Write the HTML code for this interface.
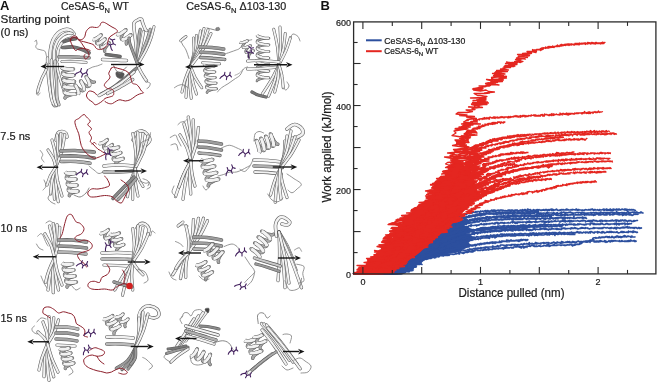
<!DOCTYPE html>
<html><head><meta charset="utf-8"><style>
html,body{margin:0;padding:0;background:#fff;}
body{width:657px;height:382px;overflow:hidden;position:relative;}
svg{position:absolute;left:0;top:0;font-family:"Liberation Sans", sans-serif;will-change:transform;}
</style></head><body>
<svg width="657" height="382" viewBox="0 0 657 382">
<g transform="translate(0,0) scale(0.25)"><path d="M140,166C141,165 144,159 145,160C146,162 148,171 148,176C147,180 142,182 143,186C143,189 145,193 150,196C155,198 165,199 170,201C175,202 178,202 180,206C183,209 184,216 185,221C187,226 190,233 190,236" fill="none" stroke="#7a7a7a" stroke-width="3.2" stroke-linecap="round" stroke-linejoin="round"/><path d="M200,248C201,240 200,215 202,200C204,185 207,171 212,160C217,149 225,139 232,132C239,125 248,121 256,119C264,117 273,117 280,120C287,123 293,133 296,135" fill="none" stroke="#5a5a5a" stroke-width="14.8" stroke-linecap="round" stroke-linejoin="round"/><path d="M200,248C201,240 200,215 202,200C204,185 207,171 212,160C217,149 225,139 232,132C239,125 248,121 256,119C264,117 273,117 280,120C287,123 293,133 296,135" fill="none" stroke="#f2f2f2" stroke-width="10.4" stroke-linecap="round" stroke-linejoin="round"/><path d="M216,248C216,240 215,214 217,200C219,186 224,174 229,164C234,154 242,148 249,142C256,137 264,133 271,132C277,131 285,134 288,134" fill="none" stroke="#5a5a5a" stroke-width="13.2" stroke-linecap="round" stroke-linejoin="round"/><path d="M216,248C216,240 215,214 217,200C219,186 224,174 229,164C234,154 242,148 249,142C256,137 264,133 271,132C277,131 285,134 288,134" fill="none" stroke="#f2f2f2" stroke-width="8.8" stroke-linecap="round" stroke-linejoin="round"/><path d="M230,240C230,234 230,215 232,204C234,193 239,184 244,176C249,168 257,162 264,158C271,154 281,153 284,152" fill="none" stroke="#5a5a5a" stroke-width="12.4" stroke-linecap="round" stroke-linejoin="round"/><path d="M230,240C230,234 230,215 232,204C234,193 239,184 244,176C249,168 257,162 264,158C271,154 281,153 284,152" fill="none" stroke="#f2f2f2" stroke-width="8.0" stroke-linecap="round" stroke-linejoin="round"/><path d="M256,166C260,165 272,160 280,158C288,156 300,155 304,154" fill="none" stroke="#5a5a5a" stroke-width="14.8" stroke-linecap="round" stroke-linejoin="round"/><path d="M256,166C260,165 272,160 280,158C288,156 300,155 304,154" fill="none" stroke="#6e6e6e" stroke-width="10.4" stroke-linecap="round" stroke-linejoin="round"/><path d="M251,190C257,190 278,187 291,188C304,189 317,194 328,198C339,202 351,209 356,211" fill="none" stroke="#5a5a5a" stroke-width="14.8" stroke-linecap="round" stroke-linejoin="round"/><path d="M251,190C257,190 278,187 291,188C304,189 317,194 328,198C339,202 351,209 356,211" fill="none" stroke="#777" stroke-width="10.4" stroke-linecap="round" stroke-linejoin="round"/><path d="M236,227C243,227 266,227 280,227C294,227 307,228 320,229C333,229 350,230 356,231" fill="none" stroke="#5a5a5a" stroke-width="14.8" stroke-linecap="round" stroke-linejoin="round"/><path d="M236,227C243,227 266,227 280,227C294,227 307,228 320,229C333,229 350,230 356,231" fill="none" stroke="#a8a8a8" stroke-width="10.4" stroke-linecap="round" stroke-linejoin="round"/><path d="M248,246C257,246 284,245 300,246C316,247 337,249 344,250" fill="none" stroke="#5a5a5a" stroke-width="12.4" stroke-linecap="round" stroke-linejoin="round"/><path d="M248,246C257,246 284,245 300,246C316,247 337,249 344,250" fill="none" stroke="#f2f2f2" stroke-width="8.0" stroke-linecap="round" stroke-linejoin="round"/><path d="M190,232C190,237 190,248 190,263C191,278 193,301 195,323C198,345 202,378 206,394C209,410 214,415 216,419" fill="none" stroke="#5a5a5a" stroke-width="12.8" stroke-linecap="round" stroke-linejoin="round"/><path d="M190,232C190,237 190,248 190,263C191,278 193,301 195,323C198,345 202,378 206,394C209,410 214,415 216,419" fill="none" stroke="#f2f2f2" stroke-width="8.4" stroke-linecap="round" stroke-linejoin="round"/><path d="M206,240C206,244 205,249 206,263C206,277 206,301 208,323C210,345 213,377 216,394C219,410 224,417 226,421" fill="none" stroke="#5a5a5a" stroke-width="12.8" stroke-linecap="round" stroke-linejoin="round"/><path d="M206,240C206,244 205,249 206,263C206,277 206,301 208,323C210,345 213,377 216,394C219,410 224,417 226,421" fill="none" stroke="#f2f2f2" stroke-width="8.4" stroke-linecap="round" stroke-linejoin="round"/><path d="M220,244C220,248 220,255 220,268C221,281 224,303 226,323C227,343 226,373 228,389C230,405 234,414 236,419" fill="none" stroke="#5a5a5a" stroke-width="12.8" stroke-linecap="round" stroke-linejoin="round"/><path d="M220,244C220,248 220,255 220,268C221,281 224,303 226,323C227,343 226,373 228,389C230,405 234,414 236,419" fill="none" stroke="#cfcfcf" stroke-width="8.4" stroke-linecap="round" stroke-linejoin="round"/><path d="M230,256C230,260 228,265 230,278C233,291 241,318 246,334C251,350 258,367 261,374" fill="none" stroke="#5a5a5a" stroke-width="11.6" stroke-linecap="round" stroke-linejoin="round"/><path d="M230,256C230,260 228,265 230,278C233,291 241,318 246,334C251,350 258,367 261,374" fill="none" stroke="#f2f2f2" stroke-width="7.2" stroke-linecap="round" stroke-linejoin="round"/><path d="M185,256C185,260 188,269 185,278C182,287 173,300 168,312C163,324 158,339 155,348C152,358 151,365 150,369" fill="none" stroke="#5a5a5a" stroke-width="12.0" stroke-linecap="round" stroke-linejoin="round"/><path d="M185,256C185,260 188,269 185,278C182,287 173,300 168,312C163,324 158,339 155,348C152,358 151,365 150,369" fill="none" stroke="#f2f2f2" stroke-width="7.6" stroke-linecap="round" stroke-linejoin="round"/><path d="M150,369C149,370 145,374 145,376C146,378 152,381 154,380C156,379 159,373 160,372" fill="none" stroke="#7a7a7a" stroke-width="3.2" stroke-linecap="round" stroke-linejoin="round"/><path d="M208,418C209,420 212,427 216,428C220,429 228,426 230,426" fill="none" stroke="#7a7a7a" stroke-width="3.6" stroke-linecap="round" stroke-linejoin="round"/><path d="M294,276l-3 0-6 1-9 2-9 3-9 3-6 4-2 4M296,301l-2 0-6 1-9 2-10 3-9 3-6 4-2 4M298,326l-2 0-6 1-9 2-10 2-8 4-6 4-2 4M301,351l-2 0-7 1-9 1-9 3-9 4-6 3-2 4M303,375l-2 1-6 0-9 2-10 3-9 3-5 4-2 4" fill="none" stroke="#5a5a5a" stroke-width="14.0" stroke-linecap="round"/><path d="M294,276l-3 0-6 1-9 2-9 3-9 3-6 4-2 4M296,301l-2 0-6 1-9 2-10 3-9 3-6 4-2 4M298,326l-2 0-6 1-9 2-10 2-8 4-6 4-2 4M301,351l-2 0-7 1-9 1-9 3-9 4-6 3-2 4M303,375l-2 1-6 0-9 2-10 3-9 3-5 4-2 4" fill="none" stroke="#a8a8a8" stroke-width="10.0" stroke-linecap="round"/><path d="M248,268l2 4 7 2 9 2 10 1 9 0 6 0 3-1" fill="none" stroke="#5a5a5a" stroke-width="16.5"/><path d="M248,268l2 4 7 2 9 2 10 1 9 0 6 0 3-1" fill="none" stroke="#f2f2f2" stroke-width="12.5"/><path d="M250,293l3 3 6 3 9 2 10 1 10 0 6-1 2 0" fill="none" stroke="#5a5a5a" stroke-width="16.5"/><path d="M250,293l3 3 6 3 9 2 10 1 10 0 6-1 2 0" fill="none" stroke="#f2f2f2" stroke-width="12.5"/><path d="M252,318l3 3 7 3 9 2 10 0 9 1 6-1 2 0" fill="none" stroke="#5a5a5a" stroke-width="16.5"/><path d="M252,318l3 3 7 3 9 2 10 0 9 1 6-1 2 0" fill="none" stroke="#f2f2f2" stroke-width="12.5"/><path d="M255,343l2 3 7 3 9 1 10 1 9 0 7 0 2 0" fill="none" stroke="#5a5a5a" stroke-width="16.5"/><path d="M255,343l2 3 7 3 9 1 10 1 9 0 7 0 2 0" fill="none" stroke="#f2f2f2" stroke-width="12.5"/><path d="M257,367l3 4 6 2 10 2 10 1 9 0 6 0 2-1" fill="none" stroke="#5a5a5a" stroke-width="16.5"/><path d="M257,367l3 4 6 2 10 2 10 1 9 0 6 0 2-1" fill="none" stroke="#f2f2f2" stroke-width="12.5"/><path d="M300,340l1 2 4 4 5 5 7 6 7 4 6 2 4-1M322,324l1 1 4 4 5 5 7 6 6 4 6 2 5-1M344,307l1 1 4 4 5 6 6 5 7 4 6 2 5-1" fill="none" stroke="#5a5a5a" stroke-width="12.8" stroke-linecap="round"/><path d="M300,340l1 2 4 4 5 5 7 6 7 4 6 2 4-1M322,324l1 1 4 4 5 5 7 6 6 4 6 2 5-1M344,307l1 1 4 4 5 6 6 5 7 4 6 2 5-1" fill="none" stroke="#a8a8a8" stroke-width="8.8" stroke-linecap="round"/><path d="M312,378l2-4 0-6-2-8-4-7-3-7-3-4-2-2" fill="none" stroke="#5a5a5a" stroke-width="15.0"/><path d="M312,378l2-4 0-6-2-8-4-7-3-7-3-4-2-2" fill="none" stroke="#f2f2f2" stroke-width="11.0"/><path d="M334,362l2-4 0-7-2-7-4-8-4-7-2-4-2-1" fill="none" stroke="#5a5a5a" stroke-width="15.0"/><path d="M334,362l2-4 0-7-2-7-4-8-4-7-2-4-2-1" fill="none" stroke="#f2f2f2" stroke-width="11.0"/><path d="M356,345l2-4 0-7-3-7-3-8-4-6-3-5-1-1" fill="none" stroke="#5a5a5a" stroke-width="15.0"/><path d="M356,345l2-4 0-7-3-7-3-8-4-6-3-5-1-1" fill="none" stroke="#f2f2f2" stroke-width="11.0"/><path d="M351,278C355,276 365,270 371,268C378,266 385,265 391,263C397,261 405,257 408,256" fill="none" stroke="#8d8d8d" stroke-width="3.6" stroke-linecap="round" stroke-linejoin="round"/><path d="M504,119l-2 1-3 4-5 6-5 8-3 7-1 7 1 4M524,139l-2 1-3 4-5 6-5 8-3 7-1 7 1 4" fill="none" stroke="#5a5a5a" stroke-width="13.2" stroke-linecap="round"/><path d="M504,119l-2 1-3 4-5 6-5 8-3 7-1 7 1 4M524,139l-2 1-3 4-5 6-5 8-3 7-1 7 1 4" fill="none" stroke="#a8a8a8" stroke-width="9.2" stroke-linecap="round"/><path d="M466,136l5 2 6-1 8-4 7-5 6-4 5-4 1-1" fill="none" stroke="#5a5a5a" stroke-width="15.5"/><path d="M466,136l5 2 6-1 8-4 7-5 6-4 5-4 1-1" fill="none" stroke="#f2f2f2" stroke-width="11.5"/><path d="M486,156l5 2 6-1 8-4 7-5 6-4 5-4 1-1" fill="none" stroke="#5a5a5a" stroke-width="15.5"/><path d="M486,156l5 2 6-1 8-4 7-5 6-4 5-4 1-1" fill="none" stroke="#f2f2f2" stroke-width="11.5"/><path d="M405,139l-1 1-4 4-4 6-5 7-4 7-1 5 1 4M421,155l-1 1-4 4-4 6-5 7-4 7-1 5 1 4M437,171l-1 1-4 4-4 6-5 7-4 7-1 5 1 4" fill="none" stroke="#5a5a5a" stroke-width="12.8" stroke-linecap="round"/><path d="M405,139l-1 1-4 4-4 6-5 7-4 7-1 5 1 4M421,155l-1 1-4 4-4 6-5 7-4 7-1 5 1 4M437,171l-1 1-4 4-4 6-5 7-4 7-1 5 1 4" fill="none" stroke="#a8a8a8" stroke-width="8.8" stroke-linecap="round"/><path d="M371,157l4 1 5-1 7-4 7-5 6-4 4-4 1-1" fill="none" stroke="#5a5a5a" stroke-width="15.0"/><path d="M371,157l4 1 5-1 7-4 7-5 6-4 4-4 1-1" fill="none" stroke="#f2f2f2" stroke-width="11.0"/><path d="M387,173l4 1 5-1 7-4 7-5 6-4 4-4 1-1" fill="none" stroke="#5a5a5a" stroke-width="15.0"/><path d="M387,173l4 1 5-1 7-4 7-5 6-4 4-4 1-1" fill="none" stroke="#f2f2f2" stroke-width="11.0"/><path d="M403,189l4 1 5-1 7-4 7-5 6-4 4-4 1-1" fill="none" stroke="#5a5a5a" stroke-width="15.0"/><path d="M403,189l4 1 5-1 7-4 7-5 6-4 4-4 1-1" fill="none" stroke="#f2f2f2" stroke-width="11.0"/><path d="M425,218C430,218 443,221 452,222C461,223 475,225 480,226" fill="none" stroke="#5a5a5a" stroke-width="14.8" stroke-linecap="round" stroke-linejoin="round"/><path d="M425,218C430,218 443,221 452,222C461,223 475,225 480,226" fill="none" stroke="#6e6e6e" stroke-width="10.4" stroke-linecap="round" stroke-linejoin="round"/><path d="M410,238C418,238 440,239 456,240C472,241 497,242 506,242" fill="none" stroke="#5a5a5a" stroke-width="13.6" stroke-linecap="round" stroke-linejoin="round"/><path d="M410,238C418,238 440,239 456,240C472,241 497,242 506,242" fill="none" stroke="#f2f2f2" stroke-width="9.2" stroke-linecap="round" stroke-linejoin="round"/><path d="M551,258C550,245 546,204 544,180C542,156 537,127 536,112C535,97 534,97 536,92C538,87 546,82 551,80C556,77 563,75 566,77C569,79 568,85 571,92C573,99 579,112 581,117C584,122 585,122 586,122" fill="none" stroke="#5a5a5a" stroke-width="13.6" stroke-linecap="round" stroke-linejoin="round"/><path d="M551,258C550,245 546,204 544,180C542,156 537,127 536,112C535,97 534,97 536,92C538,87 546,82 551,80C556,77 563,75 566,77C569,79 568,85 571,92C573,99 579,112 581,117C584,122 585,122 586,122" fill="none" stroke="#f2f2f2" stroke-width="9.2" stroke-linecap="round" stroke-linejoin="round"/><path d="M551,258C551,247 551,211 552,192C553,173 555,156 556,144C557,132 560,122 561,117" fill="none" stroke="#5a5a5a" stroke-width="12.8" stroke-linecap="round" stroke-linejoin="round"/><path d="M551,258C551,247 551,211 552,192C553,173 555,156 556,144C557,132 560,122 561,117" fill="none" stroke="#aaa" stroke-width="8.4" stroke-linecap="round" stroke-linejoin="round"/><path d="M551,258C552,248 557,216 560,200C563,184 566,172 568,160C570,148 573,133 574,127" fill="none" stroke="#5a5a5a" stroke-width="12.8" stroke-linecap="round" stroke-linejoin="round"/><path d="M551,258C552,248 557,216 560,200C563,184 566,172 568,160C570,148 573,133 574,127" fill="none" stroke="#f2f2f2" stroke-width="8.4" stroke-linecap="round" stroke-linejoin="round"/><path d="M551,258C554,248 566,216 572,200C578,184 583,174 588,160C593,146 599,124 601,117" fill="none" stroke="#5a5a5a" stroke-width="12.4" stroke-linecap="round" stroke-linejoin="round"/><path d="M551,258C554,248 566,216 572,200C578,184 583,174 588,160C593,146 599,124 601,117" fill="none" stroke="#bbb" stroke-width="8.0" stroke-linecap="round" stroke-linejoin="round"/><path d="M551,258C556,248 575,218 584,200C593,182 599,167 604,152C609,137 614,115 616,107" fill="none" stroke="#5a5a5a" stroke-width="12.0" stroke-linecap="round" stroke-linejoin="round"/><path d="M551,258C556,248 575,218 584,200C593,182 599,167 604,152C609,137 614,115 616,107" fill="none" stroke="#f2f2f2" stroke-width="7.6" stroke-linecap="round" stroke-linejoin="round"/><path d="M551,258C548,250 537,222 532,208C527,194 523,185 520,176C517,167 517,156 516,152" fill="none" stroke="#5a5a5a" stroke-width="12.4" stroke-linecap="round" stroke-linejoin="round"/><path d="M551,258C548,250 537,222 532,208C527,194 523,185 520,176C517,167 517,156 516,152" fill="none" stroke="#999" stroke-width="8.0" stroke-linecap="round" stroke-linejoin="round"/><path d="M551,263C553,267 560,281 564,288C568,295 572,302 576,308C580,314 584,321 586,323" fill="none" stroke="#5a5a5a" stroke-width="12.8" stroke-linecap="round" stroke-linejoin="round"/><path d="M551,263C553,267 560,281 564,288C568,295 572,302 576,308C580,314 584,321 586,323" fill="none" stroke="#f2f2f2" stroke-width="8.4" stroke-linecap="round" stroke-linejoin="round"/><path d="M586,323C587,324 589,327 591,328C594,330 600,330 601,334C602,337 598,345 596,348C594,352 590,353 588,354" fill="none" stroke="#7a7a7a" stroke-width="3.2" stroke-linecap="round" stroke-linejoin="round"/><path d="M546,273C539,279 521,296 506,308C490,321 472,337 455,348C438,360 414,371 405,376" fill="none" stroke="#5a5a5a" stroke-width="14.0" stroke-linecap="round" stroke-linejoin="round"/><path d="M546,273C539,279 521,296 506,308C490,321 472,337 455,348C438,360 414,371 405,376" fill="none" stroke="#8a8a8a" stroke-width="9.6" stroke-linecap="round" stroke-linejoin="round"/><path d="M536,288C528,295 504,316 488,328C472,340 455,349 440,358C425,367 403,378 396,382" fill="none" stroke="#5a5a5a" stroke-width="13.2" stroke-linecap="round" stroke-linejoin="round"/><path d="M536,288C528,295 504,316 488,328C472,340 455,349 440,358C425,367 403,378 396,382" fill="none" stroke="#f2f2f2" stroke-width="8.8" stroke-linecap="round" stroke-linejoin="round"/><path d="M531,318C522,323 497,339 480,348C464,358 439,369 430,374" fill="none" stroke="#5a5a5a" stroke-width="13.2" stroke-linecap="round" stroke-linejoin="round"/><path d="M531,318C522,323 497,339 480,348C464,358 439,369 430,374" fill="none" stroke="#e8e8e8" stroke-width="8.8" stroke-linecap="round" stroke-linejoin="round"/><path d="M466,288C470,286 492,290 496,294C499,298 493,311 488,313C483,316 472,312 468,308C464,304 461,290 466,288Z" fill="#555" stroke="#5a5a5a" stroke-width="2.2"/><path d="M455,263C457,267 461,278 466,283C470,288 475,294 480,293C485,292 491,282 496,278C500,274 504,270 506,268" fill="none" stroke="#777" stroke-width="3.6" stroke-linecap="round" stroke-linejoin="round"/><path d="M281,160C282,159 282,153 285,150C288,147 294,144 298,144C301,143 304,144 306,146C308,148 308,152 310,154C313,156 315,158 319,158C322,159 328,159 331,156C335,154 338,148 340,144C342,139 341,132 344,127C346,122 352,116 356,112C361,109 364,108 369,108C374,108 381,111 386,110C391,110 395,107 398,104C402,101 402,94 404,92C407,89 410,88 415,89C419,90 426,94 432,98C437,101 443,105 448,108C454,111 460,114 463,116C467,119 470,122 470,125C469,128 465,130 461,133C457,136 449,140 444,144C440,147 438,148 436,152C434,156 433,160 432,165C430,170 430,177 428,182C426,186 423,187 419,190C415,193 408,198 402,198C397,199 390,197 386,194C381,191 381,185 377,182C374,178 370,177 365,175C359,173 350,171 344,169C337,167 332,166 327,165C322,163 317,161 314,160" fill="none" stroke="#8c1f2b" stroke-width="4.0" stroke-linecap="round" stroke-linejoin="round"/><path d="M281,160C282,163 283,168 285,173C287,178 291,185 294,190C296,195 299,201 302,202C305,204 307,200 310,198C314,197 319,195 323,194C327,193 330,193 335,194C340,195 348,197 352,198C356,200 359,202 360,202" fill="none" stroke="#8c1f2b" stroke-width="4.0" stroke-linecap="round" stroke-linejoin="round"/><path d="M281,166C282,164 283,158 286,155C289,153 292,150 296,150C300,150 307,153 311,155C315,158 318,161 321,166C325,170 328,175 331,180C335,185 338,191 341,196C345,200 349,201 351,206C354,210 356,217 356,221C356,225 354,228 351,231C349,233 344,236 341,236C339,235 336,229 336,226C336,222 340,217 341,216" fill="none" stroke="#8c1f2b" stroke-width="4.0" stroke-linecap="round" stroke-linejoin="round"/><path d="M445,273C444,277 436,287 435,293C434,299 441,303 440,308C440,313 434,319 430,323C427,327 422,330 420,334C418,337 416,340 418,344C419,347 425,351 430,354C436,356 446,355 450,358C455,362 455,369 455,374C455,378 454,381 450,384C447,386 440,387 435,389C430,390 424,391 420,394C416,396 414,400 410,404C406,407 400,411 395,414C390,417 384,420 380,419C376,418 375,412 371,409C367,405 360,403 356,399C352,395 347,389 346,384C345,379 349,372 351,369C354,365 357,364 361,364C365,364 372,366 376,369C381,371 385,377 386,379" fill="none" stroke="#8c1f2b" stroke-width="4.0" stroke-linecap="round" stroke-linejoin="round"/><path d="M445,273C447,272 451,268 455,268C459,268 465,272 470,273C476,275 484,276 490,278C497,280 506,284 511,288C516,292 518,297 521,303C523,309 524,318 526,323C527,328 527,331 531,334C534,336 542,336 546,338C550,341 553,344 556,348C559,353 563,360 566,364C569,367 574,370 574,371C574,373 570,372 566,374C562,375 556,376 551,379C546,381 541,385 536,389C531,392 527,396 521,399C515,401 508,404 501,404C494,404 486,399 480,399C475,399 471,401 466,404C461,406 455,412 450,414C445,416 440,415 435,414C430,413 423,408 420,406" fill="none" stroke="#8c1f2b" stroke-width="4.0" stroke-linecap="round" stroke-linejoin="round"/><path d="M308,300L320,288M320,288L332,296M332,296L344,284M320,288L320,276M332,296L332,308M344,284L352,292M308,300L304,308M344,284L344,272" stroke="#43215e" stroke-width="4.4" stroke-linecap="round" fill="none" transform="rotate(20 328 292)"/><path d="M430,183L441,172M441,172L452,180M452,180L462,169M441,172L441,162M452,180L452,190M462,169L470,176M430,183L426,190M462,169L462,158" stroke="#43215e" stroke-width="4.4" stroke-linecap="round" fill="none" transform="rotate(-60 448 176)"/><path d="M256,266L183,266" stroke="#151515" stroke-width="5.6"/><path d="M162,266L188,254L180,266L188,277Z" fill="#151515"/><path d="M444,258L557,258" stroke="#151515" stroke-width="5.6"/><path d="M578,258L552,269L560,258L552,247Z" fill="#151515"/></g>
<g transform="translate(0,0) scale(0.25)"><path d="M723,163C724,166 728,173 731,180C735,186 740,191 744,200C748,209 754,228 756,234" fill="none" stroke="#7a7a7a" stroke-width="3.2" stroke-linecap="round" stroke-linejoin="round"/><path d="M723,163C726,160 740,149 744,146" fill="none" stroke="#5a5a5a" stroke-width="11.6" stroke-linecap="round" stroke-linejoin="round"/><path d="M723,163C726,160 740,149 744,146" fill="none" stroke="#f2f2f2" stroke-width="7.2" stroke-linecap="round" stroke-linejoin="round"/><path d="M828,112C831,113 842,115 848,117C855,118 861,121 865,121C869,121 872,117 874,117" fill="none" stroke="#7a7a7a" stroke-width="3.6" stroke-linecap="round" stroke-linejoin="round"/><path d="M864,112C866,110 874,109 876,110C878,111 880,118 878,120C876,122 868,123 866,122C864,121 862,114 864,112Z" fill="#888" stroke="#5a5a5a" stroke-width="2.2"/><path d="M762,266C764,256 774,228 776,209C778,190 774,162 774,152" fill="none" stroke="#5a5a5a" stroke-width="12.0" stroke-linecap="round" stroke-linejoin="round"/><path d="M762,266C764,256 774,228 776,209C778,190 774,162 774,152" fill="none" stroke="#f2f2f2" stroke-width="7.6" stroke-linecap="round" stroke-linejoin="round"/><path d="M762,266C765,256 778,225 782,204C786,184 785,153 786,142" fill="none" stroke="#5a5a5a" stroke-width="12.0" stroke-linecap="round" stroke-linejoin="round"/><path d="M762,266C765,256 778,225 782,204C786,184 785,153 786,142" fill="none" stroke="#f2f2f2" stroke-width="7.6" stroke-linecap="round" stroke-linejoin="round"/><path d="M762,266C767,254 783,219 790,195C797,171 800,136 802,124" fill="none" stroke="#5a5a5a" stroke-width="12.0" stroke-linecap="round" stroke-linejoin="round"/><path d="M762,266C767,254 783,219 790,195C797,171 800,136 802,124" fill="none" stroke="#f2f2f2" stroke-width="7.6" stroke-linecap="round" stroke-linejoin="round"/><path d="M762,266C768,253 788,215 797,190C806,165 813,127 816,114" fill="none" stroke="#5a5a5a" stroke-width="12.0" stroke-linecap="round" stroke-linejoin="round"/><path d="M762,266C768,253 788,215 797,190C806,165 813,127 816,114" fill="none" stroke="#f2f2f2" stroke-width="7.6" stroke-linecap="round" stroke-linejoin="round"/><path d="M762,266C769,254 793,217 805,193C817,169 828,132 832,120" fill="none" stroke="#5a5a5a" stroke-width="12.0" stroke-linecap="round" stroke-linejoin="round"/><path d="M762,266C769,254 793,217 805,193C817,169 828,132 832,120" fill="none" stroke="#f2f2f2" stroke-width="7.6" stroke-linecap="round" stroke-linejoin="round"/><path d="M762,266C770,255 797,222 811,200C825,178 838,145 844,134" fill="none" stroke="#5a5a5a" stroke-width="12.0" stroke-linecap="round" stroke-linejoin="round"/><path d="M762,266C770,255 797,222 811,200C825,178 838,145 844,134" fill="none" stroke="#f2f2f2" stroke-width="7.6" stroke-linecap="round" stroke-linejoin="round"/><path d="M762,266C760,276 752,307 749,328C746,348 745,379 744,389" fill="none" stroke="#5a5a5a" stroke-width="12.0" stroke-linecap="round" stroke-linejoin="round"/><path d="M762,266C760,276 752,307 749,328C746,348 745,379 744,389" fill="none" stroke="#f2f2f2" stroke-width="7.6" stroke-linecap="round" stroke-linejoin="round"/><path d="M762,266C762,277 759,308 759,330C760,351 764,383 765,393" fill="none" stroke="#5a5a5a" stroke-width="12.0" stroke-linecap="round" stroke-linejoin="round"/><path d="M762,266C762,277 759,308 759,330C760,351 764,383 765,393" fill="none" stroke="#f2f2f2" stroke-width="7.6" stroke-linecap="round" stroke-linejoin="round"/><path d="M762,266C763,275 766,303 770,321C774,340 783,367 786,376" fill="none" stroke="#5a5a5a" stroke-width="12.0" stroke-linecap="round" stroke-linejoin="round"/><path d="M762,266C763,275 766,303 770,321C774,340 783,367 786,376" fill="none" stroke="#f2f2f2" stroke-width="7.6" stroke-linecap="round" stroke-linejoin="round"/><path d="M762,266C765,273 773,294 780,309C788,323 802,344 807,351" fill="none" stroke="#5a5a5a" stroke-width="12.0" stroke-linecap="round" stroke-linejoin="round"/><path d="M762,266C765,273 773,294 780,309C788,323 802,344 807,351" fill="none" stroke="#f2f2f2" stroke-width="7.6" stroke-linecap="round" stroke-linejoin="round"/><path d="M762,266C758,274 747,300 741,317C735,334 730,360 728,368" fill="none" stroke="#5a5a5a" stroke-width="12.0" stroke-linecap="round" stroke-linejoin="round"/><path d="M762,266C758,274 747,300 741,317C735,334 730,360 728,368" fill="none" stroke="#f2f2f2" stroke-width="7.6" stroke-linecap="round" stroke-linejoin="round"/><path d="M698,351C700,350 705,345 710,343C716,341 724,337 731,339C738,340 749,349 752,351" fill="none" stroke="#7a7a7a" stroke-width="3.2" stroke-linecap="round" stroke-linejoin="round"/><path d="M798,188C807,188 832,189 848,190C864,191 887,195 895,196" fill="none" stroke="#5a5a5a" stroke-width="14.0" stroke-linecap="round" stroke-linejoin="round"/><path d="M798,188C807,188 832,189 848,190C864,191 887,195 895,196" fill="none" stroke="#9c9c9c" stroke-width="9.6" stroke-linecap="round" stroke-linejoin="round"/><path d="M802,209C810,209 833,210 848,211C863,213 887,216 895,217" fill="none" stroke="#5a5a5a" stroke-width="14.0" stroke-linecap="round" stroke-linejoin="round"/><path d="M802,209C810,209 833,210 848,211C863,213 887,216 895,217" fill="none" stroke="#9c9c9c" stroke-width="9.6" stroke-linecap="round" stroke-linejoin="round"/><path d="M802,230C811,230 836,231 852,233C868,234 891,237 899,238" fill="none" stroke="#5a5a5a" stroke-width="13.2" stroke-linecap="round" stroke-linejoin="round"/><path d="M802,230C811,230 836,231 852,233C868,234 891,237 899,238" fill="none" stroke="#b0b0b0" stroke-width="8.8" stroke-linecap="round" stroke-linejoin="round"/><path d="M811,251C822,252 867,254 878,255" fill="none" stroke="#5a5a5a" stroke-width="12.4" stroke-linecap="round" stroke-linejoin="round"/><path d="M811,251C822,252 867,254 878,255" fill="none" stroke="#f2f2f2" stroke-width="8.0" stroke-linecap="round" stroke-linejoin="round"/><path d="M858,265l-2 0-6 1-8 2-9 2-8 3-5 4-2 4M860,287l-2 1-6 0-8 2-9 3-8 3-5 3-2 4M862,310l-2 0-5 1-8 1-9 3-8 3-6 4-1 3M865,332l-2 0-6 1-8 2-9 2-8 4-5 3-2 4M867,355l-2 0-5 1-9 1-8 3-8 3-6 4-1 3" fill="none" stroke="#5a5a5a" stroke-width="10.5" stroke-linecap="round"/><path d="M858,265l-2 0-6 1-8 2-9 2-8 3-5 4-2 4M860,287l-2 1-6 0-8 2-9 3-8 3-5 3-2 4M862,310l-2 0-5 1-8 1-9 3-8 3-6 4-1 3M865,332l-2 0-6 1-8 2-9 2-8 4-5 3-2 4M867,355l-2 0-5 1-9 1-8 3-8 3-6 4-1 3" fill="none" stroke="#a8a8a8" stroke-width="6.5" stroke-linecap="round"/><path d="M816,258l2 3 6 3 8 1 10 1 8 0 6-1 2 0" fill="none" stroke="#5a5a5a" stroke-width="12.2"/><path d="M816,258l2 3 6 3 8 1 10 1 8 0 6-1 2 0" fill="none" stroke="#f2f2f2" stroke-width="8.2"/><path d="M818,281l2 3 6 2 9 2 9 0 8 0 6 0 2-1" fill="none" stroke="#5a5a5a" stroke-width="12.2"/><path d="M818,281l2 3 6 2 9 2 9 0 8 0 6 0 2-1" fill="none" stroke="#f2f2f2" stroke-width="8.2"/><path d="M820,303l3 3 6 2 8 2 9 1 9 0 5-1 2 0" fill="none" stroke="#5a5a5a" stroke-width="12.2"/><path d="M820,303l3 3 6 2 8 2 9 1 9 0 5-1 2 0" fill="none" stroke="#f2f2f2" stroke-width="8.2"/><path d="M823,325l2 3 6 3 9 1 9 1 8 0 6 0 2-1" fill="none" stroke="#5a5a5a" stroke-width="12.2"/><path d="M823,325l2 3 6 3 9 1 9 1 8 0 6 0 2-1" fill="none" stroke="#f2f2f2" stroke-width="8.2"/><path d="M825,348l3 3 6 2 8 2 9 0 8 0 6 0 2 0" fill="none" stroke="#5a5a5a" stroke-width="12.2"/><path d="M825,348l3 3 6 2 8 2 9 0 8 0 6 0 2 0" fill="none" stroke="#f2f2f2" stroke-width="8.2"/><path d="M870,368C872,365 879,357 886,351C893,346 903,340 912,335C920,329 928,324 936,318C944,312 954,308 960,301C966,294 969,282 974,276C979,270 988,269 990,268" fill="none" stroke="#8a8a8a" stroke-width="3.6" stroke-linecap="round" stroke-linejoin="round"/><path d="M895,217C899,216 912,212 920,209C928,206 938,203 945,200C951,198 954,198 960,192C966,186 974,173 982,167C990,162 1003,160 1007,159" fill="none" stroke="#8a8a8a" stroke-width="3.6" stroke-linecap="round" stroke-linejoin="round"/><path d="M940,301C943,300 951,297 957,293C962,289 971,279 974,276" fill="none" stroke="#999" stroke-width="3.2" stroke-linecap="round" stroke-linejoin="round"/><path d="M991,162l-2 1-3 2-5 4-4 5-4 5-2 5 0 4M1003,182l-2 1-3 2-5 4-4 5-4 5-2 5 0 4M1015,202l-2 1-3 2-5 4-4 5-4 5-2 5 0 4" fill="none" stroke="#5a5a5a" stroke-width="10.5" stroke-linecap="round"/><path d="M991,162l-2 1-3 2-5 4-4 5-4 5-2 5 0 4M1003,182l-2 1-3 2-5 4-4 5-4 5-2 5 0 4M1015,202l-2 1-3 2-5 4-4 5-4 5-2 5 0 4" fill="none" stroke="#a8a8a8" stroke-width="6.5" stroke-linecap="round"/><path d="M959,168l3 2 6 0 6-1 6-2 6-2 3-2 2-1" fill="none" stroke="#5a5a5a" stroke-width="12.2"/><path d="M959,168l3 2 6 0 6-1 6-2 6-2 3-2 2-1" fill="none" stroke="#f2f2f2" stroke-width="8.2"/><path d="M971,188l3 2 6 0 6-1 6-2 6-2 3-2 2-1" fill="none" stroke="#5a5a5a" stroke-width="12.2"/><path d="M971,188l3 2 6 0 6-1 6-2 6-2 3-2 2-1" fill="none" stroke="#f2f2f2" stroke-width="8.2"/><path d="M983,208l3 2 6 0 6-1 6-2 6-2 3-2 2-1" fill="none" stroke="#5a5a5a" stroke-width="12.2"/><path d="M983,208l3 2 6 0 6-1 6-2 6-2 3-2 2-1" fill="none" stroke="#f2f2f2" stroke-width="8.2"/><path d="M1076,153l-2 0-7 0-10 1-10 2-10 3-7 3-2 4M1076,179l-2 0-7 1-10 1-10 1-10 3-7 4-2 4M1076,206l-2 0-7 0-10 1-10 2-10 3-7 3-2 4M1076,232l-2 0-7 0-10 1-10 2-10 3-7 3-2 4M1076,258l-2 0-7 0-10 1-10 2-10 3-7 4-2 3M1076,285l-2-1-7 1-10 1-10 2-10 2-7 4-2 4M1076,311l-2 0-7 0-10 1-10 2-10 3-7 3-2 4" fill="none" stroke="#5a5a5a" stroke-width="10.5" stroke-linecap="round"/><path d="M1076,153l-2 0-7 0-10 1-10 2-10 3-7 3-2 4M1076,179l-2 0-7 1-10 1-10 1-10 3-7 4-2 4M1076,206l-2 0-7 0-10 1-10 2-10 3-7 3-2 4M1076,232l-2 0-7 0-10 1-10 2-10 3-7 3-2 4M1076,258l-2 0-7 0-10 1-10 2-10 3-7 4-2 3M1076,285l-2-1-7 1-10 1-10 2-10 2-7 4-2 4M1076,311l-2 0-7 0-10 1-10 2-10 3-7 3-2 4" fill="none" stroke="#a8a8a8" stroke-width="6.5" stroke-linecap="round"/><path d="M1028,140l2 4 7 3 10 3 10 2 10 1 7 0 2 0" fill="none" stroke="#5a5a5a" stroke-width="12.2"/><path d="M1028,140l2 4 7 3 10 3 10 2 10 1 7 0 2 0" fill="none" stroke="#f2f2f2" stroke-width="8.2"/><path d="M1028,166l2 4 7 4 10 2 10 2 10 1 7 1 2-1" fill="none" stroke="#5a5a5a" stroke-width="12.2"/><path d="M1028,166l2 4 7 4 10 2 10 2 10 1 7 1 2-1" fill="none" stroke="#f2f2f2" stroke-width="8.2"/><path d="M1028,193l2 3 7 4 10 3 10 2 10 1 7 0 2 0" fill="none" stroke="#5a5a5a" stroke-width="12.2"/><path d="M1028,193l2 3 7 4 10 3 10 2 10 1 7 0 2 0" fill="none" stroke="#f2f2f2" stroke-width="8.2"/><path d="M1028,219l2 4 7 3 10 3 10 2 10 1 7 0 2 0" fill="none" stroke="#5a5a5a" stroke-width="12.2"/><path d="M1028,219l2 4 7 3 10 3 10 2 10 1 7 0 2 0" fill="none" stroke="#f2f2f2" stroke-width="8.2"/><path d="M1028,245l2 4 7 3 10 3 10 2 10 1 7 0 2 0" fill="none" stroke="#5a5a5a" stroke-width="12.2"/><path d="M1028,245l2 4 7 3 10 3 10 2 10 1 7 0 2 0" fill="none" stroke="#f2f2f2" stroke-width="8.2"/><path d="M1028,271l2 4 7 4 10 3 10 1 10 1 7 1 2 0" fill="none" stroke="#5a5a5a" stroke-width="12.2"/><path d="M1028,271l2 4 7 4 10 3 10 1 10 1 7 1 2 0" fill="none" stroke="#f2f2f2" stroke-width="8.2"/><path d="M1028,298l2 4 7 3 10 3 10 2 10 1 7 0 2 0" fill="none" stroke="#5a5a5a" stroke-width="12.2"/><path d="M1028,298l2 4 7 3 10 3 10 2 10 1 7 0 2 0" fill="none" stroke="#f2f2f2" stroke-width="8.2"/><path d="M1116,259C1115,247 1113,212 1110,188C1106,164 1098,129 1095,117" fill="none" stroke="#5a5a5a" stroke-width="12.0" stroke-linecap="round" stroke-linejoin="round"/><path d="M1116,259C1115,247 1113,212 1110,188C1106,164 1098,129 1095,117" fill="none" stroke="#f2f2f2" stroke-width="7.6" stroke-linecap="round" stroke-linejoin="round"/><path d="M1116,259C1117,247 1121,209 1122,184C1123,159 1120,121 1120,108" fill="none" stroke="#5a5a5a" stroke-width="12.0" stroke-linecap="round" stroke-linejoin="round"/><path d="M1116,259C1117,247 1121,209 1122,184C1123,159 1120,121 1120,108" fill="none" stroke="#f2f2f2" stroke-width="7.6" stroke-linecap="round" stroke-linejoin="round"/><path d="M1116,259C1119,249 1128,217 1133,196C1137,175 1140,144 1141,134" fill="none" stroke="#5a5a5a" stroke-width="12.0" stroke-linecap="round" stroke-linejoin="round"/><path d="M1116,259C1119,249 1128,217 1133,196C1137,175 1140,144 1141,134" fill="none" stroke="#f2f2f2" stroke-width="7.6" stroke-linecap="round" stroke-linejoin="round"/><path d="M1116,259C1120,250 1135,223 1143,205C1151,187 1159,159 1162,150" fill="none" stroke="#5a5a5a" stroke-width="12.0" stroke-linecap="round" stroke-linejoin="round"/><path d="M1116,259C1120,250 1135,223 1143,205C1151,187 1159,159 1162,150" fill="none" stroke="#f2f2f2" stroke-width="7.6" stroke-linecap="round" stroke-linejoin="round"/><path d="M1162,150C1164,148 1167,137 1172,136C1177,135 1187,141 1192,146C1196,151 1199,161 1200,164" fill="none" stroke="#7a7a7a" stroke-width="3.2" stroke-linecap="round" stroke-linejoin="round"/><path d="M990,244C1000,244 1027,241 1048,242C1069,243 1105,247 1116,248" fill="none" stroke="#5a5a5a" stroke-width="12.4" stroke-linecap="round" stroke-linejoin="round"/><path d="M990,244C1000,244 1027,241 1048,242C1069,243 1105,247 1116,248" fill="none" stroke="#f2f2f2" stroke-width="8.0" stroke-linecap="round" stroke-linejoin="round"/><path d="M990,276C1000,276 1027,275 1048,274C1069,273 1105,269 1116,268" fill="none" stroke="#5a5a5a" stroke-width="12.4" stroke-linecap="round" stroke-linejoin="round"/><path d="M990,276C1000,276 1027,275 1048,274C1069,273 1105,269 1116,268" fill="none" stroke="#f2f2f2" stroke-width="8.0" stroke-linecap="round" stroke-linejoin="round"/><path d="M1116,259C1111,269 1098,298 1086,318C1075,337 1055,367 1049,376" fill="none" stroke="#5a5a5a" stroke-width="12.0" stroke-linecap="round" stroke-linejoin="round"/><path d="M1116,259C1111,269 1098,298 1086,318C1075,337 1055,367 1049,376" fill="none" stroke="#f2f2f2" stroke-width="7.6" stroke-linecap="round" stroke-linejoin="round"/><path d="M1116,259C1113,270 1106,301 1099,322C1092,343 1078,374 1074,385" fill="none" stroke="#5a5a5a" stroke-width="12.0" stroke-linecap="round" stroke-linejoin="round"/><path d="M1116,259C1113,270 1106,301 1099,322C1092,343 1078,374 1074,385" fill="none" stroke="#f2f2f2" stroke-width="7.6" stroke-linecap="round" stroke-linejoin="round"/><path d="M1116,259C1115,268 1114,295 1112,314C1109,332 1101,359 1099,368" fill="none" stroke="#5a5a5a" stroke-width="12.0" stroke-linecap="round" stroke-linejoin="round"/><path d="M1116,259C1115,268 1114,295 1112,314C1109,332 1101,359 1099,368" fill="none" stroke="#f2f2f2" stroke-width="7.6" stroke-linecap="round" stroke-linejoin="round"/><path d="M1116,259C1118,267 1126,290 1128,305C1131,321 1132,344 1133,351" fill="none" stroke="#5a5a5a" stroke-width="12.0" stroke-linecap="round" stroke-linejoin="round"/><path d="M1116,259C1118,267 1126,290 1128,305C1131,321 1132,344 1133,351" fill="none" stroke="#f2f2f2" stroke-width="7.6" stroke-linecap="round" stroke-linejoin="round"/><path d="M1008,368C1012,370 1023,377 1032,380C1041,383 1059,387 1064,388" fill="none" stroke="#5a5a5a" stroke-width="13.2" stroke-linecap="round" stroke-linejoin="round"/><path d="M1008,368C1012,370 1023,377 1032,380C1041,383 1059,387 1064,388" fill="none" stroke="#777" stroke-width="8.8" stroke-linecap="round" stroke-linejoin="round"/><path d="M1133,351C1135,353 1140,361 1144,360C1148,359 1155,349 1156,344C1157,339 1149,331 1148,328" fill="none" stroke="#7a7a7a" stroke-width="3.2" stroke-linecap="round" stroke-linejoin="round"/><path d="M886,311L897,300M897,300L908,308M908,308L918,297M897,300L897,290M908,308L908,318M918,297L926,304M886,311L882,318M918,297L918,286" stroke="#43215e" stroke-width="4.4" stroke-linecap="round" fill="none" transform="rotate(10 904 304)"/><path d="M982,215L993,204M993,204L1004,212M1004,212L1014,201M993,204L993,194M1004,212L1004,222M1014,201L1022,208M982,215L978,222M1014,201L1014,190" stroke="#43215e" stroke-width="4.4" stroke-linecap="round" fill="none" transform="rotate(-50 1000 208)"/><path d="M870,264L761,267" stroke="#151515" stroke-width="5.6"/><path d="M740,268L766,256L758,267L766,278Z" fill="#151515"/><path d="M1016,259L1149,259" stroke="#151515" stroke-width="5.6"/><path d="M1170,259L1144,270L1152,259L1144,248Z" fill="#151515"/></g>
<g transform="translate(0,0) scale(0.25)"><path d="M161,602C163,605 170,612 171,618C172,623 165,628 166,633C167,638 174,645 176,648" fill="none" stroke="#7a7a7a" stroke-width="3.2" stroke-linecap="round" stroke-linejoin="round"/><path d="M176,720C177,724 185,737 184,744C183,751 174,757 172,760" fill="none" stroke="#7a7a7a" stroke-width="3.2" stroke-linecap="round" stroke-linejoin="round"/><path d="M224,560C225,555 228,538 232,532C236,526 243,526 248,526C253,526 261,530 264,534C267,538 267,546 268,548" fill="none" stroke="#5a5a5a" stroke-width="14.0" stroke-linecap="round" stroke-linejoin="round"/><path d="M224,560C225,555 228,538 232,532C236,526 243,526 248,526C253,526 261,530 264,534C267,538 267,546 268,548" fill="none" stroke="#f2f2f2" stroke-width="9.6" stroke-linecap="round" stroke-linejoin="round"/><path d="M223,669C224,658 231,626 231,605C232,583 229,551 228,540" fill="none" stroke="#5a5a5a" stroke-width="12.4" stroke-linecap="round" stroke-linejoin="round"/><path d="M223,669C224,658 231,626 231,605C232,583 229,551 228,540" fill="none" stroke="#f2f2f2" stroke-width="8.0" stroke-linecap="round" stroke-linejoin="round"/><path d="M223,669C226,658 236,624 239,601C242,579 242,545 243,534" fill="none" stroke="#5a5a5a" stroke-width="12.4" stroke-linecap="round" stroke-linejoin="round"/><path d="M223,669C226,658 236,624 239,601C242,579 242,545 243,534" fill="none" stroke="#f2f2f2" stroke-width="8.0" stroke-linecap="round" stroke-linejoin="round"/><path d="M223,669C227,658 241,626 247,604C253,582 257,550 259,539" fill="none" stroke="#5a5a5a" stroke-width="12.4" stroke-linecap="round" stroke-linejoin="round"/><path d="M223,669C227,658 241,626 247,604C253,582 257,550 259,539" fill="none" stroke="#f2f2f2" stroke-width="8.0" stroke-linecap="round" stroke-linejoin="round"/><path d="M223,669C223,660 224,633 221,614C219,596 210,569 208,560" fill="none" stroke="#5a5a5a" stroke-width="12.4" stroke-linecap="round" stroke-linejoin="round"/><path d="M223,669C223,660 224,633 221,614C219,596 210,569 208,560" fill="none" stroke="#f2f2f2" stroke-width="8.0" stroke-linecap="round" stroke-linejoin="round"/><path d="M223,669C221,663 219,646 213,634C208,623 196,606 192,600" fill="none" stroke="#5a5a5a" stroke-width="12.4" stroke-linecap="round" stroke-linejoin="round"/><path d="M223,669C221,663 219,646 213,634C208,623 196,606 192,600" fill="none" stroke="#f2f2f2" stroke-width="8.0" stroke-linecap="round" stroke-linejoin="round"/><path d="M223,669C222,680 217,712 216,733C215,754 217,786 218,797" fill="none" stroke="#5a5a5a" stroke-width="12.4" stroke-linecap="round" stroke-linejoin="round"/><path d="M223,669C222,680 217,712 216,733C215,754 217,786 218,797" fill="none" stroke="#f2f2f2" stroke-width="8.0" stroke-linecap="round" stroke-linejoin="round"/><path d="M223,669C223,680 222,715 224,738C225,761 231,796 233,807" fill="none" stroke="#5a5a5a" stroke-width="12.4" stroke-linecap="round" stroke-linejoin="round"/><path d="M223,669C223,680 222,715 224,738C225,761 231,796 233,807" fill="none" stroke="#f2f2f2" stroke-width="8.0" stroke-linecap="round" stroke-linejoin="round"/><path d="M223,669C220,678 212,705 208,723C205,741 203,767 202,776" fill="none" stroke="#5a5a5a" stroke-width="12.4" stroke-linecap="round" stroke-linejoin="round"/><path d="M223,669C220,678 212,705 208,723C205,741 203,767 202,776" fill="none" stroke="#f2f2f2" stroke-width="8.0" stroke-linecap="round" stroke-linejoin="round"/><path d="M223,669C224,678 227,707 231,726C236,746 245,774 248,784" fill="none" stroke="#5a5a5a" stroke-width="12.4" stroke-linecap="round" stroke-linejoin="round"/><path d="M223,669C224,678 227,707 231,726C236,746 245,774 248,784" fill="none" stroke="#f2f2f2" stroke-width="8.0" stroke-linecap="round" stroke-linejoin="round"/><path d="M223,669C219,675 207,693 201,704C196,716 190,734 188,740" fill="none" stroke="#5a5a5a" stroke-width="12.4" stroke-linecap="round" stroke-linejoin="round"/><path d="M223,669C219,675 207,693 201,704C196,716 190,734 188,740" fill="none" stroke="#f2f2f2" stroke-width="8.0" stroke-linecap="round" stroke-linejoin="round"/><path d="M202,776C200,779 192,787 192,792C192,797 199,804 204,808C209,812 217,815 220,816" fill="none" stroke="#7a7a7a" stroke-width="3.2" stroke-linecap="round" stroke-linejoin="round"/><path d="M243,604C253,604 278,601 300,602C322,603 364,607 377,608" fill="none" stroke="#5a5a5a" stroke-width="14.4" stroke-linecap="round" stroke-linejoin="round"/><path d="M243,604C253,604 278,601 300,602C322,603 364,607 377,608" fill="none" stroke="#9c9c9c" stroke-width="10.0" stroke-linecap="round" stroke-linejoin="round"/><path d="M243,624C253,624 282,623 304,624C326,625 365,631 377,632" fill="none" stroke="#5a5a5a" stroke-width="14.4" stroke-linecap="round" stroke-linejoin="round"/><path d="M243,624C253,624 282,623 304,624C326,625 365,631 377,632" fill="none" stroke="#9a9a9a" stroke-width="10.0" stroke-linecap="round" stroke-linejoin="round"/><path d="M244,646C254,646 285,645 304,646C323,647 351,652 360,653" fill="none" stroke="#5a5a5a" stroke-width="13.6" stroke-linecap="round" stroke-linejoin="round"/><path d="M244,646C254,646 285,645 304,646C323,647 351,652 360,653" fill="none" stroke="#b5b5b5" stroke-width="9.2" stroke-linecap="round" stroke-linejoin="round"/><path d="M301,693l-2 0-5 1-8 2-8 3-7 4-5 4-1 4M305,717l-2 0-5 1-8 2-8 3-7 4-5 4-1 4M309,741l-2 0-5 1-8 2-8 3-7 4-5 4-1 4M313,765l-2 0-5 1-8 2-8 3-7 4-5 4-1 4" fill="none" stroke="#5a5a5a" stroke-width="13.2" stroke-linecap="round"/><path d="M301,693l-2 0-5 1-8 2-8 3-7 4-5 4-1 4M305,717l-2 0-5 1-8 2-8 3-7 4-5 4-1 4M309,741l-2 0-5 1-8 2-8 3-7 4-5 4-1 4M313,765l-2 0-5 1-8 2-8 3-7 4-5 4-1 4" fill="none" stroke="#a8a8a8" stroke-width="9.2" stroke-linecap="round"/><path d="M261,687l2 3 6 3 8 1 9 0 8 0 5-1 2 0" fill="none" stroke="#5a5a5a" stroke-width="15.5"/><path d="M261,687l2 3 6 3 8 1 9 0 8 0 5-1 2 0" fill="none" stroke="#f2f2f2" stroke-width="11.5"/><path d="M265,711l2 3 6 3 8 1 9 0 8 0 5-1 2 0" fill="none" stroke="#5a5a5a" stroke-width="15.5"/><path d="M265,711l2 3 6 3 8 1 9 0 8 0 5-1 2 0" fill="none" stroke="#f2f2f2" stroke-width="11.5"/><path d="M269,735l2 3 6 3 8 1 9 0 8 0 5-1 2 0" fill="none" stroke="#5a5a5a" stroke-width="15.5"/><path d="M269,735l2 3 6 3 8 1 9 0 8 0 5-1 2 0" fill="none" stroke="#f2f2f2" stroke-width="11.5"/><path d="M273,759l2 3 6 3 8 1 9 0 8 0 5-1 2 0" fill="none" stroke="#5a5a5a" stroke-width="15.5"/><path d="M273,759l2 3 6 3 8 1 9 0 8 0 5-1 2 0" fill="none" stroke="#f2f2f2" stroke-width="11.5"/><path d="M296,780C300,781 312,789 320,788C328,787 338,778 344,772C350,766 354,755 356,752" fill="none" stroke="#7a7a7a" stroke-width="3.6" stroke-linecap="round" stroke-linejoin="round"/><path d="M356,664C359,667 369,675 376,680C383,685 389,694 396,694C403,695 414,686 418,684" fill="none" stroke="#8a8a8a" stroke-width="3.6" stroke-linecap="round" stroke-linejoin="round"/><path d="M430,558l-1 1-3 4-4 5-4 7-3 7-1 6 2 4M450,578l-1 1-3 4-4 5-4 7-3 7-1 6 2 4" fill="none" stroke="#5a5a5a" stroke-width="12.4" stroke-linecap="round"/><path d="M430,558l-1 1-3 4-4 5-4 7-3 7-1 6 2 4M450,578l-1 1-3 4-4 5-4 7-3 7-1 6 2 4" fill="none" stroke="#a8a8a8" stroke-width="8.4" stroke-linecap="round"/><path d="M396,572l4 2 6-1 7-3 7-4 5-4 4-3 1-1" fill="none" stroke="#5a5a5a" stroke-width="14.6"/><path d="M396,572l4 2 6-1 7-3 7-4 5-4 4-3 1-1" fill="none" stroke="#f2f2f2" stroke-width="10.6"/><path d="M416,592l4 2 6-1 7-3 7-4 5-4 4-3 1-1" fill="none" stroke="#5a5a5a" stroke-width="14.6"/><path d="M416,592l4 2 6-1 7-3 7-4 5-4 4-3 1-1" fill="none" stroke="#f2f2f2" stroke-width="10.6"/><path d="M475,588l-2 1-5 2-7 4-7 5-7 5-3 5-1 4M484,611l-2 0-5 3-7 3-7 5-6 6-4 5 0 4M493,633l-1 1-5 2-7 4-8 5-6 5-4 5 0 4" fill="none" stroke="#5a5a5a" stroke-width="13.2" stroke-linecap="round"/><path d="M475,588l-2 1-5 2-7 4-7 5-7 5-3 5-1 4M484,611l-2 0-5 3-7 3-7 5-6 6-4 5 0 4M493,633l-1 1-5 2-7 4-8 5-6 5-4 5 0 4" fill="none" stroke="#a8a8a8" stroke-width="9.2" stroke-linecap="round"/><path d="M434,591l3 3 6 1 9-1 8-1 8-2 5-2 2-1" fill="none" stroke="#5a5a5a" stroke-width="15.5"/><path d="M434,591l3 3 6 1 9-1 8-1 8-2 5-2 2-1" fill="none" stroke="#f2f2f2" stroke-width="11.5"/><path d="M443,614l3 3 7 1 8-1 9-2 7-2 5-2 2 0" fill="none" stroke="#5a5a5a" stroke-width="15.5"/><path d="M443,614l3 3 7 1 8-1 9-2 7-2 5-2 2 0" fill="none" stroke="#f2f2f2" stroke-width="11.5"/><path d="M453,637l3 2 6 1 8 0 9-2 8-2 5-2 1-1" fill="none" stroke="#5a5a5a" stroke-width="15.5"/><path d="M453,637l3 2 6 1 8 0 9-2 8-2 5-2 1-1" fill="none" stroke="#f2f2f2" stroke-width="11.5"/><path d="M416,664C425,663 453,660 472,660C491,660 522,663 532,664" fill="none" stroke="#5a5a5a" stroke-width="13.6" stroke-linecap="round" stroke-linejoin="round"/><path d="M416,664C425,663 453,660 472,660C491,660 522,663 532,664" fill="none" stroke="#f2f2f2" stroke-width="9.2" stroke-linecap="round" stroke-linejoin="round"/><path d="M416,688C425,688 453,689 472,688C491,687 522,685 532,684" fill="none" stroke="#5a5a5a" stroke-width="13.6" stroke-linecap="round" stroke-linejoin="round"/><path d="M416,688C425,688 453,689 472,688C491,687 522,685 532,684" fill="none" stroke="#bdbdbd" stroke-width="9.2" stroke-linecap="round" stroke-linejoin="round"/><path d="M532,560C534,555 538,538 544,532C550,526 561,523 568,524C575,525 583,530 588,536C593,542 601,552 600,560C599,568 583,580 580,584" fill="none" stroke="#5a5a5a" stroke-width="13.2" stroke-linecap="round" stroke-linejoin="round"/><path d="M532,560C534,555 538,538 544,532C550,526 561,523 568,524C575,525 583,530 588,536C593,542 601,552 600,560C599,568 583,580 580,584" fill="none" stroke="#f2f2f2" stroke-width="8.8" stroke-linecap="round" stroke-linejoin="round"/><path d="M541,674C541,662 543,627 542,604C540,581 533,546 531,534" fill="none" stroke="#5a5a5a" stroke-width="12.0" stroke-linecap="round" stroke-linejoin="round"/><path d="M541,674C541,662 543,627 542,604C540,581 533,546 531,534" fill="none" stroke="#f2f2f2" stroke-width="7.6" stroke-linecap="round" stroke-linejoin="round"/><path d="M541,674C543,662 550,626 552,602C554,577 551,541 551,529" fill="none" stroke="#5a5a5a" stroke-width="12.0" stroke-linecap="round" stroke-linejoin="round"/><path d="M541,674C543,662 550,626 552,602C554,577 551,541 551,529" fill="none" stroke="#f2f2f2" stroke-width="7.6" stroke-linecap="round" stroke-linejoin="round"/><path d="M541,674C544,662 557,627 562,604C567,581 570,546 572,534" fill="none" stroke="#5a5a5a" stroke-width="12.0" stroke-linecap="round" stroke-linejoin="round"/><path d="M541,674C544,662 557,627 562,604C567,581 570,546 572,534" fill="none" stroke="#f2f2f2" stroke-width="7.6" stroke-linecap="round" stroke-linejoin="round"/><path d="M541,674C546,663 564,631 573,609C581,588 589,555 592,544" fill="none" stroke="#5a5a5a" stroke-width="12.0" stroke-linecap="round" stroke-linejoin="round"/><path d="M541,674C546,663 564,631 573,609C581,588 589,555 592,544" fill="none" stroke="#f2f2f2" stroke-width="7.6" stroke-linecap="round" stroke-linejoin="round"/><path d="M541,674C538,683 527,712 521,730C516,749 512,777 510,787" fill="none" stroke="#5a5a5a" stroke-width="12.0" stroke-linecap="round" stroke-linejoin="round"/><path d="M541,674C538,683 527,712 521,730C516,749 512,777 510,787" fill="none" stroke="#f2f2f2" stroke-width="7.6" stroke-linecap="round" stroke-linejoin="round"/><path d="M541,674C539,684 533,715 532,736C530,756 531,787 531,797" fill="none" stroke="#5a5a5a" stroke-width="12.0" stroke-linecap="round" stroke-linejoin="round"/><path d="M541,674C539,684 533,715 532,736C530,756 531,787 531,797" fill="none" stroke="#f2f2f2" stroke-width="7.6" stroke-linecap="round" stroke-linejoin="round"/><path d="M541,674C543,680 547,698 552,710C557,722 568,740 572,746" fill="none" stroke="#5a5a5a" stroke-width="12.0" stroke-linecap="round" stroke-linejoin="round"/><path d="M541,674C543,680 547,698 552,710C557,722 568,740 572,746" fill="none" stroke="#f2f2f2" stroke-width="7.6" stroke-linecap="round" stroke-linejoin="round"/><path d="M541,674C541,683 541,711 542,729C544,747 550,775 552,784" fill="none" stroke="#5a5a5a" stroke-width="12.0" stroke-linecap="round" stroke-linejoin="round"/><path d="M541,674C541,683 541,711 542,729C544,747 550,775 552,784" fill="none" stroke="#f2f2f2" stroke-width="7.6" stroke-linecap="round" stroke-linejoin="round"/><path d="M572,715C575,716 587,719 592,724C597,729 603,740 602,746C602,751 590,754 588,756" fill="none" stroke="#7a7a7a" stroke-width="3.2" stroke-linecap="round" stroke-linejoin="round"/><path d="M536,708C529,715 510,734 496,748C482,762 459,787 452,794" fill="none" stroke="#5a5a5a" stroke-width="14.0" stroke-linecap="round" stroke-linejoin="round"/><path d="M536,708C529,715 510,734 496,748C482,762 459,787 452,794" fill="none" stroke="#8a8a8a" stroke-width="9.6" stroke-linecap="round" stroke-linejoin="round"/><path d="M544,716C538,723 520,746 508,760C496,774 478,792 472,798" fill="none" stroke="#5a5a5a" stroke-width="13.2" stroke-linecap="round" stroke-linejoin="round"/><path d="M544,716C538,723 520,746 508,760C496,774 478,792 472,798" fill="none" stroke="#a8a8a8" stroke-width="8.8" stroke-linecap="round" stroke-linejoin="round"/><path d="M559,724C563,726 577,732 583,733C589,734 595,727 597,728C598,730 593,740 592,743" fill="none" stroke="#7a7a7a" stroke-width="3.2" stroke-linecap="round" stroke-linejoin="round"/><path d="M545,639C546,634 551,622 554,611C558,600 560,581 564,573C568,565 573,567 578,564C583,560 593,560 597,554C601,549 601,535 602,531" fill="none" stroke="#7a7a7a" stroke-width="3.2" stroke-linecap="round" stroke-linejoin="round"/><path d="M418,618C414,619 404,625 397,628C390,630 384,634 377,633C370,632 363,628 356,622C349,617 341,609 336,602C330,595 328,588 325,582C323,575 322,569 320,561C318,553 318,544 315,535C313,527 307,518 305,510C302,501 298,490 300,484C301,478 309,478 315,474C321,469 330,459 336,458C341,458 342,464 346,468C350,473 360,479 361,484C362,489 350,494 351,499C352,504 366,510 366,515C367,520 356,524 356,530C356,536 366,545 366,551C367,557 360,562 361,566C362,570 368,573 372,576C375,580 379,583 382,587C385,590 389,594 392,597C395,599 398,599 402,602C407,605 413,610 418,612C422,615 426,617 428,618" fill="none" stroke="#8c1f2b" stroke-width="4.0" stroke-linecap="round" stroke-linejoin="round"/><path d="M368,576C370,575 375,570 378,570C381,570 383,575 384,576" fill="none" stroke="#8c1f2b" stroke-width="4.0" stroke-linecap="round" stroke-linejoin="round"/><path d="M418,705C419,706 425,709 428,715C431,721 440,735 438,741C437,747 425,748 418,751C410,753 401,755 392,756C383,757 373,753 366,756C360,759 352,766 351,772C350,777 355,784 361,787C367,789 377,788 387,787C396,786 407,782 418,782C428,782 441,783 448,787C456,790 458,798 464,802C470,807 479,813 484,812C490,812 491,803 495,797C498,791 502,783 505,776C509,770 515,763 515,756C515,749 510,742 505,736C500,730 488,723 484,720" fill="none" stroke="#8c1f2b" stroke-width="4.0" stroke-linecap="round" stroke-linejoin="round"/><path d="M312,699L323,688M323,688L334,696M334,696L344,685M323,688L323,678M334,696L334,706M344,685L352,692M312,699L308,706M344,685L344,674" stroke="#43215e" stroke-width="4.4" stroke-linecap="round" fill="none" transform="rotate(15 330 692)"/><path d="M414,621L425,610M425,610L436,618M436,618L446,607M425,610L425,600M436,618L436,628M446,607L454,614M414,621L410,628M446,607L446,596" stroke="#43215e" stroke-width="4.4" stroke-linecap="round" fill="none" transform="rotate(-40 432 614)"/><path d="M233,669L167,669" stroke="#151515" stroke-width="5.6"/><path d="M146,669L172,658L164,669L172,680Z" fill="#151515"/><path d="M459,684L567,684" stroke="#151515" stroke-width="5.6"/><path d="M588,684L562,695L570,684L562,673Z" fill="#151515"/></g>
<g transform="translate(0,0) scale(0.25)"><path d="M712,499C714,498 717,492 722,489C727,487 737,487 742,484C748,481 751,471 753,468" fill="none" stroke="#7a7a7a" stroke-width="3.2" stroke-linecap="round" stroke-linejoin="round"/><path d="M681,550C685,549 696,539 702,540C707,542 708,554 712,561C716,568 722,580 724,584" fill="none" stroke="#7a7a7a" stroke-width="3.2" stroke-linecap="round" stroke-linejoin="round"/><path d="M684,580C687,579 699,573 704,576C709,579 711,596 712,600" fill="none" stroke="#7a7a7a" stroke-width="3.2" stroke-linecap="round" stroke-linejoin="round"/><path d="M763,643C763,628 766,585 764,556C762,527 755,483 753,468" fill="none" stroke="#5a5a5a" stroke-width="12.8" stroke-linecap="round" stroke-linejoin="round"/><path d="M763,643C763,628 766,585 764,556C762,527 755,483 753,468" fill="none" stroke="#f2f2f2" stroke-width="8.4" stroke-linecap="round" stroke-linejoin="round"/><path d="M763,643C765,629 773,588 774,561C776,533 773,492 773,479" fill="none" stroke="#5a5a5a" stroke-width="12.8" stroke-linecap="round" stroke-linejoin="round"/><path d="M763,643C765,629 773,588 774,561C776,533 773,492 773,479" fill="none" stroke="#f2f2f2" stroke-width="8.4" stroke-linecap="round" stroke-linejoin="round"/><path d="M763,643C767,632 779,598 785,576C790,554 792,521 794,510" fill="none" stroke="#5a5a5a" stroke-width="12.8" stroke-linecap="round" stroke-linejoin="round"/><path d="M763,643C767,632 779,598 785,576C790,554 792,521 794,510" fill="none" stroke="#f2f2f2" stroke-width="8.4" stroke-linecap="round" stroke-linejoin="round"/><path d="M763,643C762,631 760,594 756,569C751,545 739,508 736,496" fill="none" stroke="#5a5a5a" stroke-width="12.8" stroke-linecap="round" stroke-linejoin="round"/><path d="M763,643C762,631 760,594 756,569C751,545 739,508 736,496" fill="none" stroke="#f2f2f2" stroke-width="8.4" stroke-linecap="round" stroke-linejoin="round"/><path d="M763,643C761,634 755,609 748,591C740,574 725,549 720,540" fill="none" stroke="#5a5a5a" stroke-width="12.8" stroke-linecap="round" stroke-linejoin="round"/><path d="M763,643C761,634 755,609 748,591C740,574 725,549 720,540" fill="none" stroke="#f2f2f2" stroke-width="8.4" stroke-linecap="round" stroke-linejoin="round"/><path d="M763,643C757,655 739,691 728,715C718,739 706,774 702,786" fill="none" stroke="#5a5a5a" stroke-width="12.8" stroke-linecap="round" stroke-linejoin="round"/><path d="M763,643C757,655 739,691 728,715C718,739 706,774 702,786" fill="none" stroke="#f2f2f2" stroke-width="8.4" stroke-linecap="round" stroke-linejoin="round"/><path d="M763,643C760,656 749,694 744,720C738,745 734,784 732,797" fill="none" stroke="#5a5a5a" stroke-width="12.8" stroke-linecap="round" stroke-linejoin="round"/><path d="M763,643C760,656 749,694 744,720C738,745 734,784 732,797" fill="none" stroke="#f2f2f2" stroke-width="8.4" stroke-linecap="round" stroke-linejoin="round"/><path d="M763,643C763,654 759,687 759,709C759,732 763,765 763,776" fill="none" stroke="#5a5a5a" stroke-width="12.8" stroke-linecap="round" stroke-linejoin="round"/><path d="M763,643C763,654 759,687 759,709C759,732 763,765 763,776" fill="none" stroke="#f2f2f2" stroke-width="8.4" stroke-linecap="round" stroke-linejoin="round"/><path d="M763,643C759,652 743,678 736,695C728,713 719,739 716,748" fill="none" stroke="#5a5a5a" stroke-width="12.8" stroke-linecap="round" stroke-linejoin="round"/><path d="M763,643C759,652 743,678 736,695C728,713 719,739 716,748" fill="none" stroke="#f2f2f2" stroke-width="8.4" stroke-linecap="round" stroke-linejoin="round"/><path d="M763,643C764,651 765,677 768,693C770,710 778,736 780,744" fill="none" stroke="#5a5a5a" stroke-width="12.8" stroke-linecap="round" stroke-linejoin="round"/><path d="M763,643C764,651 765,677 768,693C770,710 778,736 780,744" fill="none" stroke="#f2f2f2" stroke-width="8.4" stroke-linecap="round" stroke-linejoin="round"/><path d="M702,786C699,783 689,775 688,768C687,761 695,748 696,744" fill="none" stroke="#7a7a7a" stroke-width="3.2" stroke-linecap="round" stroke-linejoin="round"/><path d="M794,564C802,565 825,566 840,568C855,570 878,575 886,576" fill="none" stroke="#5a5a5a" stroke-width="14.0" stroke-linecap="round" stroke-linejoin="round"/><path d="M794,564C802,565 825,566 840,568C855,570 878,575 886,576" fill="none" stroke="#9c9c9c" stroke-width="9.6" stroke-linecap="round" stroke-linejoin="round"/><path d="M794,588C802,589 825,590 840,592C855,594 878,599 886,600" fill="none" stroke="#5a5a5a" stroke-width="14.0" stroke-linecap="round" stroke-linejoin="round"/><path d="M794,588C802,589 825,590 840,592C855,594 878,599 886,600" fill="none" stroke="#999" stroke-width="9.6" stroke-linecap="round" stroke-linejoin="round"/><path d="M796,612C803,613 826,614 840,616C854,618 873,621 880,622" fill="none" stroke="#5a5a5a" stroke-width="13.2" stroke-linecap="round" stroke-linejoin="round"/><path d="M796,612C803,613 826,614 840,616C854,618 873,621 880,622" fill="none" stroke="#b5b5b5" stroke-width="8.8" stroke-linecap="round" stroke-linejoin="round"/><path d="M851,638l-2 0-6 3-9 4-10 5-9 5-5 6-1 4M859,664l-2 0-6 3-9 4-10 5-9 5-5 6-1 4M867,690l-2 0-6 3-9 4-10 5-9 5-5 6-1 4M875,716l-2 0-6 3-9 4-10 5-9 5-5 6-1 4" fill="none" stroke="#5a5a5a" stroke-width="14.0" stroke-linecap="round"/><path d="M851,638l-2 0-6 3-9 4-10 5-9 5-5 6-1 4M859,664l-2 0-6 3-9 4-10 5-9 5-5 6-1 4M867,690l-2 0-6 3-9 4-10 5-9 5-5 6-1 4M875,716l-2 0-6 3-9 4-10 5-9 5-5 6-1 4" fill="none" stroke="#a8a8a8" stroke-width="10.0" stroke-linecap="round"/><path d="M801,639l3 3 8 2 10 0 11-2 9-2 7-1 2-1" fill="none" stroke="#5a5a5a" stroke-width="16.5"/><path d="M801,639l3 3 8 2 10 0 11-2 9-2 7-1 2-1" fill="none" stroke="#f2f2f2" stroke-width="12.5"/><path d="M809,665l3 3 8 2 10 0 11-2 9-2 7-1 2-1" fill="none" stroke="#5a5a5a" stroke-width="16.5"/><path d="M809,665l3 3 8 2 10 0 11-2 9-2 7-1 2-1" fill="none" stroke="#f2f2f2" stroke-width="12.5"/><path d="M817,691l3 3 8 2 10 0 11-2 9-2 7-1 2-1" fill="none" stroke="#5a5a5a" stroke-width="16.5"/><path d="M817,691l3 3 8 2 10 0 11-2 9-2 7-1 2-1" fill="none" stroke="#f2f2f2" stroke-width="12.5"/><path d="M825,717l3 3 8 2 10 0 11-2 9-2 7-1 2-1" fill="none" stroke="#5a5a5a" stroke-width="16.5"/><path d="M825,717l3 3 8 2 10 0 11-2 9-2 7-1 2-1" fill="none" stroke="#f2f2f2" stroke-width="12.5"/><path d="M812,744C814,747 819,760 824,760C829,760 837,747 840,744" fill="none" stroke="#7a7a7a" stroke-width="3.2" stroke-linecap="round" stroke-linejoin="round"/><path d="M886,592C891,590 907,581 917,581C927,581 939,588 948,592C956,595 965,600 968,602" fill="none" stroke="#8a8a8a" stroke-width="3.6" stroke-linecap="round" stroke-linejoin="round"/><path d="M872,704C877,703 892,699 900,696C908,693 914,689 920,688C926,687 931,690 938,689C944,689 951,687 958,684C965,681 972,677 978,674C985,670 995,665 999,663" fill="none" stroke="#8a8a8a" stroke-width="3.6" stroke-linecap="round" stroke-linejoin="round"/><path d="M1016,564C1017,559 1017,542 1020,536C1023,530 1030,527 1036,526C1042,525 1051,531 1054,532" fill="none" stroke="#7a7a7a" stroke-width="3.2" stroke-linecap="round" stroke-linejoin="round"/><path d="M1025,562l1 2 3 6 5 8 6 10 6 8 5 5 4 1M1044,553l1 2 3 6 5 9 6 9 6 8 5 6 4 0M1063,545l1 2 3 6 5 9 5 9 6 8 6 5 3 1M1082,536l1 3 3 6 4 8 6 10 6 8 5 5 4 1" fill="none" stroke="#5a5a5a" stroke-width="14.0" stroke-linecap="round"/><path d="M1025,562l1 2 3 6 5 8 6 10 6 8 5 5 4 1M1044,553l1 2 3 6 5 9 6 9 6 8 5 6 4 0M1063,545l1 2 3 6 5 9 5 9 6 8 6 5 3 1M1082,536l1 3 3 6 4 8 6 10 6 8 5 5 4 1" fill="none" stroke="#a8a8a8" stroke-width="10.0" stroke-linecap="round"/><path d="M1036,610l2-3-1-7-2-10-3-11-3-9-2-6-2-2" fill="none" stroke="#5a5a5a" stroke-width="16.5"/><path d="M1036,610l2-3-1-7-2-10-3-11-3-9-2-6-2-2" fill="none" stroke="#f2f2f2" stroke-width="12.5"/><path d="M1055,602l2-4-1-7-2-10-3-10-3-9-3-7-1-2" fill="none" stroke="#5a5a5a" stroke-width="16.5"/><path d="M1055,602l2-4-1-7-2-10-3-10-3-9-3-7-1-2" fill="none" stroke="#f2f2f2" stroke-width="12.5"/><path d="M1074,593l1-3 0-7-2-10-3-11-3-9-3-6-1-2" fill="none" stroke="#5a5a5a" stroke-width="16.5"/><path d="M1074,593l1-3 0-7-2-10-3-11-3-9-3-6-1-2" fill="none" stroke="#f2f2f2" stroke-width="12.5"/><path d="M1092,585l2-3 0-8-2-9-3-11-4-9-2-7-1-2" fill="none" stroke="#5a5a5a" stroke-width="16.5"/><path d="M1092,585l2-3 0-8-2-9-3-11-4-9-2-7-1-2" fill="none" stroke="#f2f2f2" stroke-width="12.5"/><path d="M1016,640C1026,640 1053,641 1072,642C1091,643 1120,647 1130,648" fill="none" stroke="#5a5a5a" stroke-width="14.0" stroke-linecap="round" stroke-linejoin="round"/><path d="M1016,640C1026,640 1053,641 1072,642C1091,643 1120,647 1130,648" fill="none" stroke="#f2f2f2" stroke-width="9.6" stroke-linecap="round" stroke-linejoin="round"/><path d="M1016,664C1026,664 1053,665 1072,666C1091,667 1120,669 1130,670" fill="none" stroke="#5a5a5a" stroke-width="14.0" stroke-linecap="round" stroke-linejoin="round"/><path d="M1016,664C1026,664 1053,665 1072,666C1091,667 1120,669 1130,670" fill="none" stroke="#b0b0b0" stroke-width="9.6" stroke-linecap="round" stroke-linejoin="round"/><path d="M1020,688C1029,688 1055,689 1072,690C1089,691 1115,695 1124,696" fill="none" stroke="#5a5a5a" stroke-width="13.2" stroke-linecap="round" stroke-linejoin="round"/><path d="M1020,688C1029,688 1055,689 1072,690C1089,691 1115,695 1124,696" fill="none" stroke="#f2f2f2" stroke-width="8.8" stroke-linecap="round" stroke-linejoin="round"/><path d="M1148,516C1153,513 1167,498 1177,498C1186,497 1200,506 1205,512C1211,518 1213,529 1210,536C1206,542 1194,546 1186,550C1179,553 1167,554 1163,554" fill="none" stroke="#5a5a5a" stroke-width="14.8" stroke-linecap="round" stroke-linejoin="round"/><path d="M1148,516C1153,513 1167,498 1177,498C1186,497 1200,506 1205,512C1211,518 1213,529 1210,536C1206,542 1194,546 1186,550C1179,553 1167,554 1163,554" fill="none" stroke="#f2f2f2" stroke-width="10.4" stroke-linecap="round" stroke-linejoin="round"/><path d="M1120,677C1123,667 1132,639 1136,620C1139,602 1139,573 1139,564" fill="none" stroke="#5a5a5a" stroke-width="12.8" stroke-linecap="round" stroke-linejoin="round"/><path d="M1120,677C1123,667 1132,639 1136,620C1139,602 1139,573 1139,564" fill="none" stroke="#f2f2f2" stroke-width="8.4" stroke-linecap="round" stroke-linejoin="round"/><path d="M1120,677C1123,666 1135,633 1140,610C1145,588 1147,555 1148,544" fill="none" stroke="#5a5a5a" stroke-width="12.8" stroke-linecap="round" stroke-linejoin="round"/><path d="M1120,677C1123,666 1135,633 1140,610C1145,588 1147,555 1148,544" fill="none" stroke="#f2f2f2" stroke-width="8.4" stroke-linecap="round" stroke-linejoin="round"/><path d="M1120,677C1125,664 1141,626 1148,600C1155,575 1161,537 1164,524" fill="none" stroke="#5a5a5a" stroke-width="12.8" stroke-linecap="round" stroke-linejoin="round"/><path d="M1120,677C1125,664 1141,626 1148,600C1155,575 1161,537 1164,524" fill="none" stroke="#f2f2f2" stroke-width="8.4" stroke-linecap="round" stroke-linejoin="round"/><path d="M1120,677C1126,666 1146,634 1156,612C1166,591 1176,559 1180,548" fill="none" stroke="#5a5a5a" stroke-width="12.8" stroke-linecap="round" stroke-linejoin="round"/><path d="M1120,677C1126,666 1146,634 1156,612C1166,591 1176,559 1180,548" fill="none" stroke="#f2f2f2" stroke-width="8.4" stroke-linecap="round" stroke-linejoin="round"/><path d="M1120,677C1127,667 1151,638 1164,618C1177,599 1191,570 1196,560" fill="none" stroke="#5a5a5a" stroke-width="12.8" stroke-linecap="round" stroke-linejoin="round"/><path d="M1120,677C1127,667 1151,638 1164,618C1177,599 1191,570 1196,560" fill="none" stroke="#f2f2f2" stroke-width="8.4" stroke-linecap="round" stroke-linejoin="round"/><path d="M1120,677C1116,685 1103,711 1097,729C1091,746 1085,772 1082,780" fill="none" stroke="#5a5a5a" stroke-width="12.8" stroke-linecap="round" stroke-linejoin="round"/><path d="M1120,677C1116,685 1103,711 1097,729C1091,746 1085,772 1082,780" fill="none" stroke="#f2f2f2" stroke-width="8.4" stroke-linecap="round" stroke-linejoin="round"/><path d="M1120,677C1118,688 1110,721 1107,743C1103,765 1102,798 1101,809" fill="none" stroke="#5a5a5a" stroke-width="12.8" stroke-linecap="round" stroke-linejoin="round"/><path d="M1120,677C1118,688 1110,721 1107,743C1103,765 1102,798 1101,809" fill="none" stroke="#f2f2f2" stroke-width="8.4" stroke-linecap="round" stroke-linejoin="round"/><path d="M1120,677C1122,686 1125,715 1130,733C1135,752 1145,781 1148,790" fill="none" stroke="#5a5a5a" stroke-width="12.8" stroke-linecap="round" stroke-linejoin="round"/><path d="M1120,677C1122,686 1125,715 1130,733C1135,752 1145,781 1148,790" fill="none" stroke="#f2f2f2" stroke-width="8.4" stroke-linecap="round" stroke-linejoin="round"/><path d="M1120,677C1120,687 1117,717 1118,736C1119,756 1123,786 1124,796" fill="none" stroke="#5a5a5a" stroke-width="12.8" stroke-linecap="round" stroke-linejoin="round"/><path d="M1120,677C1120,687 1117,717 1118,736C1119,756 1123,786 1124,796" fill="none" stroke="#f2f2f2" stroke-width="8.4" stroke-linecap="round" stroke-linejoin="round"/><path d="M1148,696C1152,699 1163,705 1172,712C1181,719 1203,729 1205,736C1208,743 1194,750 1188,756C1182,762 1174,771 1168,771C1162,772 1155,762 1152,760" fill="none" stroke="#7a7a7a" stroke-width="3.2" stroke-linecap="round" stroke-linejoin="round"/><path d="M1071,776C1074,780 1081,795 1088,800C1095,805 1105,808 1112,807C1119,805 1129,794 1132,792" fill="none" stroke="#7a7a7a" stroke-width="3.2" stroke-linecap="round" stroke-linejoin="round"/><path d="M960,677C963,678 973,688 979,686C985,684 992,675 998,667C1003,659 1010,644 1012,639" fill="none" stroke="#8a8a8a" stroke-width="3.6" stroke-linecap="round" stroke-linejoin="round"/><path d="M960,619L971,608M971,608L982,616M982,616L993,605M971,608L971,598M982,616L982,626M993,605L1000,612M960,619L957,626M993,605L993,594" stroke="#43215e" stroke-width="4.4" stroke-linecap="round" fill="none" transform="rotate(10 978 612)"/><path d="M902,688L913,678M913,678L924,685M924,685L934,674M913,678L913,667M924,685L924,696M934,674L942,681M902,688L898,696M934,674L934,663" stroke="#43215e" stroke-width="4.4" stroke-linecap="round" fill="none" transform="rotate(-20 920 681)"/><path d="M814,643L753,643" stroke="#151515" stroke-width="5.6"/><path d="M732,643L758,632L750,643L758,654Z" fill="#151515"/><path d="M1091,668L1168,668" stroke="#151515" stroke-width="5.6"/><path d="M1189,668L1162,680L1170,668L1162,657Z" fill="#151515"/></g>
<g transform="translate(0,0) scale(0.25)"><path d="M151,945C154,943 162,931 167,935C172,938 178,957 182,966C186,974 190,981 192,984" fill="none" stroke="#7a7a7a" stroke-width="3.2" stroke-linecap="round" stroke-linejoin="round"/><path d="M146,976C148,979 152,988 156,992C160,996 169,999 172,1000" fill="none" stroke="#7a7a7a" stroke-width="3.2" stroke-linecap="round" stroke-linejoin="round"/><path d="M184,892C186,891 192,885 196,884C200,883 206,887 208,888" fill="none" stroke="#7a7a7a" stroke-width="3.2" stroke-linecap="round" stroke-linejoin="round"/><path d="M218,1032C217,1021 217,989 214,968C210,947 200,915 198,904" fill="none" stroke="#5a5a5a" stroke-width="12.8" stroke-linecap="round" stroke-linejoin="round"/><path d="M218,1032C217,1021 217,989 214,968C210,947 200,915 198,904" fill="none" stroke="#f2f2f2" stroke-width="8.4" stroke-linecap="round" stroke-linejoin="round"/><path d="M218,1032C219,1020 222,986 221,963C221,940 214,905 213,894" fill="none" stroke="#5a5a5a" stroke-width="12.8" stroke-linecap="round" stroke-linejoin="round"/><path d="M218,1032C219,1020 222,986 221,963C221,940 214,905 213,894" fill="none" stroke="#f2f2f2" stroke-width="8.4" stroke-linecap="round" stroke-linejoin="round"/><path d="M218,1032C220,1021 227,988 229,965C231,943 229,910 228,899" fill="none" stroke="#5a5a5a" stroke-width="12.8" stroke-linecap="round" stroke-linejoin="round"/><path d="M218,1032C220,1021 227,988 229,965C231,943 229,910 228,899" fill="none" stroke="#f2f2f2" stroke-width="8.4" stroke-linecap="round" stroke-linejoin="round"/><path d="M218,1032C221,1022 231,991 234,971C238,950 238,919 239,909" fill="none" stroke="#5a5a5a" stroke-width="12.8" stroke-linecap="round" stroke-linejoin="round"/><path d="M218,1032C221,1022 231,991 234,971C238,950 238,919 239,909" fill="none" stroke="#f2f2f2" stroke-width="8.4" stroke-linecap="round" stroke-linejoin="round"/><path d="M218,1032C216,1024 211,1000 205,984C199,968 184,944 180,936" fill="none" stroke="#5a5a5a" stroke-width="12.8" stroke-linecap="round" stroke-linejoin="round"/><path d="M218,1032C216,1024 211,1000 205,984C199,968 184,944 180,936" fill="none" stroke="#f2f2f2" stroke-width="8.4" stroke-linecap="round" stroke-linejoin="round"/><path d="M218,1032C215,1043 205,1075 201,1096C197,1118 194,1150 192,1160" fill="none" stroke="#5a5a5a" stroke-width="12.8" stroke-linecap="round" stroke-linejoin="round"/><path d="M218,1032C215,1043 205,1075 201,1096C197,1118 194,1150 192,1160" fill="none" stroke="#f2f2f2" stroke-width="8.4" stroke-linecap="round" stroke-linejoin="round"/><path d="M218,1032C217,1044 212,1078 211,1101C211,1125 213,1159 213,1171" fill="none" stroke="#5a5a5a" stroke-width="12.8" stroke-linecap="round" stroke-linejoin="round"/><path d="M218,1032C217,1044 212,1078 211,1101C211,1125 213,1159 213,1171" fill="none" stroke="#f2f2f2" stroke-width="8.4" stroke-linecap="round" stroke-linejoin="round"/><path d="M218,1032C219,1043 219,1075 222,1096C224,1118 232,1150 234,1160" fill="none" stroke="#5a5a5a" stroke-width="12.8" stroke-linecap="round" stroke-linejoin="round"/><path d="M218,1032C219,1043 219,1075 222,1096C224,1118 232,1150 234,1160" fill="none" stroke="#f2f2f2" stroke-width="8.4" stroke-linecap="round" stroke-linejoin="round"/><path d="M218,1032C214,1040 202,1065 196,1081C190,1097 184,1121 182,1130" fill="none" stroke="#5a5a5a" stroke-width="12.8" stroke-linecap="round" stroke-linejoin="round"/><path d="M218,1032C214,1040 202,1065 196,1081C190,1097 184,1121 182,1130" fill="none" stroke="#f2f2f2" stroke-width="8.4" stroke-linecap="round" stroke-linejoin="round"/><path d="M218,1032C220,1041 224,1068 229,1086C234,1104 245,1131 248,1140" fill="none" stroke="#5a5a5a" stroke-width="12.8" stroke-linecap="round" stroke-linejoin="round"/><path d="M218,1032C220,1041 224,1068 229,1086C234,1104 245,1131 248,1140" fill="none" stroke="#f2f2f2" stroke-width="8.4" stroke-linecap="round" stroke-linejoin="round"/><path d="M164,1104C166,1109 172,1124 176,1132C180,1140 186,1149 188,1152" fill="none" stroke="#7a7a7a" stroke-width="3.2" stroke-linecap="round" stroke-linejoin="round"/><path d="M234,960C243,960 269,959 288,960C307,961 337,967 346,968" fill="none" stroke="#5a5a5a" stroke-width="14.4" stroke-linecap="round" stroke-linejoin="round"/><path d="M234,960C243,960 269,959 288,960C307,961 337,967 346,968" fill="none" stroke="#9c9c9c" stroke-width="10.0" stroke-linecap="round" stroke-linejoin="round"/><path d="M234,984C243,984 269,985 288,986C307,987 337,991 346,992" fill="none" stroke="#5a5a5a" stroke-width="14.4" stroke-linecap="round" stroke-linejoin="round"/><path d="M234,984C243,984 269,985 288,986C307,987 337,991 346,992" fill="none" stroke="#9a9a9a" stroke-width="10.0" stroke-linecap="round" stroke-linejoin="round"/><path d="M234,1008C243,1008 270,1009 288,1010C306,1011 335,1015 344,1016" fill="none" stroke="#5a5a5a" stroke-width="13.6" stroke-linecap="round" stroke-linejoin="round"/><path d="M234,1008C243,1008 270,1009 288,1010C306,1011 335,1015 344,1016" fill="none" stroke="#b5b5b5" stroke-width="9.2" stroke-linecap="round" stroke-linejoin="round"/><path d="M291,1056l-2 0-6 2-8 2-8 4-8 4-5 4-1 4M296,1080l-2 0-6 2-8 2-8 4-8 4-5 4-1 4M301,1104l-2 0-6 2-8 2-8 4-8 4-5 4-1 4M306,1128l-2 0-6 2-8 2-8 4-8 4-5 4-1 4" fill="none" stroke="#5a5a5a" stroke-width="13.6" stroke-linecap="round"/><path d="M291,1056l-2 0-6 2-8 2-8 4-8 4-5 4-1 4M296,1080l-2 0-6 2-8 2-8 4-8 4-5 4-1 4M301,1104l-2 0-6 2-8 2-8 4-8 4-5 4-1 4M306,1128l-2 0-6 2-8 2-8 4-8 4-5 4-1 4" fill="none" stroke="#a8a8a8" stroke-width="9.6" stroke-linecap="round"/><path d="M248,1052l3 3 6 2 8 1 10 0 8-1 6-1 2 0" fill="none" stroke="#5a5a5a" stroke-width="16.0"/><path d="M248,1052l3 3 6 2 8 1 10 0 8-1 6-1 2 0" fill="none" stroke="#f2f2f2" stroke-width="12.0"/><path d="M253,1076l3 3 6 2 8 1 10 0 8-1 6-1 2 0" fill="none" stroke="#5a5a5a" stroke-width="16.0"/><path d="M253,1076l3 3 6 2 8 1 10 0 8-1 6-1 2 0" fill="none" stroke="#f2f2f2" stroke-width="12.0"/><path d="M258,1100l3 3 6 2 8 1 10 0 8-1 6-1 2 0" fill="none" stroke="#5a5a5a" stroke-width="16.0"/><path d="M258,1100l3 3 6 2 8 1 10 0 8-1 6-1 2 0" fill="none" stroke="#f2f2f2" stroke-width="12.0"/><path d="M263,1124l3 3 6 2 8 1 10 0 8-1 6-1 2 0" fill="none" stroke="#5a5a5a" stroke-width="16.0"/><path d="M263,1124l3 3 6 2 8 1 10 0 8-1 6-1 2 0" fill="none" stroke="#f2f2f2" stroke-width="12.0"/><path d="M288,1144C291,1147 299,1159 304,1160C309,1161 317,1153 320,1152" fill="none" stroke="#7a7a7a" stroke-width="3.2" stroke-linecap="round" stroke-linejoin="round"/><path d="M434,918l-1 1-3 3-4 6-4 7-3 7-1 6 2 4M454,938l-1 1-3 3-4 6-4 7-3 7-1 6 2 4" fill="none" stroke="#5a5a5a" stroke-width="12.4" stroke-linecap="round"/><path d="M434,918l-1 1-3 3-4 6-4 7-3 7-1 6 2 4M454,938l-1 1-3 3-4 6-4 7-3 7-1 6 2 4" fill="none" stroke="#a8a8a8" stroke-width="8.4" stroke-linecap="round"/><path d="M400,932l4 2 6-1 7-3 7-4 6-4 3-3 1-1" fill="none" stroke="#5a5a5a" stroke-width="14.6"/><path d="M400,932l4 2 6-1 7-3 7-4 6-4 3-3 1-1" fill="none" stroke="#f2f2f2" stroke-width="10.6"/><path d="M420,952l4 2 6-1 7-3 7-4 6-4 3-3 1-1" fill="none" stroke="#5a5a5a" stroke-width="14.6"/><path d="M420,952l4 2 6-1 7-3 7-4 6-4 3-3 1-1" fill="none" stroke="#f2f2f2" stroke-width="10.6"/><path d="M478,932l-2 1-5 2-6 4-7 5-6 5-3 5-1 4M487,955l-2 1-4 2-7 3-7 5-6 5-3 5 0 4M496,978l-1 0-5 2-6 4-7 5-6 5-4 5 0 4" fill="none" stroke="#5a5a5a" stroke-width="12.8" stroke-linecap="round"/><path d="M478,932l-2 1-5 2-6 4-7 5-6 5-3 5-1 4M487,955l-2 1-4 2-7 3-7 5-6 5-3 5 0 4M496,978l-1 0-5 2-6 4-7 5-6 5-4 5 0 4" fill="none" stroke="#a8a8a8" stroke-width="8.8" stroke-linecap="round"/><path d="M439,935l3 3 6 1 8-1 8-1 7-2 5-2 2-1" fill="none" stroke="#5a5a5a" stroke-width="15.0"/><path d="M439,935l3 3 6 1 8-1 8-1 7-2 5-2 2-1" fill="none" stroke="#f2f2f2" stroke-width="11.0"/><path d="M448,958l3 2 6 1 8 0 8-2 8-2 4-1 2-1" fill="none" stroke="#5a5a5a" stroke-width="15.0"/><path d="M448,958l3 2 6 1 8 0 8-2 8-2 4-1 2-1" fill="none" stroke="#f2f2f2" stroke-width="11.0"/><path d="M458,980l3 3 6 1 7 0 9-2 7-2 5-2 1 0" fill="none" stroke="#5a5a5a" stroke-width="15.0"/><path d="M458,980l3 3 6 1 7 0 9-2 7-2 5-2 1 0" fill="none" stroke="#f2f2f2" stroke-width="11.0"/><path d="M408,1012C418,1012 447,1010 468,1010C489,1010 521,1013 531,1014" fill="none" stroke="#5a5a5a" stroke-width="13.6" stroke-linecap="round" stroke-linejoin="round"/><path d="M408,1012C418,1012 447,1010 468,1010C489,1010 521,1013 531,1014" fill="none" stroke="#f2f2f2" stroke-width="9.2" stroke-linecap="round" stroke-linejoin="round"/><path d="M408,1036C418,1036 447,1036 468,1036C489,1036 521,1038 531,1038" fill="none" stroke="#5a5a5a" stroke-width="13.6" stroke-linecap="round" stroke-linejoin="round"/><path d="M408,1036C418,1036 447,1036 468,1036C489,1036 521,1038 531,1038" fill="none" stroke="#bbb" stroke-width="9.2" stroke-linecap="round" stroke-linejoin="round"/><path d="M416,1060C425,1060 455,1061 472,1062C489,1063 512,1064 520,1064" fill="none" stroke="#5a5a5a" stroke-width="12.8" stroke-linecap="round" stroke-linejoin="round"/><path d="M416,1060C425,1060 455,1061 472,1062C489,1063 512,1064 520,1064" fill="none" stroke="#f2f2f2" stroke-width="8.4" stroke-linecap="round" stroke-linejoin="round"/><path d="M548,912C550,909 555,899 560,896C565,893 574,893 580,896C586,899 594,909 596,916C598,923 593,933 592,936" fill="none" stroke="#5a5a5a" stroke-width="13.6" stroke-linecap="round" stroke-linejoin="round"/><path d="M548,912C550,909 555,899 560,896C565,893 574,893 580,896C586,899 594,909 596,916C598,923 593,933 592,936" fill="none" stroke="#f2f2f2" stroke-width="9.2" stroke-linecap="round" stroke-linejoin="round"/><path d="M593,935C594,936 599,946 602,944C605,942 605,926 608,924C611,922 618,931 620,932" fill="none" stroke="#7a7a7a" stroke-width="3.2" stroke-linecap="round" stroke-linejoin="round"/><path d="M531,1048C532,1036 537,1003 537,981C537,959 532,925 531,914" fill="none" stroke="#5a5a5a" stroke-width="12.4" stroke-linecap="round" stroke-linejoin="round"/><path d="M531,1048C532,1036 537,1003 537,981C537,959 532,925 531,914" fill="none" stroke="#f2f2f2" stroke-width="8.0" stroke-linecap="round" stroke-linejoin="round"/><path d="M531,1048C534,1036 544,999 547,975C551,951 551,915 552,903" fill="none" stroke="#5a5a5a" stroke-width="12.4" stroke-linecap="round" stroke-linejoin="round"/><path d="M531,1048C534,1036 544,999 547,975C551,951 551,915 552,903" fill="none" stroke="#f2f2f2" stroke-width="8.0" stroke-linecap="round" stroke-linejoin="round"/><path d="M531,1048C536,1036 551,1001 558,978C565,955 570,921 572,909" fill="none" stroke="#5a5a5a" stroke-width="12.4" stroke-linecap="round" stroke-linejoin="round"/><path d="M531,1048C536,1036 551,1001 558,978C565,955 570,921 572,909" fill="none" stroke="#f2f2f2" stroke-width="8.0" stroke-linecap="round" stroke-linejoin="round"/><path d="M531,1048C537,1038 558,1010 568,991C578,972 589,944 593,935" fill="none" stroke="#5a5a5a" stroke-width="12.4" stroke-linecap="round" stroke-linejoin="round"/><path d="M531,1048C537,1038 558,1010 568,991C578,972 589,944 593,935" fill="none" stroke="#f2f2f2" stroke-width="8.0" stroke-linecap="round" stroke-linejoin="round"/><path d="M531,1048C525,1057 503,1085 491,1104C479,1123 465,1151 459,1160" fill="none" stroke="#5a5a5a" stroke-width="12.4" stroke-linecap="round" stroke-linejoin="round"/><path d="M531,1048C525,1057 503,1085 491,1104C479,1123 465,1151 459,1160" fill="none" stroke="#f2f2f2" stroke-width="8.0" stroke-linecap="round" stroke-linejoin="round"/><path d="M531,1048C527,1059 513,1092 507,1114C500,1137 493,1170 490,1181" fill="none" stroke="#5a5a5a" stroke-width="12.4" stroke-linecap="round" stroke-linejoin="round"/><path d="M531,1048C527,1059 513,1092 507,1114C500,1137 493,1170 490,1181" fill="none" stroke="#f2f2f2" stroke-width="8.0" stroke-linecap="round" stroke-linejoin="round"/><path d="M531,1048C531,1057 527,1085 527,1104C527,1123 531,1151 531,1160" fill="none" stroke="#5a5a5a" stroke-width="12.4" stroke-linecap="round" stroke-linejoin="round"/><path d="M531,1048C531,1057 527,1085 527,1104C527,1123 531,1151 531,1160" fill="none" stroke="#f2f2f2" stroke-width="8.0" stroke-linecap="round" stroke-linejoin="round"/><path d="M531,1048C534,1052 541,1065 548,1073C555,1082 568,1095 572,1099" fill="none" stroke="#5a5a5a" stroke-width="12.4" stroke-linecap="round" stroke-linejoin="round"/><path d="M531,1048C534,1052 541,1065 548,1073C555,1082 568,1095 572,1099" fill="none" stroke="#f2f2f2" stroke-width="8.0" stroke-linecap="round" stroke-linejoin="round"/><path d="M552,1078C557,1080 573,1081 580,1088C587,1095 593,1112 592,1120C591,1127 579,1130 576,1132" fill="none" stroke="#7a7a7a" stroke-width="3.2" stroke-linecap="round" stroke-linejoin="round"/><path d="M456,1128C463,1130 484,1137 496,1140C508,1143 523,1147 528,1148" fill="none" stroke="#5a5a5a" stroke-width="13.6" stroke-linecap="round" stroke-linejoin="round"/><path d="M456,1128C463,1130 484,1137 496,1140C508,1143 523,1147 528,1148" fill="none" stroke="#9c9c9c" stroke-width="9.2" stroke-linecap="round" stroke-linejoin="round"/><path d="M240,952C241,949 246,945 249,935C252,925 256,906 259,894C263,882 265,869 270,863C274,857 281,856 285,858C289,859 292,868 295,873C299,878 301,885 305,888C309,892 316,889 321,894C326,898 335,907 336,914C337,921 331,930 326,935C321,940 310,941 305,945C301,948 298,952 300,955C302,959 310,965 316,966C322,966 329,960 336,960C343,960 351,962 357,966C362,969 368,976 369,981C370,986 367,992 362,996C357,1001 348,1004 341,1006C334,1009 326,1009 321,1012C316,1014 310,1017 310,1022C310,1027 317,1037 321,1042C325,1048 332,1049 336,1053C340,1057 345,1065 346,1068" fill="none" stroke="#8c1f2b" stroke-width="4.0" stroke-linecap="round" stroke-linejoin="round"/><path d="M428,1058C430,1061 439,1072 439,1078C439,1085 434,1094 428,1099C423,1104 413,1104 408,1109C403,1114 403,1127 398,1130C392,1132 384,1125 377,1125C370,1125 361,1126 357,1130C353,1133 350,1141 352,1145C353,1150 360,1153 367,1156C374,1158 384,1158 393,1158C401,1158 409,1155 418,1156C428,1156 441,1162 449,1160C458,1159 462,1149 470,1145C477,1141 488,1136 495,1135C502,1134 508,1139 511,1140" fill="none" stroke="#8c1f2b" stroke-width="4.0" stroke-linecap="round" stroke-linejoin="round"/><path d="M490,1080C492,1083 499,1093 500,1100C501,1107 497,1118 496,1124C495,1130 495,1133 495,1135" fill="none" stroke="#8c1f2b" stroke-width="4.0" stroke-linecap="round" stroke-linejoin="round"/><circle cx="518" cy="1144" r="13" fill="#d21f1f"/><path d="M313,1065L324,1054M324,1054L334,1062M334,1062L345,1051M324,1054L324,1044M334,1062L334,1072M345,1051L352,1058M313,1065L309,1072M345,1051L345,1040" stroke="#43215e" stroke-width="4.4" stroke-linecap="round" fill="none" transform="rotate(20 331 1058)"/><path d="M416,987L427,976M427,976L438,984M438,984L448,973M427,976L427,966M438,984L438,994M448,973L456,980M416,987L412,994M448,973L448,962" stroke="#43215e" stroke-width="4.4" stroke-linecap="round" fill="none" transform="rotate(-30 434 980)"/><path d="M223,1027L152,1027" stroke="#151515" stroke-width="5.6"/><path d="M131,1027L157,1016L149,1027L157,1038Z" fill="#151515"/><path d="M511,1048L582,1048" stroke="#151515" stroke-width="5.6"/><path d="M603,1048L577,1059L585,1048L577,1036Z" fill="#151515"/></g>
<g transform="translate(0,0) scale(0.25)"><path d="M712,909C715,907 726,900 732,899C739,898 749,903 753,904" fill="none" stroke="#7a7a7a" stroke-width="3.2" stroke-linecap="round" stroke-linejoin="round"/><path d="M702,966C705,967 717,972 722,976C727,979 731,984 732,986" fill="none" stroke="#7a7a7a" stroke-width="3.2" stroke-linecap="round" stroke-linejoin="round"/><path d="M712,904C715,901 729,891 732,888" fill="none" stroke="#5a5a5a" stroke-width="11.6" stroke-linecap="round" stroke-linejoin="round"/><path d="M712,904C715,901 729,891 732,888" fill="none" stroke="#f2f2f2" stroke-width="7.2" stroke-linecap="round" stroke-linejoin="round"/><path d="M753,1012C756,1000 766,967 769,945C773,923 773,889 774,878" fill="none" stroke="#5a5a5a" stroke-width="12.8" stroke-linecap="round" stroke-linejoin="round"/><path d="M753,1012C756,1000 766,967 769,945C773,923 773,889 774,878" fill="none" stroke="#f2f2f2" stroke-width="8.4" stroke-linecap="round" stroke-linejoin="round"/><path d="M753,1012C757,1000 773,965 779,942C786,919 792,885 794,873" fill="none" stroke="#5a5a5a" stroke-width="12.8" stroke-linecap="round" stroke-linejoin="round"/><path d="M753,1012C757,1000 773,965 779,942C786,919 792,885 794,873" fill="none" stroke="#f2f2f2" stroke-width="8.4" stroke-linecap="round" stroke-linejoin="round"/><path d="M753,1012C759,1000 779,965 790,942C800,919 810,885 814,873" fill="none" stroke="#5a5a5a" stroke-width="12.8" stroke-linecap="round" stroke-linejoin="round"/><path d="M753,1012C759,1000 779,965 790,942C800,919 810,885 814,873" fill="none" stroke="#f2f2f2" stroke-width="8.4" stroke-linecap="round" stroke-linejoin="round"/><path d="M753,1012C760,1001 785,969 797,947C810,926 825,894 830,883" fill="none" stroke="#5a5a5a" stroke-width="12.8" stroke-linecap="round" stroke-linejoin="round"/><path d="M753,1012C760,1001 785,969 797,947C810,926 825,894 830,883" fill="none" stroke="#f2f2f2" stroke-width="8.4" stroke-linecap="round" stroke-linejoin="round"/><path d="M753,1012C753,1003 756,976 754,958C753,940 746,913 744,904" fill="none" stroke="#5a5a5a" stroke-width="12.8" stroke-linecap="round" stroke-linejoin="round"/><path d="M753,1012C753,1003 756,976 754,958C753,940 746,913 744,904" fill="none" stroke="#f2f2f2" stroke-width="8.4" stroke-linecap="round" stroke-linejoin="round"/><path d="M753,1012C747,1019 728,1041 718,1055C708,1070 696,1092 691,1099" fill="none" stroke="#5a5a5a" stroke-width="12.8" stroke-linecap="round" stroke-linejoin="round"/><path d="M753,1012C747,1019 728,1041 718,1055C708,1070 696,1092 691,1099" fill="none" stroke="#f2f2f2" stroke-width="8.4" stroke-linecap="round" stroke-linejoin="round"/><path d="M753,1012C750,1020 739,1046 733,1063C728,1080 724,1106 722,1114" fill="none" stroke="#5a5a5a" stroke-width="12.8" stroke-linecap="round" stroke-linejoin="round"/><path d="M753,1012C750,1020 739,1046 733,1063C728,1080 724,1106 722,1114" fill="none" stroke="#f2f2f2" stroke-width="8.4" stroke-linecap="round" stroke-linejoin="round"/><path d="M753,1012C751,1020 745,1044 744,1060C742,1077 743,1101 743,1109" fill="none" stroke="#5a5a5a" stroke-width="12.8" stroke-linecap="round" stroke-linejoin="round"/><path d="M753,1012C751,1020 745,1044 744,1060C742,1077 743,1101 743,1109" fill="none" stroke="#f2f2f2" stroke-width="8.4" stroke-linecap="round" stroke-linejoin="round"/><path d="M753,1012C748,1017 733,1032 724,1042C716,1052 707,1067 704,1072" fill="none" stroke="#5a5a5a" stroke-width="12.8" stroke-linecap="round" stroke-linejoin="round"/><path d="M753,1012C748,1017 733,1032 724,1042C716,1052 707,1067 704,1072" fill="none" stroke="#f2f2f2" stroke-width="8.4" stroke-linecap="round" stroke-linejoin="round"/><path d="M676,1088C678,1092 683,1107 688,1112C693,1117 701,1119 704,1120" fill="none" stroke="#7a7a7a" stroke-width="3.2" stroke-linecap="round" stroke-linejoin="round"/><path d="M774,948C783,948 809,948 828,950C847,952 877,958 886,960" fill="none" stroke="#5a5a5a" stroke-width="14.0" stroke-linecap="round" stroke-linejoin="round"/><path d="M774,948C783,948 809,948 828,950C847,952 877,958 886,960" fill="none" stroke="#9c9c9c" stroke-width="9.6" stroke-linecap="round" stroke-linejoin="round"/><path d="M774,972C783,972 809,972 828,974C847,976 877,982 886,984" fill="none" stroke="#5a5a5a" stroke-width="14.0" stroke-linecap="round" stroke-linejoin="round"/><path d="M774,972C783,972 809,972 828,974C847,976 877,982 886,984" fill="none" stroke="#a0a0a0" stroke-width="9.6" stroke-linecap="round" stroke-linejoin="round"/><path d="M776,996C785,996 811,996 828,998C845,1000 868,1005 876,1006" fill="none" stroke="#5a5a5a" stroke-width="13.2" stroke-linecap="round" stroke-linejoin="round"/><path d="M776,996C785,996 811,996 828,998C845,1000 868,1005 876,1006" fill="none" stroke="#bbb" stroke-width="8.8" stroke-linecap="round" stroke-linejoin="round"/><path d="M852,975l-2 1-3 5-5 8-5 9-3 8-1 7 1 4M872,991l-2 1-3 5-5 8-5 9-3 8-1 7 1 4M892,1007l-2 1-3 5-5 8-5 9-3 8-1 7 1 4" fill="none" stroke="#5a5a5a" stroke-width="13.6" stroke-linecap="round"/><path d="M852,975l-2 1-3 5-5 8-5 9-3 8-1 7 1 4M872,991l-2 1-3 5-5 8-5 9-3 8-1 7 1 4M892,1007l-2 1-3 5-5 8-5 9-3 8-1 7 1 4" fill="none" stroke="#a8a8a8" stroke-width="9.6" stroke-linecap="round"/><path d="M814,1001l5 1 6-3 8-5 7-7 6-6 4-4 2-2" fill="none" stroke="#5a5a5a" stroke-width="16.0"/><path d="M814,1001l5 1 6-3 8-5 7-7 6-6 4-4 2-2" fill="none" stroke="#f2f2f2" stroke-width="12.0"/><path d="M834,1017l5 1 6-3 8-5 7-7 6-6 4-4 2-2" fill="none" stroke="#5a5a5a" stroke-width="16.0"/><path d="M834,1017l5 1 6-3 8-5 7-7 6-6 4-4 2-2" fill="none" stroke="#f2f2f2" stroke-width="12.0"/><path d="M854,1033l5 1 6-3 8-5 7-7 6-6 4-4 2-2" fill="none" stroke="#5a5a5a" stroke-width="16.0"/><path d="M854,1033l5 1 6-3 8-5 7-7 6-6 4-4 2-2" fill="none" stroke="#f2f2f2" stroke-width="12.0"/><path d="M824,1047l-2 1-5 3-6 5-7 7-5 6-3 6 0 4M837,1067l-2 1-4 3-7 5-6 7-6 6-3 6 1 4M850,1087l-1 1-5 3-6 5-7 7-5 6-3 6 0 4" fill="none" stroke="#5a5a5a" stroke-width="13.2" stroke-linecap="round"/><path d="M824,1047l-2 1-5 3-6 5-7 7-5 6-3 6 0 4M837,1067l-2 1-4 3-7 5-6 7-6 6-3 6 1 4M850,1087l-1 1-5 3-6 5-7 7-5 6-3 6 0 4" fill="none" stroke="#a8a8a8" stroke-width="9.2" stroke-linecap="round"/><path d="M783,1059l4 2 6 0 8-3 9-3 7-4 5-3 2-1" fill="none" stroke="#5a5a5a" stroke-width="15.5"/><path d="M783,1059l4 2 6 0 8-3 9-3 7-4 5-3 2-1" fill="none" stroke="#f2f2f2" stroke-width="11.5"/><path d="M796,1079l4 2 6 0 9-3 8-3 8-4 4-3 2-1" fill="none" stroke="#5a5a5a" stroke-width="15.5"/><path d="M796,1079l4 2 6 0 9-3 8-3 8-4 4-3 2-1" fill="none" stroke="#f2f2f2" stroke-width="11.5"/><path d="M810,1099l3 2 7 0 8-3 9-3 7-4 5-3 1-1" fill="none" stroke="#5a5a5a" stroke-width="15.5"/><path d="M810,1099l3 2 7 0 8-3 9-3 7-4 5-3 1-1" fill="none" stroke="#f2f2f2" stroke-width="11.5"/><path d="M796,1104C799,1107 809,1118 816,1120C823,1122 833,1117 836,1116" fill="none" stroke="#7a7a7a" stroke-width="3.2" stroke-linecap="round" stroke-linejoin="round"/><path d="M897,986C902,984 919,976 928,976C936,976 943,982 948,986C953,990 955,998 956,1000" fill="none" stroke="#8a8a8a" stroke-width="3.6" stroke-linecap="round" stroke-linejoin="round"/><path d="M1005,995l2 2 5 3 9 4 10 3 9 3 8 0 4-2M1019,972l2 1 5 3 9 4 10 4 10 2 7 0 4-2M1033,948l2 1 6 4 8 3 10 4 10 3 7 0 4-3M1047,925l2 1 6 3 8 4 10 4 10 2 7 0 4-2" fill="none" stroke="#5a5a5a" stroke-width="14.0" stroke-linecap="round"/><path d="M1005,995l2 2 5 3 9 4 10 3 9 3 8 0 4-2M1019,972l2 1 5 3 9 4 10 4 10 2 7 0 4-2M1033,948l2 1 6 4 8 3 10 4 10 3 7 0 4-3M1047,925l2 1 6 3 8 4 10 4 10 2 7 0 4-2" fill="none" stroke="#a8a8a8" stroke-width="10.0" stroke-linecap="round"/><path d="M1038,1031l0-4-4-7-6-7-8-7-8-6-5-4-2-1" fill="none" stroke="#5a5a5a" stroke-width="16.5"/><path d="M1038,1031l0-4-4-7-6-7-8-7-8-6-5-4-2-1" fill="none" stroke="#f2f2f2" stroke-width="12.5"/><path d="M1052,1008l0-5-4-6-6-8-8-7-8-6-5-3-2-1" fill="none" stroke="#5a5a5a" stroke-width="16.5"/><path d="M1052,1008l0-5-4-6-6-8-8-7-8-6-5-3-2-1" fill="none" stroke="#f2f2f2" stroke-width="12.5"/><path d="M1066,984l0-5-4-6-6-7-8-7-7-6-6-4-2-1" fill="none" stroke="#5a5a5a" stroke-width="16.5"/><path d="M1066,984l0-5-4-6-6-7-8-7-7-6-6-4-2-1" fill="none" stroke="#f2f2f2" stroke-width="12.5"/><path d="M1080,960l0-4-3-7-7-7-8-7-7-6-6-3-2-1" fill="none" stroke="#5a5a5a" stroke-width="16.5"/><path d="M1080,960l0-4-3-7-7-7-8-7-7-6-6-3-2-1" fill="none" stroke="#f2f2f2" stroke-width="12.5"/><path d="M1106,944C1105,937 1101,912 1102,900C1104,888 1110,877 1116,872C1122,867 1129,867 1136,870C1143,873 1157,883 1159,888C1161,893 1153,899 1148,900C1143,901 1131,897 1128,896" fill="none" stroke="#5a5a5a" stroke-width="14.4" stroke-linecap="round" stroke-linejoin="round"/><path d="M1106,944C1105,937 1101,912 1102,900C1104,888 1110,877 1116,872C1122,867 1129,867 1136,870C1143,873 1157,883 1159,888C1161,893 1153,899 1148,900C1143,901 1131,897 1128,896" fill="none" stroke="#f2f2f2" stroke-width="10.0" stroke-linecap="round" stroke-linejoin="round"/><path d="M1116,928C1121,936 1137,961 1146,978C1155,995 1164,1020 1168,1028" fill="none" stroke="#5a5a5a" stroke-width="12.8" stroke-linecap="round" stroke-linejoin="round"/><path d="M1116,928C1121,936 1137,961 1146,978C1155,995 1164,1020 1168,1028" fill="none" stroke="#f2f2f2" stroke-width="8.4" stroke-linecap="round" stroke-linejoin="round"/><path d="M1116,928C1122,941 1143,979 1154,1004C1165,1029 1179,1067 1184,1080" fill="none" stroke="#5a5a5a" stroke-width="12.8" stroke-linecap="round" stroke-linejoin="round"/><path d="M1116,928C1122,941 1143,979 1154,1004C1165,1029 1179,1067 1184,1080" fill="none" stroke="#f2f2f2" stroke-width="8.4" stroke-linecap="round" stroke-linejoin="round"/><path d="M1116,928C1124,947 1150,1002 1165,1040C1180,1077 1199,1133 1206,1151" fill="none" stroke="#5a5a5a" stroke-width="12.8" stroke-linecap="round" stroke-linejoin="round"/><path d="M1116,928C1124,947 1150,1002 1165,1040C1180,1077 1199,1133 1206,1151" fill="none" stroke="#f2f2f2" stroke-width="8.4" stroke-linecap="round" stroke-linejoin="round"/><path d="M1116,928C1119,947 1128,1002 1132,1040C1136,1077 1139,1133 1140,1151" fill="none" stroke="#5a5a5a" stroke-width="12.8" stroke-linecap="round" stroke-linejoin="round"/><path d="M1116,928C1119,947 1128,1002 1132,1040C1136,1077 1139,1133 1140,1151" fill="none" stroke="#f2f2f2" stroke-width="8.4" stroke-linecap="round" stroke-linejoin="round"/><path d="M1116,928C1116,944 1119,993 1118,1025C1117,1058 1113,1107 1112,1123" fill="none" stroke="#5a5a5a" stroke-width="12.8" stroke-linecap="round" stroke-linejoin="round"/><path d="M1116,928C1116,944 1119,993 1118,1025C1117,1058 1113,1107 1112,1123" fill="none" stroke="#f2f2f2" stroke-width="8.4" stroke-linecap="round" stroke-linejoin="round"/><path d="M1116,928C1120,945 1133,996 1140,1030C1147,1064 1153,1115 1156,1132" fill="none" stroke="#5a5a5a" stroke-width="12.8" stroke-linecap="round" stroke-linejoin="round"/><path d="M1116,928C1120,945 1133,996 1140,1030C1147,1064 1153,1115 1156,1132" fill="none" stroke="#f2f2f2" stroke-width="8.4" stroke-linecap="round" stroke-linejoin="round"/><path d="M1018,1032C1026,1035 1051,1043 1068,1048C1085,1053 1112,1061 1121,1064" fill="none" stroke="#5a5a5a" stroke-width="13.6" stroke-linecap="round" stroke-linejoin="round"/><path d="M1018,1032C1026,1035 1051,1043 1068,1048C1085,1053 1112,1061 1121,1064" fill="none" stroke="#c8c8c8" stroke-width="9.2" stroke-linecap="round" stroke-linejoin="round"/><path d="M1024,1056C1032,1058 1057,1065 1072,1070C1087,1075 1109,1083 1116,1085" fill="none" stroke="#5a5a5a" stroke-width="13.2" stroke-linecap="round" stroke-linejoin="round"/><path d="M1024,1056C1032,1058 1057,1065 1072,1070C1087,1075 1109,1083 1116,1085" fill="none" stroke="#9a9a9a" stroke-width="8.8" stroke-linecap="round" stroke-linejoin="round"/><path d="M980,1028C983,1033 993,1047 999,1057C1005,1066 1016,1074 1018,1085C1019,1096 1013,1113 1008,1123C1003,1132 993,1138 990,1142" fill="none" stroke="#7a7a7a" stroke-width="3.2" stroke-linecap="round" stroke-linejoin="round"/><path d="M1178,1000C1181,998 1192,990 1197,991C1201,992 1204,1002 1206,1005" fill="none" stroke="#7a7a7a" stroke-width="3.2" stroke-linecap="round" stroke-linejoin="round"/><path d="M1187,1057C1192,1058 1212,1060 1216,1066C1220,1072 1211,1085 1211,1094C1211,1104 1218,1117 1216,1123C1213,1129 1200,1130 1197,1132" fill="none" stroke="#7a7a7a" stroke-width="3.2" stroke-linecap="round" stroke-linejoin="round"/><path d="M1140,1123C1143,1129 1150,1156 1159,1160C1169,1165 1189,1159 1197,1151C1205,1143 1204,1120 1206,1113" fill="none" stroke="#7a7a7a" stroke-width="3.2" stroke-linecap="round" stroke-linejoin="round"/><path d="M979,1130C982,1126 992,1116 999,1109C1006,1102 1017,1092 1020,1089" fill="none" stroke="#8a8a8a" stroke-width="3.6" stroke-linecap="round" stroke-linejoin="round"/><path d="M946,1016L957,1006M957,1006L968,1013M968,1013L978,1002M957,1006L957,995M968,1013L968,1024M978,1002L986,1009M946,1016L942,1024M978,1002L978,991" stroke="#43215e" stroke-width="4.4" stroke-linecap="round" fill="none" transform="rotate(0 964 1009)"/><path d="M946,1151L957,1140M957,1140L968,1148M968,1148L978,1137M957,1140L957,1130M968,1148L968,1158M978,1137L986,1144M946,1151L942,1158M978,1137L978,1126" stroke="#43215e" stroke-width="4.4" stroke-linecap="round" fill="none" transform="rotate(30 964 1144)"/><path d="M804,1012L733,1012" stroke="#151515" stroke-width="5.6"/><path d="M712,1012L738,1000L730,1012L738,1023Z" fill="#151515"/><path d="M1112,1032L1183,1032" stroke="#151515" stroke-width="5.6"/><path d="M1204,1032L1178,1043L1186,1032L1178,1021Z" fill="#151515"/></g>
<g transform="translate(0,0) scale(0.25)"><path d="M138,1304C136,1306 129,1310 128,1314C127,1318 129,1325 133,1328C136,1332 145,1335 148,1336" fill="none" stroke="#7a7a7a" stroke-width="3.2" stroke-linecap="round" stroke-linejoin="round"/><path d="M148,1288C151,1285 158,1274 164,1272C170,1270 181,1275 184,1276" fill="none" stroke="#7a7a7a" stroke-width="3.2" stroke-linecap="round" stroke-linejoin="round"/><path d="M190,1376C191,1367 198,1339 199,1321C200,1303 196,1275 196,1266" fill="none" stroke="#5a5a5a" stroke-width="12.8" stroke-linecap="round" stroke-linejoin="round"/><path d="M190,1376C191,1367 198,1339 199,1321C200,1303 196,1275 196,1266" fill="none" stroke="#f2f2f2" stroke-width="8.4" stroke-linecap="round" stroke-linejoin="round"/><path d="M190,1376C193,1367 204,1341 208,1323C213,1306 214,1280 215,1271" fill="none" stroke="#5a5a5a" stroke-width="12.8" stroke-linecap="round" stroke-linejoin="round"/><path d="M190,1376C193,1367 204,1341 208,1323C213,1306 214,1280 215,1271" fill="none" stroke="#f2f2f2" stroke-width="8.4" stroke-linecap="round" stroke-linejoin="round"/><path d="M190,1376C195,1368 211,1344 218,1328C225,1312 231,1288 234,1280" fill="none" stroke="#5a5a5a" stroke-width="12.8" stroke-linecap="round" stroke-linejoin="round"/><path d="M190,1376C195,1368 211,1344 218,1328C225,1312 231,1288 234,1280" fill="none" stroke="#f2f2f2" stroke-width="8.4" stroke-linecap="round" stroke-linejoin="round"/><path d="M190,1376C190,1369 190,1347 187,1332C184,1317 174,1295 172,1288" fill="none" stroke="#5a5a5a" stroke-width="12.8" stroke-linecap="round" stroke-linejoin="round"/><path d="M190,1376C190,1369 190,1347 187,1332C184,1317 174,1295 172,1288" fill="none" stroke="#f2f2f2" stroke-width="8.4" stroke-linecap="round" stroke-linejoin="round"/><path d="M190,1376C188,1372 183,1360 177,1352C171,1344 156,1332 152,1328" fill="none" stroke="#5a5a5a" stroke-width="12.8" stroke-linecap="round" stroke-linejoin="round"/><path d="M190,1376C188,1372 183,1360 177,1352C171,1344 156,1332 152,1328" fill="none" stroke="#f2f2f2" stroke-width="8.4" stroke-linecap="round" stroke-linejoin="round"/><path d="M190,1376C188,1387 181,1420 179,1441C177,1463 177,1496 176,1507" fill="none" stroke="#5a5a5a" stroke-width="12.8" stroke-linecap="round" stroke-linejoin="round"/><path d="M190,1376C188,1387 181,1420 179,1441C177,1463 177,1496 176,1507" fill="none" stroke="#f2f2f2" stroke-width="8.4" stroke-linecap="round" stroke-linejoin="round"/><path d="M190,1376C190,1388 188,1424 189,1449C190,1473 194,1509 196,1521" fill="none" stroke="#5a5a5a" stroke-width="12.8" stroke-linecap="round" stroke-linejoin="round"/><path d="M190,1376C190,1388 188,1424 189,1449C190,1473 194,1509 196,1521" fill="none" stroke="#f2f2f2" stroke-width="8.4" stroke-linecap="round" stroke-linejoin="round"/><path d="M190,1376C191,1387 194,1420 198,1441C203,1463 212,1496 215,1507" fill="none" stroke="#5a5a5a" stroke-width="12.8" stroke-linecap="round" stroke-linejoin="round"/><path d="M190,1376C191,1387 194,1420 198,1441C203,1463 212,1496 215,1507" fill="none" stroke="#f2f2f2" stroke-width="8.4" stroke-linecap="round" stroke-linejoin="round"/><path d="M190,1376C186,1385 175,1411 169,1428C163,1445 158,1471 156,1480" fill="none" stroke="#5a5a5a" stroke-width="12.8" stroke-linecap="round" stroke-linejoin="round"/><path d="M190,1376C186,1385 175,1411 169,1428C163,1445 158,1471 156,1480" fill="none" stroke="#f2f2f2" stroke-width="8.4" stroke-linecap="round" stroke-linejoin="round"/><path d="M190,1376C193,1385 200,1413 207,1432C214,1451 228,1479 232,1488" fill="none" stroke="#5a5a5a" stroke-width="12.8" stroke-linecap="round" stroke-linejoin="round"/><path d="M190,1376C193,1385 200,1413 207,1432C214,1451 228,1479 232,1488" fill="none" stroke="#f2f2f2" stroke-width="8.4" stroke-linecap="round" stroke-linejoin="round"/><path d="M224,1308C232,1308 254,1307 268,1308C282,1309 304,1315 311,1316" fill="none" stroke="#5a5a5a" stroke-width="14.0" stroke-linecap="round" stroke-linejoin="round"/><path d="M224,1308C232,1308 254,1307 268,1308C282,1309 304,1315 311,1316" fill="none" stroke="#bbb" stroke-width="9.6" stroke-linecap="round" stroke-linejoin="round"/><path d="M224,1332C232,1332 254,1331 268,1332C282,1333 304,1339 311,1340" fill="none" stroke="#5a5a5a" stroke-width="14.0" stroke-linecap="round" stroke-linejoin="round"/><path d="M224,1332C232,1332 254,1331 268,1332C282,1333 304,1339 311,1340" fill="none" stroke="#9c9c9c" stroke-width="9.6" stroke-linecap="round" stroke-linejoin="round"/><path d="M224,1356C232,1356 254,1357 268,1358C282,1359 301,1363 308,1364" fill="none" stroke="#5a5a5a" stroke-width="13.6" stroke-linecap="round" stroke-linejoin="round"/><path d="M224,1356C232,1356 254,1357 268,1358C282,1359 301,1363 308,1364" fill="none" stroke="#a5a5a5" stroke-width="9.2" stroke-linecap="round" stroke-linejoin="round"/><path d="M228,1380C235,1380 256,1381 268,1382C280,1383 295,1384 300,1384" fill="none" stroke="#5a5a5a" stroke-width="12.8" stroke-linecap="round" stroke-linejoin="round"/><path d="M228,1380C235,1380 256,1381 268,1382C280,1383 295,1384 300,1384" fill="none" stroke="#f2f2f2" stroke-width="8.4" stroke-linecap="round" stroke-linejoin="round"/><path d="M278,1392l-2 1-5 2-8 3-7 4-7 4-5 4-1 4M284,1412l-2 1-5 2-8 3-7 4-7 4-5 4-1 4M290,1432l-2 1-5 2-8 3-7 4-7 4-5 4-1 4M296,1452l-2 1-5 2-8 3-7 4-7 4-5 4-1 4" fill="none" stroke="#5a5a5a" stroke-width="13.2" stroke-linecap="round"/><path d="M278,1392l-2 1-5 2-8 3-7 4-7 4-5 4-1 4M284,1412l-2 1-5 2-8 3-7 4-7 4-5 4-1 4M290,1432l-2 1-5 2-8 3-7 4-7 4-5 4-1 4M296,1452l-2 1-5 2-8 3-7 4-7 4-5 4-1 4" fill="none" stroke="#a8a8a8" stroke-width="9.2" stroke-linecap="round"/><path d="M237,1394l3 2 6 1 8 0 9-1 8-2 5-1 2-1" fill="none" stroke="#5a5a5a" stroke-width="15.5"/><path d="M237,1394l3 2 6 1 8 0 9-1 8-2 5-1 2-1" fill="none" stroke="#f2f2f2" stroke-width="11.5"/><path d="M243,1414l3 2 6 1 8 0 9-1 8-2 5-1 2-1" fill="none" stroke="#5a5a5a" stroke-width="15.5"/><path d="M243,1414l3 2 6 1 8 0 9-1 8-2 5-1 2-1" fill="none" stroke="#f2f2f2" stroke-width="11.5"/><path d="M249,1434l3 2 6 1 8 0 9-1 8-2 5-1 2-1" fill="none" stroke="#5a5a5a" stroke-width="15.5"/><path d="M249,1434l3 2 6 1 8 0 9-1 8-2 5-1 2-1" fill="none" stroke="#f2f2f2" stroke-width="11.5"/><path d="M255,1454l3 2 6 1 8 0 9-1 8-2 5-1 2-1" fill="none" stroke="#5a5a5a" stroke-width="15.5"/><path d="M255,1454l3 2 6 1 8 0 9-1 8-2 5-1 2-1" fill="none" stroke="#f2f2f2" stroke-width="11.5"/><path d="M280,1468C282,1471 293,1483 292,1488C291,1493 279,1498 276,1500" fill="none" stroke="#7a7a7a" stroke-width="3.2" stroke-linecap="round" stroke-linejoin="round"/><path d="M451,1262l-2 2-4 3-6 5-5 7-5 7-3 5 1 5M466,1282l-2 2-4 3-6 5-6 7-5 7-2 5 1 5M480,1302l-1 2-4 3-6 5-6 7-5 7-2 5 0 5" fill="none" stroke="#5a5a5a" stroke-width="12.8" stroke-linecap="round"/><path d="M451,1262l-2 2-4 3-6 5-5 7-5 7-3 5 1 5M466,1282l-2 2-4 3-6 5-6 7-5 7-2 5 1 5M480,1302l-1 2-4 3-6 5-6 7-5 7-2 5 0 5" fill="none" stroke="#a8a8a8" stroke-width="8.8" stroke-linecap="round"/><path d="M412,1276l4 1 6 0 8-3 8-3 7-4 5-3 1-2" fill="none" stroke="#5a5a5a" stroke-width="15.0"/><path d="M412,1276l4 1 6 0 8-3 8-3 7-4 5-3 1-2" fill="none" stroke="#f2f2f2" stroke-width="11.0"/><path d="M427,1296l4 1 6 0 8-3 8-3 7-4 4-3 2-2" fill="none" stroke="#5a5a5a" stroke-width="15.0"/><path d="M427,1296l4 1 6 0 8-3 8-3 7-4 4-3 2-2" fill="none" stroke="#f2f2f2" stroke-width="11.0"/><path d="M442,1316l3 1 7 0 7-3 9-3 6-4 5-3 1-2" fill="none" stroke="#5a5a5a" stroke-width="15.0"/><path d="M442,1316l3 1 7 0 7-3 9-3 6-4 5-3 1-2" fill="none" stroke="#f2f2f2" stroke-width="11.0"/><path d="M493,1255l-1 1-3 3-4 5-3 7-2 6-1 6 2 4M513,1275l-1 1-3 3-4 5-3 7-2 6-1 6 2 4" fill="none" stroke="#5a5a5a" stroke-width="11.7" stroke-linecap="round"/><path d="M493,1255l-1 1-3 3-4 5-3 7-2 6-1 6 2 4M513,1275l-1 1-3 3-4 5-3 7-2 6-1 6 2 4" fill="none" stroke="#a8a8a8" stroke-width="7.7" stroke-linecap="round"/><path d="M461,1267l4 2 6-1 6-2 7-3 5-4 3-3 1-1" fill="none" stroke="#5a5a5a" stroke-width="13.6"/><path d="M461,1267l4 2 6-1 6-2 7-3 5-4 3-3 1-1" fill="none" stroke="#f2f2f2" stroke-width="9.6"/><path d="M481,1287l4 2 6-1 6-2 7-3 5-4 3-3 1-1" fill="none" stroke="#5a5a5a" stroke-width="13.6"/><path d="M481,1287l4 2 6-1 6-2 7-3 5-4 3-3 1-1" fill="none" stroke="#f2f2f2" stroke-width="9.6"/><path d="M427,1348C436,1348 462,1347 480,1348C498,1349 524,1351 533,1352" fill="none" stroke="#5a5a5a" stroke-width="13.6" stroke-linecap="round" stroke-linejoin="round"/><path d="M427,1348C436,1348 462,1347 480,1348C498,1349 524,1351 533,1352" fill="none" stroke="#f2f2f2" stroke-width="9.2" stroke-linecap="round" stroke-linejoin="round"/><path d="M427,1376C436,1376 462,1375 480,1376C498,1377 524,1379 533,1380" fill="none" stroke="#5a5a5a" stroke-width="13.6" stroke-linecap="round" stroke-linejoin="round"/><path d="M427,1376C436,1376 462,1375 480,1376C498,1377 524,1379 533,1380" fill="none" stroke="#bbb" stroke-width="9.2" stroke-linecap="round" stroke-linejoin="round"/><path d="M560,1300C559,1293 554,1271 556,1260C558,1249 565,1238 572,1232C579,1226 591,1223 600,1224C609,1225 622,1230 628,1236C634,1242 638,1254 636,1260C634,1266 624,1271 616,1272C608,1273 593,1265 588,1264" fill="none" stroke="#5a5a5a" stroke-width="13.2" stroke-linecap="round" stroke-linejoin="round"/><path d="M560,1300C559,1293 554,1271 556,1260C558,1249 565,1238 572,1232C579,1226 591,1223 600,1224C609,1225 622,1230 628,1236C634,1242 638,1254 636,1260C634,1266 624,1271 616,1272C608,1273 593,1265 588,1264" fill="none" stroke="#f2f2f2" stroke-width="8.8" stroke-linecap="round" stroke-linejoin="round"/><path d="M542,1391C545,1381 553,1351 555,1332C557,1312 556,1282 556,1272" fill="none" stroke="#5a5a5a" stroke-width="12.4" stroke-linecap="round" stroke-linejoin="round"/><path d="M542,1391C545,1381 553,1351 555,1332C557,1312 556,1282 556,1272" fill="none" stroke="#f2f2f2" stroke-width="8.0" stroke-linecap="round" stroke-linejoin="round"/><path d="M542,1391C546,1379 558,1343 563,1320C568,1296 571,1260 572,1248" fill="none" stroke="#5a5a5a" stroke-width="12.4" stroke-linecap="round" stroke-linejoin="round"/><path d="M542,1391C546,1379 558,1343 563,1320C568,1296 571,1260 572,1248" fill="none" stroke="#f2f2f2" stroke-width="8.0" stroke-linecap="round" stroke-linejoin="round"/><path d="M542,1391C548,1380 565,1346 573,1324C581,1301 589,1267 592,1256" fill="none" stroke="#5a5a5a" stroke-width="12.4" stroke-linecap="round" stroke-linejoin="round"/><path d="M542,1391C548,1380 565,1346 573,1324C581,1301 589,1267 592,1256" fill="none" stroke="#f2f2f2" stroke-width="8.0" stroke-linecap="round" stroke-linejoin="round"/><path d="M542,1391C537,1399 525,1427 512,1440C499,1454 473,1468 465,1473" fill="none" stroke="#5a5a5a" stroke-width="12.8" stroke-linecap="round" stroke-linejoin="round"/><path d="M542,1391C537,1399 525,1427 512,1440C499,1454 473,1468 465,1473" fill="none" stroke="#9a9a9a" stroke-width="8.4" stroke-linecap="round" stroke-linejoin="round"/><path d="M542,1391C539,1400 532,1428 523,1443C514,1457 494,1472 488,1478" fill="none" stroke="#5a5a5a" stroke-width="12.8" stroke-linecap="round" stroke-linejoin="round"/><path d="M542,1391C539,1400 532,1428 523,1443C514,1457 494,1472 488,1478" fill="none" stroke="#9a9a9a" stroke-width="8.4" stroke-linecap="round" stroke-linejoin="round"/><path d="M542,1391C541,1400 540,1427 535,1442C530,1456 516,1470 512,1476" fill="none" stroke="#5a5a5a" stroke-width="12.8" stroke-linecap="round" stroke-linejoin="round"/><path d="M542,1391C541,1400 540,1427 535,1442C530,1456 516,1470 512,1476" fill="none" stroke="#9a9a9a" stroke-width="8.4" stroke-linecap="round" stroke-linejoin="round"/><path d="M542,1391C542,1398 544,1421 541,1432C538,1442 527,1452 524,1456" fill="none" stroke="#5a5a5a" stroke-width="12.8" stroke-linecap="round" stroke-linejoin="round"/><path d="M542,1391C542,1398 544,1421 541,1432C538,1442 527,1452 524,1456" fill="none" stroke="#9a9a9a" stroke-width="8.4" stroke-linecap="round" stroke-linejoin="round"/><path d="M571,1430C574,1431 582,1434 588,1440C594,1446 609,1458 610,1464C611,1470 598,1476 596,1478" fill="none" stroke="#7a7a7a" stroke-width="3.2" stroke-linecap="round" stroke-linejoin="round"/><path d="M200,1272C197,1270 189,1263 184,1260C179,1257 173,1256 172,1252C170,1247 172,1236 176,1232C180,1228 189,1227 196,1228C202,1228 208,1233 215,1237C221,1241 228,1250 234,1252C240,1253 247,1247 254,1247C260,1247 267,1250 273,1252C278,1253 283,1254 287,1256C291,1259 294,1262 297,1266C299,1270 300,1276 302,1280C303,1285 303,1291 306,1295C310,1299 316,1301 321,1304C326,1308 332,1310 335,1314C338,1318 340,1324 340,1328C340,1333 334,1340 335,1343C337,1346 347,1347 350,1348" fill="none" stroke="#8c1f2b" stroke-width="4.0" stroke-linecap="round" stroke-linejoin="round"/><path d="M359,1401C362,1399 372,1392 379,1391C385,1390 392,1394 398,1396C404,1398 415,1402 417,1406C420,1410 417,1417 412,1420C408,1423 396,1425 388,1425C381,1425 376,1420 369,1420C363,1420 355,1422 350,1425C344,1428 337,1434 335,1439C334,1445 336,1453 340,1459C344,1464 351,1469 359,1473C367,1477 380,1480 388,1483C397,1485 406,1486 412,1488C419,1489 421,1492 427,1492C432,1492 440,1490 446,1488C452,1485 459,1480 465,1478C472,1476 478,1472 485,1473C491,1474 500,1480 504,1483C508,1486 510,1490 509,1492C507,1495 500,1497 494,1497C489,1497 478,1493 475,1492" fill="none" stroke="#8c1f2b" stroke-width="4.0" stroke-linecap="round" stroke-linejoin="round"/><path d="M388,1425C390,1428 395,1439 400,1444C405,1449 413,1454 416,1456" fill="none" stroke="#8c1f2b" stroke-width="4.0" stroke-linecap="round" stroke-linejoin="round"/><path d="M342,1339L353,1328M353,1328L364,1336M364,1336L374,1325M353,1328L353,1318M364,1336L364,1346M374,1325L382,1332M342,1339L338,1346M374,1325L374,1314" stroke="#43215e" stroke-width="4.4" stroke-linecap="round" fill="none" transform="rotate(10 360 1332)"/><path d="M331,1406L341,1397M341,1397L350,1403M350,1403L360,1394M341,1397L341,1387M350,1403L350,1413M360,1394L366,1400M331,1406L328,1413M360,1394L360,1384" stroke="#43215e" stroke-width="4.4" stroke-linecap="round" fill="none" transform="rotate(-20 347 1400)"/><path d="M196,1367L130,1367" stroke="#151515" stroke-width="5.6"/><path d="M109,1367L135,1356L127,1367L135,1378Z" fill="#151515"/><path d="M523,1386L594,1386" stroke="#151515" stroke-width="5.6"/><path d="M615,1386L588,1398L596,1386L588,1375Z" fill="#151515"/></g>
<g transform="translate(0,0) scale(0.25)"><path d="M726,1272C728,1269 732,1255 736,1252C740,1249 747,1250 752,1252C757,1254 760,1265 764,1264C768,1263 771,1247 777,1243C784,1239 797,1237 803,1239C809,1240 810,1249 812,1252" fill="none" stroke="#7a7a7a" stroke-width="3.2" stroke-linecap="round" stroke-linejoin="round"/><path d="M728,1294C727,1291 719,1281 720,1276C721,1271 730,1266 732,1264" fill="none" stroke="#7a7a7a" stroke-width="3.2" stroke-linecap="round" stroke-linejoin="round"/><path d="M829,1243C822,1253 800,1283 786,1303C772,1323 750,1353 743,1363" fill="none" stroke="#5a5a5a" stroke-width="13.2" stroke-linecap="round" stroke-linejoin="round"/><path d="M829,1243C822,1253 800,1283 786,1303C772,1323 750,1353 743,1363" fill="none" stroke="#f2f2f2" stroke-width="8.8" stroke-linecap="round" stroke-linejoin="round"/><path d="M812,1252C805,1262 784,1292 770,1312C756,1332 735,1362 728,1372" fill="none" stroke="#5a5a5a" stroke-width="13.2" stroke-linecap="round" stroke-linejoin="round"/><path d="M812,1252C805,1262 784,1292 770,1312C756,1332 735,1362 728,1372" fill="none" stroke="#f2f2f2" stroke-width="8.8" stroke-linecap="round" stroke-linejoin="round"/><path d="M794,1264C788,1274 768,1303 755,1322C742,1341 722,1370 716,1380" fill="none" stroke="#5a5a5a" stroke-width="13.2" stroke-linecap="round" stroke-linejoin="round"/><path d="M794,1264C788,1274 768,1303 755,1322C742,1341 722,1370 716,1380" fill="none" stroke="#f2f2f2" stroke-width="8.8" stroke-linecap="round" stroke-linejoin="round"/><path d="M776,1276C770,1285 753,1312 742,1330C731,1348 714,1375 708,1384" fill="none" stroke="#5a5a5a" stroke-width="13.2" stroke-linecap="round" stroke-linejoin="round"/><path d="M776,1276C770,1285 753,1312 742,1330C731,1348 714,1375 708,1384" fill="none" stroke="#f2f2f2" stroke-width="8.8" stroke-linecap="round" stroke-linejoin="round"/><path d="M820,1236C821,1233 834,1231 836,1234C838,1237 835,1252 832,1252C829,1252 819,1239 820,1236Z" fill="#444" stroke="#5a5a5a" stroke-width="2.2"/><path d="M743,1304C753,1307 779,1314 800,1320C821,1326 860,1337 872,1340" fill="none" stroke="#5a5a5a" stroke-width="13.6" stroke-linecap="round" stroke-linejoin="round"/><path d="M743,1304C753,1307 779,1314 800,1320C821,1326 860,1337 872,1340" fill="none" stroke="#f2f2f2" stroke-width="9.2" stroke-linecap="round" stroke-linejoin="round"/><path d="M743,1324C753,1327 780,1334 800,1340C820,1346 853,1357 864,1360" fill="none" stroke="#5a5a5a" stroke-width="13.6" stroke-linecap="round" stroke-linejoin="round"/><path d="M743,1324C753,1327 780,1334 800,1340C820,1346 853,1357 864,1360" fill="none" stroke="#b0b0b0" stroke-width="9.2" stroke-linecap="round" stroke-linejoin="round"/><path d="M748,1344C757,1346 782,1353 800,1358C818,1363 847,1373 856,1376" fill="none" stroke="#5a5a5a" stroke-width="13.2" stroke-linecap="round" stroke-linejoin="round"/><path d="M748,1344C757,1346 782,1353 800,1358C818,1363 847,1373 856,1376" fill="none" stroke="#f2f2f2" stroke-width="8.8" stroke-linecap="round" stroke-linejoin="round"/><path d="M800,1304C807,1305 827,1306 840,1308C853,1310 870,1315 876,1316" fill="none" stroke="#5a5a5a" stroke-width="12.4" stroke-linecap="round" stroke-linejoin="round"/><path d="M800,1304C807,1305 827,1306 840,1308C853,1310 870,1315 876,1316" fill="none" stroke="#8a8a8a" stroke-width="8.0" stroke-linecap="round" stroke-linejoin="round"/><path d="M752,1389C745,1391 726,1396 712,1400C698,1404 673,1412 666,1414" fill="none" stroke="#5a5a5a" stroke-width="12.4" stroke-linecap="round" stroke-linejoin="round"/><path d="M752,1389C745,1391 726,1396 712,1400C698,1404 673,1412 666,1414" fill="none" stroke="#999" stroke-width="8.0" stroke-linecap="round" stroke-linejoin="round"/><path d="M752,1396C746,1400 728,1411 716,1420C704,1429 688,1444 683,1449" fill="none" stroke="#5a5a5a" stroke-width="12.4" stroke-linecap="round" stroke-linejoin="round"/><path d="M752,1396C746,1400 728,1411 716,1420C704,1429 688,1444 683,1449" fill="none" stroke="#f2f2f2" stroke-width="8.0" stroke-linecap="round" stroke-linejoin="round"/><path d="M744,1384C737,1385 716,1390 704,1392C692,1394 677,1395 672,1396" fill="none" stroke="#5a5a5a" stroke-width="11.6" stroke-linecap="round" stroke-linejoin="round"/><path d="M744,1384C737,1385 716,1390 704,1392C692,1394 677,1395 672,1396" fill="none" stroke="#777" stroke-width="7.2" stroke-linecap="round" stroke-linejoin="round"/><path d="M666,1414C664,1417 656,1424 656,1428C656,1432 664,1437 668,1440C672,1443 680,1447 683,1449" fill="none" stroke="#7a7a7a" stroke-width="3.2" stroke-linecap="round" stroke-linejoin="round"/><path d="M789,1395l-1 2-2 5-2 8-1 9 0 8 1 6 3 4M815,1406l-1 2-1 5-2 7-2 9 0 9 2 6 3 3M842,1417l-1 1-2 5-2 8-1 9 0 8 2 7 3 3" fill="none" stroke="#5a5a5a" stroke-width="13.2" stroke-linecap="round"/><path d="M789,1395l-1 2-2 5-2 8-1 9 0 8 1 6 3 4M815,1406l-1 2-1 5-2 7-2 9 0 9 2 6 3 3M842,1417l-1 1-2 5-2 8-1 9 0 8 2 7 3 3" fill="none" stroke="#a8a8a8" stroke-width="9.2" stroke-linecap="round"/><path d="M761,1426l4 0 6-4 6-6 5-7 4-7 2-5 1-2" fill="none" stroke="#5a5a5a" stroke-width="15.5"/><path d="M761,1426l4 0 6-4 6-6 5-7 4-7 2-5 1-2" fill="none" stroke="#f2f2f2" stroke-width="11.5"/><path d="M787,1437l5 0 6-4 5-6 5-7 4-7 3-5 0-2" fill="none" stroke="#5a5a5a" stroke-width="15.5"/><path d="M787,1437l5 0 6-4 5-6 5-7 4-7 3-5 0-2" fill="none" stroke="#f2f2f2" stroke-width="11.5"/><path d="M814,1447l5 0 5-3 6-7 5-7 4-7 2-5 1-1" fill="none" stroke="#5a5a5a" stroke-width="15.5"/><path d="M814,1447l5 0 5-3 6-7 5-7 4-7 2-5 1-1" fill="none" stroke="#f2f2f2" stroke-width="11.5"/><path d="M760,1424C761,1429 763,1446 768,1452C773,1458 781,1459 788,1460C795,1461 808,1457 812,1456" fill="none" stroke="#7a7a7a" stroke-width="3.2" stroke-linecap="round" stroke-linejoin="round"/><path d="M854,1372C860,1370 879,1363 889,1363C899,1363 908,1366 915,1372C922,1377 929,1393 932,1398" fill="none" stroke="#777" stroke-width="3.6" stroke-linecap="round" stroke-linejoin="round"/><path d="M1033,1294C1033,1289 1029,1271 1030,1264C1031,1257 1036,1253 1040,1252C1044,1250 1051,1251 1056,1254C1061,1257 1064,1270 1068,1272C1072,1274 1078,1265 1080,1264" fill="none" stroke="#7a7a7a" stroke-width="3.6" stroke-linecap="round" stroke-linejoin="round"/><path d="M1026,1355l-2 1-6 2-8 5-8 6-7 6-4 6-1 4M1037,1379l-3 1-5 2-8 5-8 6-7 6-5 6 0 4M1047,1403l-2 1-5 2-8 5-9 6-7 6-4 6-1 4" fill="none" stroke="#5a5a5a" stroke-width="14.0" stroke-linecap="round"/><path d="M1026,1355l-2 1-6 2-8 5-8 6-7 6-4 6-1 4M1037,1379l-3 1-5 2-8 5-8 6-7 6-5 6 0 4M1047,1403l-2 1-5 2-8 5-9 6-7 6-4 6-1 4" fill="none" stroke="#a8a8a8" stroke-width="10.0" stroke-linecap="round"/><path d="M979,1361l4 3 7 0 10-1 9-2 9-3 6-2 2-1" fill="none" stroke="#5a5a5a" stroke-width="16.5"/><path d="M979,1361l4 3 7 0 10-1 9-2 9-3 6-2 2-1" fill="none" stroke="#f2f2f2" stroke-width="12.5"/><path d="M990,1385l4 3 7 0 9-1 10-2 9-3 6-2 2-1" fill="none" stroke="#5a5a5a" stroke-width="16.5"/><path d="M990,1385l4 3 7 0 9-1 10-2 9-3 6-2 2-1" fill="none" stroke="#f2f2f2" stroke-width="12.5"/><path d="M1001,1409l3 3 8 0 9-1 10-2 8-3 6-2 2-1" fill="none" stroke="#5a5a5a" stroke-width="16.5"/><path d="M1001,1409l3 3 8 0 9-1 10-2 8-3 6-2 2-1" fill="none" stroke="#f2f2f2" stroke-width="12.5"/><path d="M1050,1339l-1 1-4 3-6 4-6 6-4 6-3 5 1 5M1064,1363l-1 1-4 3-6 4-6 6-4 6-3 5 1 5" fill="none" stroke="#5a5a5a" stroke-width="12.4" stroke-linecap="round"/><path d="M1050,1339l-1 1-4 3-6 4-6 6-4 6-3 5 1 5M1064,1363l-1 1-4 3-6 4-6 6-4 6-3 5 1 5" fill="none" stroke="#a8a8a8" stroke-width="8.4" stroke-linecap="round"/><path d="M1013,1345l3 3 6 0 8-1 8-2 6-3 5-2 1-1" fill="none" stroke="#5a5a5a" stroke-width="14.6"/><path d="M1013,1345l3 3 6 0 8-1 8-2 6-3 5-2 1-1" fill="none" stroke="#f2f2f2" stroke-width="10.6"/><path d="M1027,1369l3 3 6 0 8-1 8-2 6-3 5-2 1-1" fill="none" stroke="#5a5a5a" stroke-width="14.6"/><path d="M1027,1369l3 3 6 0 8-1 8-2 6-3 5-2 1-1" fill="none" stroke="#f2f2f2" stroke-width="10.6"/><path d="M1046,1294C1056,1307 1087,1343 1106,1368C1124,1392 1149,1429 1158,1441" fill="none" stroke="#5a5a5a" stroke-width="12.8" stroke-linecap="round" stroke-linejoin="round"/><path d="M1046,1294C1056,1307 1087,1343 1106,1368C1124,1392 1149,1429 1158,1441" fill="none" stroke="#f2f2f2" stroke-width="8.4" stroke-linecap="round" stroke-linejoin="round"/><path d="M1056,1296C1066,1309 1099,1347 1118,1372C1137,1397 1163,1435 1172,1448" fill="none" stroke="#5a5a5a" stroke-width="12.8" stroke-linecap="round" stroke-linejoin="round"/><path d="M1056,1296C1066,1309 1099,1347 1118,1372C1137,1397 1163,1435 1172,1448" fill="none" stroke="#f2f2f2" stroke-width="8.4" stroke-linecap="round" stroke-linejoin="round"/><path d="M1066,1300C1077,1313 1111,1352 1131,1378C1151,1404 1178,1443 1188,1456" fill="none" stroke="#5a5a5a" stroke-width="12.8" stroke-linecap="round" stroke-linejoin="round"/><path d="M1066,1300C1077,1313 1111,1352 1131,1378C1151,1404 1178,1443 1188,1456" fill="none" stroke="#f2f2f2" stroke-width="8.4" stroke-linecap="round" stroke-linejoin="round"/><path d="M1072,1312C1083,1326 1119,1366 1140,1394C1162,1421 1191,1462 1201,1475" fill="none" stroke="#5a5a5a" stroke-width="12.8" stroke-linecap="round" stroke-linejoin="round"/><path d="M1072,1312C1083,1326 1119,1366 1140,1394C1162,1421 1191,1462 1201,1475" fill="none" stroke="#f2f2f2" stroke-width="8.4" stroke-linecap="round" stroke-linejoin="round"/><path d="M1048,1320C1057,1331 1084,1365 1100,1388C1116,1411 1137,1445 1144,1456" fill="none" stroke="#5a5a5a" stroke-width="12.8" stroke-linecap="round" stroke-linejoin="round"/><path d="M1048,1320C1057,1331 1084,1365 1100,1388C1116,1411 1137,1445 1144,1456" fill="none" stroke="#f2f2f2" stroke-width="8.4" stroke-linecap="round" stroke-linejoin="round"/><path d="M994,1492C1003,1485 1030,1462 1046,1449C1062,1436 1082,1421 1089,1415" fill="none" stroke="#5a5a5a" stroke-width="14.0" stroke-linecap="round" stroke-linejoin="round"/><path d="M994,1492C1003,1485 1030,1462 1046,1449C1062,1436 1082,1421 1089,1415" fill="none" stroke="#f2f2f2" stroke-width="9.6" stroke-linecap="round" stroke-linejoin="round"/><path d="M1008,1480C1016,1473 1040,1452 1056,1440C1072,1428 1096,1413 1104,1408" fill="none" stroke="#5a5a5a" stroke-width="12.4" stroke-linecap="round" stroke-linejoin="round"/><path d="M1008,1480C1016,1473 1040,1452 1056,1440C1072,1428 1096,1413 1104,1408" fill="none" stroke="#aaa" stroke-width="8.0" stroke-linecap="round" stroke-linejoin="round"/><path d="M1132,1338C1135,1337 1142,1335 1148,1336C1154,1337 1164,1338 1166,1344C1168,1350 1161,1367 1160,1372" fill="none" stroke="#7a7a7a" stroke-width="3.2" stroke-linecap="round" stroke-linejoin="round"/><path d="M1175,1441C1179,1439 1192,1431 1200,1432C1208,1433 1213,1439 1220,1444C1227,1449 1242,1457 1244,1464C1246,1471 1239,1483 1232,1488C1225,1493 1209,1491 1204,1492" fill="none" stroke="#7a7a7a" stroke-width="3.2" stroke-linecap="round" stroke-linejoin="round"/><path d="M1128,1464C1131,1467 1141,1479 1148,1480C1155,1481 1168,1473 1172,1472" fill="none" stroke="#7a7a7a" stroke-width="3.2" stroke-linecap="round" stroke-linejoin="round"/><path d="M916,1410L926,1401M926,1401L935,1407M935,1407L945,1398M926,1401L926,1391M935,1407L935,1417M945,1398L951,1404M916,1410L913,1417M945,1398L945,1388" stroke="#43215e" stroke-width="4.4" stroke-linecap="round" fill="none" transform="rotate(0 932 1404)"/><path d="M970,1504L980,1495M980,1495L989,1501M989,1501L999,1492M980,1495L980,1485M989,1501L989,1511M999,1492L1005,1498M970,1504L967,1511M999,1492L999,1482" stroke="#43215e" stroke-width="4.4" stroke-linecap="round" fill="none" transform="rotate(30 986 1498)"/><path d="M786,1354L721,1354" stroke="#151515" stroke-width="5.6"/><path d="M700,1354L726,1343L718,1354L726,1366Z" fill="#151515"/><path d="M1132,1406L1197,1406" stroke="#151515" stroke-width="5.6"/><path d="M1218,1406L1192,1418L1200,1406L1192,1395Z" fill="#151515"/></g><g transform="scale(0.5)">
<polygon fill="#2c4f9e" points="784,547.0 840,508 874,478 908,448 932,436 940,442 928,450 944,458 932,466 948,474 936,482 942,492 920,502 880,512 850,520 820,536 804,547.0"/>
<path fill="none" stroke="#2c4f9e" stroke-width="3.1" stroke-linejoin="round" d="M712,547l-1 0 4-1-2 1 0-1 3 1-2 0 2 0 1 0 4 0 1 0 3-1 0 1 1 0 2 0-2 0 1 0 4 0-3 0 5 0-1 0-3 0 4 0 1-1-2 1 2 0 2-1 2 1 3 0-2 0 3 0 2 0 3 0-3-1 2 1 1 0 1 0 1-1 2 1 1-2 2 1 1 0-1 0 0 1 1-1 2 1 2 0 3 0 3 0-1 0-1 0 2 0 3 0-1 0 3 0-2 0 3 0 2 0 1 0 1 0 2 0-2 0 1-1 3 1 1-1 4 1 1 0-1-1 3 1 2-2-3 0 4 1-2-2 2 0-2 1-3-3 15 0-4-2 3 1-4-3-1 1-4-3 6 0 7-1 4-1 9-1-18-2 8-1-9 1 14-1-8 0 7-3 2-2-4-1 7-1-3-1 0-2-5-1 4 0 9-3 4 1-8-3 11 0-3-2-8 0 3-1 15-2-8 0 12-4-15 1 11-1 6-1-12 0 11 0-8-3-5-1 7-2 5 0-3-1 10-2-7-1 10-1-13 0 0-2-4 0 9-1-1-1 4 0 10-1-1-2 3 0-2-1 8 0-7-3 3 0 3 1-6-4-3-2-1 0 14 1-2-2-2-1-9-1 7-1 12 0-9-2 9-1-5 1 0-2 5-1-1-1 14-1-2-1-11-1 5 0 9 0-8-3 6-1 4-1-6 1-6-1 12-2-1-1-3 0-1-1 6 0-1-2-3 1 1-1-1-1 2-1 2 1 7-2 0-1 2-1 2 0-7-2 3-1-4 0 6 0-4-1 1-1 1 0 4 0 6-2-3 0 8-3-8 1 2-1 2 0 0-3 3 2 4-1 5 0-10-1 10-1 0-1 2 1-4-2 9-1-4 1 3-1 1 0 4 1-3-2 4-1-4 1 3 1 1-2 2-1 2-1 0 1 2-1-2 2 3-3-1 0 0-1 3 0 1 1-2 0 1 0 0 1 5-2-1 0 2 1 3-2 1 0-3 0 7 1-3 0 3-2-1 0 4 1-1 0 0-1 2 0 2 0 1 2 2-3 0 2-1-1 3 0 2-1 2 2 1-2 4-1-1 2 2 2 2-3 1-1-1 0 1 2 5-1-5 0 4 2 0-1 1-1 1-1-1 1 3-2-2 2 6 1-1-3-1 2 2-1 1-1 4 2-4 1 3-2 1 0 4 1 1 0-1 0-1-2 4 2-1-1 1-1 3 0 1 0 0 2 2-2 0 1 2 0 2 1 1-1 3 1 1 0 0-1 2-1 1 1 3 0-2-1 0 1 4-1 0 2 2-2-3 1 5 0-3 0 6 0 1 0-4 0 4-1 4 0 0 2 0-2-2 1 1-1 2 1 4 1 0-2 1 0 3 1 0 1-2-1 3 0-2 0 2-1 0-1 2 2 4-2-2 0 3 2-1 1 5-2-2 0 1-2 2 1 2 1 2-1 0 2 0-1 1 0-2-1 1 1 1 3 5-4-1 2 3-1-2 1 0-1 3 0 4 1 0-2 4 1-4 0 1 0 2 1 1-2 1 1 3 0 2 0 0 1-3 0 3-1 1 0 2-1-2 1 5 1-1-1 5-1-4 0 3 1 1 1 4-2 0 2-2-1 2 1 3-2-2 2 1-2 4-1 1 1-2 2 2 0 3 0-2-2 3 1 2 0-1 0 2-1 1-1 2 2-1 0 3 1 2 0-1-1 3 1-1-1 3-1 0 1-2 0 5 0-2 0 2-1 3 1 2 0 0-1 0 1 4 0-2-2 5 2-3-1 2 1 2 0 1 0-2 0 5 0-1-1 2 1 2-1-1 1 0-1 6 1 1 0 1-2-2 1 3 0-3 1 2-1 3 2 1-1 1-1-2 0 3 1 3 0-2 0 2 0 3 1 3 0-3-1 3 1 0-1 1 0 0 1 2-2 3 1 1 0 2 0 1-1-1 0 0 1 6-1-3 0 5-1-4 2 1-1 4 0 0 1 1 1 4-2-3 0 1 1 2 0 5 0-2 0 1-1 2 2 2-1-1 1 2-1-1-1 1 1 1 0-1-1 1 1 1 0 1 0 5-2 1 1-3 0 2 2 3-2 3 2 0-2 1 2-2-3 5 3 1-2-1 0 0 2-1-1 4-2 1 1-2 2 4-1 3 1-3-1 2 0 0-2 4 1 0 1 4 0-3-1 1 0 6 1-5-2 3 2 1 0-1-1 2-1 3 2 2-1 1-1 2 1-1 0-2 0 4 0 2 1 0-2 5 3-3-1 0-2 4 1 2 1 1-1 1 0 0 1 1-1 1 1 1 0 2 0-2-1 4 1-2 0 2-1 5 2-3 0"/>
<path fill="none" stroke="#2c4f9e" stroke-width="3.1" stroke-linejoin="round" d="M712,547l-1 0-2 0 4-1 0 1 4-1-2 1 4 0-3 0 4 0-1 0 2 0 2-1-1 1 3 0 2 0 0-1 3 1-1 0 3 0-3-1 3 0 2 1-3 0 4 0 2 0-1-1 4 1-1 0-2-1 3 1 1 0 2 0 2 0-1 0 2 0 1-1-2 1 1-1 3 0 4 1-1 0 4-1-1 1 2 0 3 0 3 0-2 0-1 0 3-1-1 1 5 0-3 0 4 0 2 0-2-1 4 1-4 0 3-2 2 2 6 0-5 0 4 0 1 0 6 0-3 0 5 0-2 0 2 0 1-1 0 1 2 0 1 0-4-2 0 2 4-3-3 0 6 1 6-3-2 1 1-2-3-1 7 1 3 0 0-2 1-1-6-2 9 0-2-1-2-1-11-2 12 0-9-2 5-1 4 0 6-4-6 2 11-3-4 0-4-2 14-1-5-2-6-1-1 1 5-5 8 1-5 0 2-1-6-4 6 0 8 0-10-2 18-1-3 0-7-1-6-1 4-2 14 0-12 0 2-3 1 2 10-2 4-3-7 0 16-1-7-2 8 0-8 1 1-3-6 2 5-2 5-4 3 0-3 0-2-1 14-1-6-2 2 1 4-1-1-1-6-2 13-1-16 0 5-2 11 0 2-1-8-1 8 0-6-3 8 0 7 0 0-2-4 0 3-2-3-1-3-1 12 1-4-2-3-3 6 1-4-2-1-1 2 2 5-3 6 0-1-1-10-2 1 1-6-1 11-1 4 0-3-1 6 1-6-3 13 1 0-2 3 0-7-1-3 0 7-1-4 1 12-2-5-2 1 1 2 0 6-3-8 0 5-1-4 1 8-1-7-1 4-1 7 0-4 1-3-1 12 0-7-3 1 1 5-1-3-1 4 0-1-1-2 1 5 0 4-3-4 1 4 0 2 0 2-1-1 0 1-1 3 1 3-1-1 0-2-2 5 2 0-1 2-1-2 2 5-2-1 0 4 1-2-1 0-1 2 0 4 1 0-1 2 0-2-1 2 0-2 0 2-1 0 2 4 0 2 1-1-3 2 2 3-2-2 0 3 1 3 0-2-1 3-1-1 2 2-2-1 0 2 0 1-1 2 1 2 0 2 0-2-1 4 1-3-1 4 1-1-1 6 2-1-1-1-1 4 0-2 0 3 0 2-1 0 1-1 2 1 0 6-2-2 1 1-1 3 1 2-2-5 1 1 1 5-1-1 1-1 1 0-2 5 1-2-1 4-2 3 1 2 0-3 2 5-2 0 2-2-1 4 1 1-1 0-2 2 2 2 0 2 0 3 0-2 1-1 1 2-1 2-1 1 1 2 0 4-1 1 0-3 1 2-1 1 0 6 1-2-1 2 0 0-1-2 2 2-2 6 1 1-1-1 2 2-1 1 0 0-1 2 1 2 1-2-1 5-1-3 0 5 1 1 0-5 0 6 0-2 0 3 0 3-1-2 1 1 0 1 0-1 0 3 0 0-1 2-1 3 1-2-1 3 2 1 0 0 1 4-2-2 1 4-1-3 0 2 1 6-1 1 0-2 0 2 0 4 1 1-2 1 0 0 1-2 1 2 0 3-1-1 0-1-2 2 2 2 0 5 0 2 1 1-2 1 1-1-1 3 2-2-1 3 2 0-1 4-2-2 1 0 2 5-1 2 0 0-1 3-1 1 1-1-2 0 2 0 1 1-2-1 0 2 0 3-1-1 1 6 0-3 2 1 0 1-2 2 1 3-1-4 1 6-1 2-1-4 1 7 0-2 0-2 0 5 1-2 0 2 0 2 1 0-1 1 0 3 0 1-1 4 0 1 1-1-1 3 0 1 0 2 1-1 0 3 0-1 1 1-3 1 2 3-1 0 1 3 2-1-2-1 0 1 0 2 1 2-1 2 0-1 0 0 1 2-1 3 0 2-1 1 1 0 1-2-2 4 1-1-1 0 1 4-1 1 1 4 0 0-1-3 0 4 0 0 2 3-1 0 1-1 0 2-1 1 0 3-2-2 1 1 0 1 1 5-1 1 0-1 0-1 0 7 0 1 1-1 0-1 1 4-2 0 1 1 0 1-1 0 1 5-1-1-1 0 1 3 1 2 1-3-3 2 1 0 1 4-1-2 2 1-1 5 0-1-3 3 3-3-1 3 0 3 2-3-1 8-1-1 0 1 1 1-1 0 1 3-1-2 2 4-2 0 1 2 0-2 2 3-2 1-1 1-2 5 3-2 0 3-1-3 0 1 1 1 0 1 0 2-1-1 0 4-1 2 1 2 0-3 0 2 0 2 1-2-2 5 1 0-1 0 2-1-2 3 1 4 1-1 0 4-2-2 0 3 1-2 0 4 1 1 1"/>
<path fill="none" stroke="#2c4f9e" stroke-width="3.1" stroke-linejoin="round" d="M710,547l-3 0 4 0 1 0-1 0 4 0-2 0 1 0 4 0-1-1 2-1-1 2 3 0 2 0-2 0 2-1 6 1-2 0 4 0 3 0 1 0-1 0 1 0-1 0-1 0 2 0 4 0-2 0 1 0 2 0 3 0 1 0 2 0 1 0-3-1 2 0 1 1 2-1-2 0 2 1 2-1 2 1-1 0-1-1 1 1 4-1 0 1 2 0 5 0-2 0 3 0 1 0 2 0-1 0 2 0 0-1 6 1 1 0-1 0 4 0 1 0 1-1 2 0-2 1 5 0-1 0 3 0-2-1 1 1 3-1 2 0-4 1 3-2-3 0 4 1-1-1 2 1 1-1 4 0-2 0 0-1 3 0-5 0 8 0 3-1-4-1-1-2 9 1-3-2-2 0-3-1 7-2-7 0 10-2-3 0-3-1 1-1 12-1 6-2-19 1 14-2-8-2 0 1 18-3-13 0 3 0 11-1-3-1-3-1 10-2 1-2-2 0-4-1 10 0-6-1 1-1 1-1 13-4-11 1-3 0 7-2 1-2 1 1 11-1 1 0-9 0-1-4 3-2 7 2-10 0 12-3-2-1 1 0-11-2 10 1 6-1-10-2 8 0 1-1-6 0 5-2-3 0 15 0-11-2 8 0-11-1 11 0 0-3 3 0-8-1 8-2 5-1-4 0 11 1 0-3-6 0 6-1-6-2-3 0 6-1 4-1 6-1-1 0-10-2 8-1 3-1-4 0 0-1-1-1-4 0 2-1 7 0 2-1 1 0 1-1 9-2-8 0 4 1 11-2-3-2 0-1 0 3-2-2 0-2 3 0 1-1-10 0 15-1-7 0 6-2 5 1-11-1 8-2 4-1-7 0 1 0 11-1 2-2-8 1 6-2-3 0 10-1 1 1-3-2-1 0 1 0-1 0 5 1 1-3 1 0 1 0-2 0 2-1 5 1 0-2 2 0-3-1 3 0 4 2-2-2-1 0 2-1 4 0 1 0 2 0-2-2 3 2-2 1 1-2 3 2 0-3 1 0 4 0-2 0 2 2 3-1 2-1-3 0 3 0 0-1 2 0-1 0 4 1 3-3 4 3-3-1 1 0 0-2 0 2 4-1 2 0 0 1 4-1-1 1 1-1 2-1 0 1 2-1 1 0 1 2 2-1 0-2 1 1 1-1 1 1 4 0-3-1 6 0-4 0 3 0-1 1 3-1 2 1-1 0 1-1 4 0-2-1-1 0 1 1 5 0 1 0 1 0 2-2-2 1 5 1 2 0 0-1 0 1-2-1 5 1-1-1 2 1 1-1 1 0 1 0 0-1 2 1 0 1 0-1 5 2 0-2 0 1 1 0 4 1-3 0 4-2 1 0 3-1 0 1 3 1 1-2-2 0 5 0-3 2 1-1 3 1 2-2 2 0 2 0 0 1-2 0 3-1-2 1 1-1 5 1 0 1 3 0-4-1 3 0-1 1 4-2 2 0-1 0-2 2 2 1 1-3 1-1 3 2 3-1-3 1 0-1 2 1 0-1 1-1 5 1-2-1 1 2 1-1 4 0-1-2 1 2 3 1 0-2-1 2 3-1 1 1 3-2 3 1-2-1 3 1 0 1 1 1 1-3 2 1 1 1 1-1 1-1-2 2 3-3 3 2-1 0 3-1-3 1 5 1-2-2 2 0-2 0 3 2 2 0 3-2 3 1-3 2 4-2-3-1 2 1 4-1-1 1 1 1 4-1 1 0-3-1 4 0 0 2 2-1 4 0-4 0 3 0 0-1 2 1 1-1 3 1-1-2 0 1 1-1 2 2 4 0-1-1 4 1-4 0 4-1 2 0 2 1-2 0 2 0 3-1 0 1-1-2 1 1 1-1-1 2 4-1 3-1 0 3-1-3 2 2 3-2 0 1 0 1 4-1-1 0 2 1 1 0 1-1 2 1 3 0-2-2 3 2 2-1 1 0-1-1 2 0-3 3 5-2 1-1-2 2 3-3 2 2 1 1 1-2 2-1 2 3-1-2-2 2 5-1-2 0 3-1 1 1 2 0-1-2 1 3 3 0 0-2-2 1 5 1 0-3-2 2 1 1 2-2 2 0 3-1-1 3 2 0-1-1 2 0 1 0 3 1-1-1 4-1 2 0-3 1 3-1 3 0 0 1 2 0-1 0 2-3 0 3 1 1 4-1-2 0 4-1 1 3 2-1-2-2 4 0-3 1 4-1-3 2 6-2-2 2 3 0 1-2-3 1 2 0 2-1 2 2 2-2-4-1 2 2 1-1 2 0-2 2 4 0-1-1 2 2 4-2-1-1 2 0 1 0 3 0-1 1-2-1 7 0-5 0 4 1"/>
<path fill="none" stroke="#2c4f9e" stroke-width="3.1" stroke-linejoin="round" d="M711,547l-3-2 2 2 3 0 2-1-1 0 3 1 1 0 3 0-1 0 3 0 2 0-3-1 1 1 5-1-2 1 4 0-4 0 2-2-1 2 0-1 6 1-2 0 2-1-1 1 4-1 2 0 1 1 3-1-1 0 2 1 1 0-3 0 1 0 4-1 0 1 4 0 2 0-2 0 2 0 2 0 2 0-4 0 1 0 5 0 3-1-1 1 3 0-3 0 2 0 3-1 3 0 4 1-2 0-1 0 1-1-1 1 4 0 2 0 2 0-1-1-1 1 5-1-2 1 4 0-1-1 6 1 2-1-3 1 3 0-1 0 5-1-2 1 2 0 2 0 1-1 2-1-3 1 3 0-1 0 3 0 3-1 4 0 3-1-6-2 1 0 6-1 4-1-3-1-6-2 10 1-3-1 1-1-5-1 0-1 6 0-4-2 3-2 1-1 11 1-7-2 9-1 0-1-8 0 1-1 3-2 3 0-2-1 5-1 11-2-17 0-1-1 11-1 2-1-9-2 3-1 8-1-4 1 7-1 0 1 10-4-4-1-4 0 3 0-4-1 11-1-11-1 2-1 6 0 5-3-4 0-6 0 11-3 6-1 4 0-8 0-2 0 5-1-2 0 10-1-5-2-4 0 6 0-4-3-4-1 3-1 4 2 14-3-3 1-5-2 10-1-7-2 10 1-6-1-6 0 7-2 4 0-1-1 4-1-8-1 2 0 0-1 9-1-2-2 8 2 2 0-8-3-1-1 8-1 3-1-5 0-2 0 10-1-1 1 3-1-1-2-3 0 3-1 7 1-5-3-1 2-1-2 6 1-1-2 4 1-1-2-2 3 6-2-1-3 4 1-1 0 2-2-1-1-1 2 2-1 4 0 1-2-3 1 2 0 3 0 0-2 3 0-1-1-2 2 8-1-3-1 2-2 4 1-3 0 3 0 0-1-1 0 1-1 4-1 0 1 1 1 0-4 2 2 3 0-3 0 4 0 4-1 1 2-1-1 0-1 5 0 2-1-4 2 3-1 1 0 0-1 1 0 3-2 0 2 4 0 1 1 0-3 0 1 5 0-3 1 3-1-2 0 3-1-1 2 1-1 6 0 1-1-2 0-1 0 6 0-2 0 3 0-1-1 2 1-1 0 4 1-3-1 3 0 1 1 2-3 2 0-5 1 2 0 5-1 0 3-2-3 3 3 3-2 2 0 1 0-2-1 2 0 0 1 1 0 3 0-2-1 0 1 4 1 0-2 1 1 3 0 1 0 1 0 2-1-3 1 6 0-3 0 2 0 2 0 1-2 2 0 1 2-1-2 2-1 3 3-1-2 5 1-5-1 3 3-2-3 2 1 4-1 1 0-2 3 2-2 1 0 3-1-3 0 4 0-1 1 1-1 5 1-2-1 4 0-1 0 4 0 1 2 1-2-1 1 3-2-1 0 0 2-1 1 2-2 5 1 3 0-5-3 4 2 2 1-1-1 1 0 6-1 1 1 0 1-2-1 3-2 2 3-1-1-2-1 1 0 3 1 3 0 0-1 2 0-1 0 3 0 2-1 0 1-1 0 1 1 4-2-2 0 3 1 0 1 2-1-3 3 6-2 1-1-1 1-1-1 1 0 4-1-2 1 2 1-1 1 5-2 0-1 1 0 2 1-1 1 1-1 2 0 1-1 2 1 0-2 2 2 4-1 2 0-1 0 3 1-1 1 1 0 4-2-3 0 4 0-3 0 6 1-3-3 5 0 2 2-4 1-1-1 4 2 0-2 4 1-1 0 4-2 0 2 0-1 2 1 3-2-4 0 0 3 5-1-2-1-1 1 5-1 1 0-2 1 3-1 2 0 3 0 1 0 1-1 4 2 0-1 0 1 3-1 1-1 1 1-1-1-1 0 4 1-2 0 4-1 2 0-1 0 2 1 0 2 0-1 6-1-1-1 1 0-1 1 3 1 0-2 3 0 2 0 0 1 1 1-2 0-1 0 1-2 3 0 2-1-2 0 1 1 4 1-1-1 3 0 2 2-1 0 4-1 1-1 3 1-2 1 1-1 3-1 1 2-3-3 2 2 2-1-1 0 2 1 5 0-2 0 1 0-2-1 3 0 0 2 2-2 1 1 1 0 6-1-2 1 5-1-4 1 2 0 1-2 2 1 0 1 0-1 1 1 2-1 3 1-1-2 3 0-1 3 0-1 3-1 1 1 1 1-1-2 3 1 1-1-1 0 2-1 0 2 3-2 3 2 1-2 0 1 2 1 0-2 1 1 3 2 0 1 1-2 3 0-1-1 2 0-3 0 0 1 5-1 0 1 1 1 2 0 2-2 1 1-1 1 3-1-3 0 2-1-2 2 3-1 3-1 2 0-1-1"/>
<path fill="none" stroke="#2c4f9e" stroke-width="3.1" stroke-linejoin="round" d="M712,547l-4 0 4 0 1 0 3 0 2 0-4 0 1 0 5 0 0-1-2 0 3 0 0 1-1 0 3 0 4-1-1 0 3 1-1 0 5 0-3 0 2-1 4 1-2-2 1 2 3 0 1 0-2 0 0-1 5 1-4 0 1 0-1 0 2-1 3 1 1 0-1 0 4 0 0-1 0 1 3 0 1 0 4 0-1 0 3 0 2 0-3 0 3 0 2 0 2 0 1 0 1 0 5 0-1 0-1 0 5 0-1 0 2-2 0 2 1 0 2 0-2 0 5 0 2 0 1 0-2-1 0 1 3 0-2-1 5 0-1 1 5 0 3 0-2-1 3 0-3 1 6 0 1-1-1 1 1 0-2 0 5 0-5-2 9 1-3-1 6-1-5-1 1 1 0-2-6-1 7-1 1-1 4 1 3-3-1-1-5 0 7-2 9 0 1-1-8-1 9 0 0-3 4 2-6-3-1 1-4-2 4 0-3 0 11-2-8-1 10-3-10 1-3-1 19 0-5-2-2-1 2-1-12 0 6 0 6-2 5-2 4 0 4 0-2-1 1-1 4 0-3 0-8-2 9 0 0-2 0-1-4 1 10 0-5-1 2-2 8 0 2-2 3 1-10-2-4 0 9 0 9-2-7 0 2-1 8-1-1-1-1 1 2 0-5-3 4-2-3 0 9 2 1-2-1-2 5 0-7-2 6 1-7 2 3-3-3 0 6 0 11 0 2-1-6-2 4-2-4 0 2 0 3-2 4 1 2 0 2-3 1 1-7-1-1 0 5-2-4 2 3-1 0-1 5-1 4 1-3-2 1-1 4-1 2 1 4-2-10 1 5 0 4-1-3-1 2-1 1 0 5-2-4 3 6-1-4-2 5-1-1 0-1 0 4 0-1 0 6-2 3 1-3-1 1 1 0-2 4 0 3-1-5-3 4 2 5 0-1 0 0 1 1 0 2-2 2 0-3-1 4 1-1-2 1 1 2-1 0 1 1-1 2 1 4-1 2 0-1-1-1 0 2 1 4-1 0-1-4 1 2 0 5 0 0-1-2-1 4 2-3-2 5-1 0 1 4 1 1 1-5-2 1-1 5 0-1 0 4 1 1-1 0 1 1-1 4 0 1 1 0-1 1-1-2 0 2 0 2-1 1 1-1 1 3-2 0 2 4 0-1-2-1 1 4 0-1 0 2 0-2 1 3-2-1-1 1 1 2-1 3 0 2 2-2-2 1 1 3-1 3 1-1-2 4 1-2 0 1 0 4 0 3-1 1 2-4 0 2-2 0 1 2 0 1 0 4 1 1-1-1 1-1-2 1 0 1 1 3-1 4 1-1 0 6 0-2 1 1-2 1 0 2 2 1-2 1 0 2 0-1 0 0-1 3 2-1-2 1 1 2 2 0-4 0 2 3 0-1-1 2 0 4 1 2 0-4 0 5 2 1-2-2 0 0 1 2-1 0-2 4 3-2-2 1 2 2 0 4-1-1-1 1 0 4 0 0-1-2 1 1 1-1 0 5 0-3-1 4 1 2-1 1 1 3 0-1 0-2 0 1-2 5 0-2 0 2 1 1 0 2-1 3 1-1-1-2 1 1-1 3 2-1-3 1 2 4-1-1 1 1 0 2-1 5 2 0-2-2 1 2-1 2 1 3 0-2 0 3-1 0 1 0-1-1 0 1 1 4-1-1 1 5 0 1-1 2-1-3 2 4 0 1-1-1 1 2 0 2-1 0 1 1-2-1 3 0-2 7 0 1 1-1 1 0-2 4 1-2-2 0 1 4 0 3 0-1-1-2 1 1 0 2 0 5 0-4-1 2 0-1 0 2 1 4-1-1 2 3 0 2 0-4-1 2-1 1 2-1-1 1 1 5-1 0 1-1-2 4 1-3-1 3 0 3 0-1 0 3 1 1 0 4 1-1-1-2 0 2 0 2 0 1 0 0-1 1 1 0 1 1-2 2 0 4 0 2 1-1 1 2-3-1 2 0-1 1 0-1-2 8 1-3 1 5 1-5 0 4-1 4 1-5-1 6 0-1 1-2 0 5-1 0 1 0-1 3 1-2-1 4 0 0-1-1 2 1-2 0-1 0 2 3-1-1 0 3 2 3 0 3-2-1 1 1-1 2 1 0-1-1 1 6 1-4 0 1-1 2 1 3-1-2 0 5 0 2 0 2-1-1 1 2-1-1 2 0-1 2 0 2 2-1-4 5 3 0-2 1 1 0 2 2-3 0 1 4-1-2 1 4-1-3 1 2 0 5-2 0 2 0 2 1-2 2 0 1-1 0 1 1 1 3-1-4-1 4 1 1-1-2 1 2 0 4-1-1 1"/>
<path fill="none" stroke="#2c4f9e" stroke-width="3.1" stroke-linejoin="round" d="M709,547l1 0 2 0 3 0 1 0-1 0 1 0 1 0 2-1 0 1 2-1 2 1 2-1-2 1 5 0-3 0-2 0 3 0 4 0-3 0 3 0 2 0-1 0 1 0 3 0-2 0 2 0 5 0-1 0-4 0 3 0 3 0 0-1 1 0 1 0 1 1 1 0 2 0 5 0-3 0 3 0 3 0 1-2-3 2 4 0-2 0 1 0 4 0 1 0 2 0 1 0-2 0 2 0 4 0-1-1-1 0-1 1 4 0 1 0 3 0 1-2 3 2 1 0 1-2 0 2 1 0 1-1-2 1 3 0 1 0 4 0 2 0 2-1-3 1 4 0-3-1 2 1 4 0-1 0 1 0 3 0-1 0 3 0 0-1-1 0 4 0 2-1-4 0 2-1-1-1 8 0 4-1-2 0 4-1-5-1 5 0 1-1 6-2-8 0 8-1 0 1 3-1 0-2-8-2 4 2 2-1-5-3-2 0 15 0-10-3 6 0-9 0 13-2-12 0 1-2 10 0-3 0 5-1 7-2-13-2 5 1 8-1-3-1 9-2-10 1 11-3-10 1 2-2-2 0 5 1 4-2-1-1 2 0 4-1-1-1 11-1-3-1-7-1 3-1 3 0 7 0 2 0-7 0 6-3-9 1 2-1 7 0-1-2 0-1 9 0-2-1 1 0-6-1 5 0-3 1 9-3 2 0-1-1 0-2 2 0-4 0 6 1 5-4-1 3-7-1 11-1 3-2 3 0-8 0 3 1 2-1-1-2 0 1 6 0-3-2 2 0 4-1 3-1 1 1-7-1 1-2 5 1-4 0 5 0-1-2 8 0-4 1 6-2-1-1-4 2 4-3 4 2 1-1-1-1 3-2-3 1 7-1-2 0-1-2 5 1-1 0 3-1 3-1-6 1 2-1 3 0 1 1 3-1-1-2 2 1-3 1 6-3-3 1 4 2 0-2 2 1 4-2 2-3-2 1 1 1 0 1 1 0 2-1 1-1-1-1 1 1 4-1-1 1 3 1 2-2-1 0-1 0 5-1 0 2-1-1 2 0-2-1 4 0 2 0-3 1 1 0 4-1-1 0 3 1 1-2 2 0 3 0-2 0 0 1 0-1 1 0 6 1 1-1-1 1 2-3 5 1-3 1 0-1 5 1 1-2-1 0 3 1 1 0 0-1-1 0 1 1 2 0 1 1 3 0-2-1 2 1 4-1-2-2 2 1 2-1-1 1-1-1 6 1 2-1-2 0 3-1 2 2-1 0 2-1 3 0 2-2-1 2-1 0 1 1 1 0 5 1 0-2 0-1 4 1-1-1 2 2-2-1 6 0-4-1 3 1-1-1 2-1 2 3 1-1-3-1 4 1 0-1 1 2-2-1 5 0 3 1-1-3-1 0 6 0 0 1-4-1 3 1 3 0 1 2 0-3 2 1 3 2 0-1 1-1 1 1-2-1 2 2 2-2-1 0 2 2 4-2-1-1 2 1 1-2 0 1 2 2 0-1-1-1 1 0 5 1 3 0-2 0 4 0 2-1-3-1 5 1 1 0-2 0 2-1 4 2-2-2 2 1 1-1 1 1 2 1-1-1 1 0 3 2-1-1 3-1 1 0 2 1-2 0 4-1 2 0-3-1 5 1-3 0 0-1 3 1 4 0 2-1-2 0-1 1 3 1 2-1-1-1 3 2-1-1 3 0 1 1 3-3-2 2 1 1-1-1 4-1 0-1 0 1 1 0 4 0-4-1 3 0 0 2 7-1-4 0 1 0 1 0 7 0-1 1 3-2-4 1 2-1 5 1-2 0 0-1 3 1 1-1 1 0-1-1 5 2-3 0 4 0 0 1 1-1 0 1 3-1 2-1 1 1-1 0 2-1 1-1-3 2 5-1 4 1-3-1 4 0 0-1-1 2 2-1 2 0 2 1 1 0-2-1 4 2 2-1 1 0 3 0-4 0 2 0 6-1-1-1-2 1 1 1 3-1-2 1 3-1 1 0 2 0 2 0 2 1-2 0 5 0-5-1 1 1 1-1 2 0 2 1 4 0-4-1 0 1 2-1 1 0 1-1 3 0 3 1 1 0 1-1 5 2 0-1 3 1 0-1 1-1-3 1 4 0-2 0 4 0 1 1 3-2-2 1 5 2-2-2-1-1 4 0 3 1-4 0 1-1 1 0 5 2-1-1 2 0 2 0-1-1 2 0 2 1 1 0-1-2 4 2 0-2 5 1-2 0 3 1 1-1-3-2 3 2 1 1 0-1 0-1 2 1 1 1 1-1 2 1 1-1 1 1 1-1 0 1 2-1-1 2 3-2 1 0 3 2 3-2 0 1-1-1 4 1-1 0 3 0-4 1 5-1"/>
<path fill="none" stroke="#2c4f9e" stroke-width="3.1" stroke-linejoin="round" d="M712,547l-5 0 4 0 0-1 5 1-1 0-2 0 1 0 3 0 0-1 4 1-3 0 5-1-1 1 1 0 3-1 2 1 3-1 1 1 0-1 1 0 0 1 2 0 1 0 2-1 2-1 2 2 0-1 1 0 4 1 3-1-2 1 1 0 1 0 5-1-2 0 4 1-3 0 1 0 5 0 1 0 2 0-1 0 3 0-2-1 3 1 2 0-4 0 4-1 0 1 0-1 1 1 2 0 3 0 3 0-1 0-1 0 4-1-4 1 2 0 3 0 3 0-3 0 3 0-1 0 1 0 2 0 5 0-1 0 1 0 2 0 2 0 1 0-2-1 0 1 6-1-6 1 7 0-3 0 2 0 0-1 5 1 1-1 1-1 0 1 4-1-5-1 3 0 9-1 1 1 2-4-6 2 12-1-6-2 4-1 0-1-7-1 2-1 4 1 6-2 3 0-5-2-5 0 9 1-5-2 10-4 8 2-6-2-1 0 4-1-4-1-5 0 11-2-11 0 8 0-10-3 12 0-5 0 4-1 0-2 4 0-6 0 8-2-2-2 6 2-5-2 11-1 1 1-4 0 2-1 8-1-8 0 0-1 7-1 3 1-8-2 0-2 7 2-9-2 2 0 4 0 9-2-1 1 4-2-4 0-4 0 6-2-1 0-1-1 11 0 1 0 0-2-1 0-1 0 4-2-3 2 9-1-2 0-3-3 5 2-7 0 3-1 3-3 2 0 1 1-3 0 5-3-4 2 1-1 2-3 3 3 1 0 3-2-2 0 7 0-6 0 4-1 2-3 2 3-2-3 1-1 0 1 1 0 4-1 2 0 2 1-1-2 7 1-1 1-4-3 1 1 1-1 3 1 2-2 4 0-1 0 3 1-3-1 3-1 1 0 4 0-1-1 2 0-1-1 1 0 1 1 0-1-2 0 4 1 0-2-1 0 4-1 4 1-2-1 2 0 1 0-1-1 3-1 2 1 0 2-1-1 4-2 0-1 5 1-5-1 5 1 2 0 2-1-1 0 4 0-1 0 2 1-2-2 1 1 3 0-1-1 5 1 2 0-4-1 5-1-2 0 1 0 3 1 1 1 0-1 4 0-1-2 0 2 2-1-2-1 3 2 4 0-2-2 4 0-1 2 3-1 3-2-2 2 2-1 2 0-4 1 1 0 0 1 5-1 0-1 1 0 1-2 4 0-5 1 5 0 0 1 2 0 0-1 1 0 3 0-3-1 0 2 4 0 1-2 0 1 4-1-1 1 5 1-2-2 2 1 3-1 1 0-3 0 2 1 5-1 0 1 2-1-3 1 1-2 3 2 0-1-1 0-1 2 4-2 2 0-2 1 2-1 1 0-1 0 4-1 1 0 2 1-1-1 4 1 1 0-2 0 2 0 2-1 3 0 0 1 3 0 1 0-3 0 5 0 2-1-1 2 1-3 3 1-2 0 2 1 3-2-4 1 5-1-1 1 3 1-1-2 1 1 2 0 2-1 1 2-1 0 4 0-1-1 2 0-1 0 0-1 1 0 6 1 0-1 1 1 1 0-1-1 3 0 1 0 1 1 2-2 2 1-2 1 3-1 2 0-3 0 2 1 3-2 2 2-1-1-1 0 4 0 0 2 1-3 3 0 0 1 2-1 2 1 1-1-4 1 3 1 1-1 2 0-1 1 2 1 1-2 2-1 0 1 1 0 0-2 1 2 1-1 1 1 5 0-4 0 3 0 2 1 1 0-2-2 3 0 0 1 5 0-2 0 3-1 0 1 4 0 1-1 1 1 0-1-3 0 5 1-1-2 1 2 0-1 2 0 1 0 0 1 3-1 0 1 2-1-1 0 2 0 3 0 2 1-4-3 4 2 1-1 0 2 2-1 0-1 3 2 1 0 2-2 0 1 2 0 2-1 0 1 0 1 3-2 3 2-1 0 1-1 2-1 2 2-3-1 4-2 2 1 1 1 1 0 3 1-5-2 4 2 1-1 0-1 0 1 2-1-2 0 6 0 2 0-2-1 0 3 3-2 1 0 1 1 4 1 0-1 2-2-3 1 2 1 0-1 3 0-3 0 2 1 3 0-1 1 6-2-1-1 0 1 1 0 1 0 2 1 2-1-2-1 4 0-1 1 2 1-1 0 1-2 4 2 0-1 2 0 1 1 3-1 1 1 0-2 0 1 3 2 3-1 2-1 2 1-1-2 2 0-1 0-2 0 2 2 3 0 0-1 1-1 0 1 8 1-2-1 0 1-1-1 4 1 0-3 0 1 0 1 4-1 2 1 3-1-4 1 5-2-1 1-1 2 1 0 2-1 2-1-1 1 0-1 4 2-1-1 2 1 2-1"/>
<path fill="none" stroke="#2c4f9e" stroke-width="3.1" stroke-linejoin="round" d="M711,547l-3-1 4 1-1 0 4 0-1 0 2 0-1 0 3-1-1 1 3 0 2-1-2 1 4 0 1-1-1 1 1-2-1 1 3 1-1-1 5 1 2 0-3 0 3 0 2 0 1 0-1 0 4-1 2 1 0-1 3 0 0 1 2 0-3 0 3 0 1 0 3 0-1 0 5-1-1 0 1 1 4 0-2 0 2 0-2 0 6 0 0-1-1 1 4 0-3 0 3 0 2 0-1 0 5 0-2 0 3 0 0-1-1 1 2-1 3 0 0 1 4 0 2 0-1 0 2-1 2 0 1 1-3 0 3 0-1 0 4-1-2 1 5 0 0-1-1 1 2 0 1 0 3 0-1 0 1 0 8 0 0-1 0-2 1 1-5 0 0-1 2-2-6 1 5-1 10-2-4-1-6 1 5 0 9-2 1-1-8-2 8 0 6 0-3 0-7-2 1 1 8-1 0-1 1-2-3-1 7 0 2 2-1-2 3 0 1-1-1-1 9 0 1 0-7-2 1-1 3 1 3 0 2-1-5 0 2-2 5-1-4 0 0 1 4 0 1-1-3-1 1-1 2 0 2 1 2-2 3 0-2 0 1 1 6-2-4 0 2 0-1 1 4-2 2 1 1 0 1-1 1 0-3 0 1-1 3 0 2 0 3 1 1-2 1-1 0 2 1-1-2 0 6-1-4 0 5 1 1-2-1 0 0 1 2-1-1-1 4 0 1 1 1-1 2 1 2-3-2 1 1 0 0 1 5 0 1 0-2-2 4 2-3-1 3-1-2 1 1-1-2 0 1 0 6 0-2 2 0-3 1 0 5 0 0 1 2-1 1 1 4-1 2 0-3 0 2-2 3 1 4 1-3-1 1-2 2 1 2-1-2-1 2 1 3 1 3 1-1-3 0 2 3 0 1-1-2 0 2-1-1 1 2 0 1-2 1 2 4-4-2 4 4-2-3-1 0 1 7 1-5-1 5-1 4 1-2 1-2-2 0 2 1-3 2 0 2 0 2 1-1-2 2 0 3 0 2 1 0-1-1 1-1-1 3 1 4 0 1-1-1 0 4 0 1 0-1 1 3-1-2 0 2-1 2 0-3 0 6 1-3-3 0 3 4-1 1-1 1 2 2 0-1-2 0-2 1 1 0 1 4 1 3-1 0 1 0-1 2-1-2 1 4-1-1 0-1 1 5 0 0-1 0 1 0-1 5-1-2 1 1 1 3-2 1 1 2 0-3 0 6-1-2 1 5 0-4-1 3 2-1-2 1 0 2-1-1 2 5-1-2-1 2 0 3 1 0-1 3 1 1-1 2 0 1 0 0 1 4 0-3-1 2 0-1 0-1 1 4-2-1 0 2 0 3-1 0 1 1 0 1 0 0-1 4 1 2-1-1 1 3-1-4 1 5 2 1-3-1 1-1 0 5-1 0 3 3-1 0-2 1 1-1-1 2 0-1 0 4-1-1 3-1-2 6-1-1 0 1-1 1 1 0 1 2-1 1-2 5 1-2 1 4 0-2 1 4 0 1-1 1 1-2-1 2 1 3-1 1-1 1 1 1-1-2 1 2 0-1 0 2 1 5-1-1 0 3-1 0 1-1-1 2 0 4 0-2 1 4 0 0-1-2 0 1-2 5 1-1 0 3 2-4-1 5 0-4 2 4-2 2 0-1 0 4 0-2-1 1 0 3-1 1 2 0-1-1 1 5 0 1-1-2 0 4 0 1 0 1 0-1 0 2 0 2 1 3-1-1 0-2 0 5 0-4 0 3 0 3 1 3 0-3-1 2 1 5-2-1 1 4 0 1 0 0-2 0 1 3 0-1 0 3 3 0-2-3-1 2-1 0 2 3 1 4-1-1-1-2 0 4-1-1 1 4 0 1-1-2 1 3 0 1 0 2-1 2-1-3-1 4 1-1 0-2 0 1 0 1-2 3-1 0 1-1 0 2-2 5 0 3-1-1 2 1-1-3-1 6 0-3 2 6-3 2 0 0-1-2 0 7 0-1-1 2 1-3-2 1-2-1 2 2-2 5-1 0 2-1-1 4 0 3 0-3 0 3-1 2-1-1 0-2 1 5 1 1-2 3 0 1 1 1-1-3 1 4 0 2-1-3 1 4-2-2 1 2 0 1-1 3 2 1-1-3-1 3 1 2-1-1 2 1 0 5 0 0-2-1 2 2-2 2 2-4-2 6 2 1-1-2 2 0-1 4-2 0 2 1-3 2 0 3 2-2 1 0-1 0-1 5 2 3-1-3-1-2 0 4 2 3-2 1-1 3 1-2-1 1 1-1 1 1-3 3 2-2 0 3 1 3-2 3 1-2 0 4 0 1 2-1-1 3-2-1 1 0 1 2 0 5 0-1-1"/>
<path fill="none" stroke="#2c4f9e" stroke-width="3.1" stroke-linejoin="round" d="M708,546l2 0 4 1-2 0 2-2-3 2 4 0-1 0 3 0 1-1-1 1 4 0 2 0-2-1 0 1 2 0 1 0 3 0 1-1 3 1 2-1-4 1-1 0 5 0-1 0 4 0 1 0 1 0 2 0 3 0 0-1 3 0-1 0 0 1 1-1 0 1 2 0-2 0 1 0 4 0 5 0-1-1-2 1 1 0 2 0 2 0-1 0 2 0 3 0 0-1-2 0 1 1 4 0 2 0-1 0 1-1 3 1 3-1 2 1-2 0 2 0 1 0-3 0 3 0 2 0 1 0 4 0 0-1 1 1 3 0-2 0 2-1 1 1 2 0 1 0 1 0 6-1-2 0-2 0 1-1-4 1 5 0 5-1-3-2 5 1-3 0-2-1 4-3 9 1-11 0 6-2 5-1-4 0 1-1 7 0 10 0-10-2-3-2 9 0-1 0 7 0-3-2 1-1-2-1-3 1 4 0 4-2-8 0 10-2 4-1-3 1-2 0 3-2 5 0-5-1 8 0-5-1 4 0 1-1-2-1 1-1-2 2 6-2 5-1-4 0 1 0 4-1 1 0 0-1 1-1 2 2-3-3 0 2 4-1 4 1-1-2-1-1 2 2 3-2 1-1 1 1 3 0-2-1 0-1 1 0 1-1 5 2-3-1 4 0-1 0 1 0 3-2 3 2-2-2 3 0 2 0 0-1 2 0 2-1-2-1 0 1 6 1-3 0 5 1-2-2-1 0 4-2 2 2-3 0 2 0 0-1-1 0 3 1-2-2 3 0 2-1 2 0 1 1 1-1 4 0 1-1 1 1 0 1 4-1-1-1-1 0 1 0 3-1 1 0 1 2 1-2 1 0-4-2 5 2 3 0-2-2 1 3 4-3 3 0 1 1-3-1 3 1 3 0-3 0 5-1 3 0 1 1-3-2 5 0-1-1 1 2-1-2-1 1 2-1 2 1 0-1 2 1 2-1 1-1 3 1 2 0-2-1-1 0 3-1 0 1 5 0-4 1 5-2-3 0 1 0 3 1 3-2-1 2 3-1 2 0 0-1 4 0-2 1 2-2 5 0-3 1 1 0 3 0 1-1 2 0 2 0-1 0 3 0 3 0-1 1 0-1 0-2 3 1-1 1 3 0 2-1 2 0-2 1 3-3 2 2-1-1 2 0 2 0-3 0 4 0-1 0 1 0 0-2 4 0 3 1 0-1 0 2 4 0 0 1 1-3-2 1 3 1 0-2-1 1 3-1 3 0-3 0 3 0 2 1 3-2-1 2 1-1-2-1 4 0 4 2-2-2 1 1 0-1 3 0 3 3 0-3 0 1 2-1 0 1 2 0 1-1 3-1 3 2-3-2 3 1 1-1 1-1 0 2-1-1 3 0-2 0 1-1-1 1 2 0 1 0 5 0 2 1-5-2 2 1 4-3 0 3-1 1 2-1-1 0 6-1 0 1-2-1 7 1-3 0 2-1 2 0 2 1-2-1 3 0-3-2 5 2 1 0-4 1 1-2 5 1 3-1 0 2-1 0 1-1 1-1 1 0 4-1-1 2 2 0-1 0 4-1 0-1 2 1 2-1 1 2-1-1 1-1-1 0 3 1 3 1 2-1-2 1 2-2-1 1 1 0 1 0 3-2-2 1 1 0 6 1-1-1-2 2 4-1 2-1-2-1 6 2 1-1-2 0 3 2 2-2-1-2 3 1-1 2 2-1-2 1 3-1 1 0 4 0 1 0-3-1 1 1 3-2 3 2-2-1 3-1 2 2 1-1-1 1 4-1 3 1-3-2 5 1-2 1-3-1 4 1 3-1-1 1 2 0 1-2 3-1-1 1 3 0 1 1 1-1 3 1-1 0 1-1-3 0 4 2 2-2 2 0 1 0 3 1-3 0 4-1 1 0-1 1 5-1 1 2-1-2 1 2 0-3 0 1 1 0 2-1 6 0 0 1 1 0 1 1-3 0 5 0 2-2-4 1 1-1 4 2-1-1 3-1-1 2 5-1-3 0 1-2 3 1 2 1 3 0 1-2 4 2-3 1 2 0 0 1 0-1 3 0 2-2 2 1 2 1-3-3 2 2 2-2 2 2 2-1-3 0 0-1 6 1-3-1-1 2 5-2 3 1-2 0 5 0-2 0 4 0 0 1 1-2-1 2 1 0 2 0 1-1 2 1 1-1-2-1 1 0 0 1 5 1 1-1-1 0-1 1 5 0-3-1 4 0 4-1-2 2-1 0 2 0 1-1 2 1 2-2-1-1 3 2 1 0 2 0 0-1 2 2-1-1 3 0-1 1-1-2 2 1 1 0 0 1 1-2"/>
<path fill="none" stroke="#2c4f9e" stroke-width="3.1" stroke-linejoin="round" d="M707,546l2 1 3-1 2 0-4 1 1-1 3 1 3 0 1 0-4 0 3 0 2-1 1-1 2 2-2 0 4 0-1 0-1 0 0-2 4 2 1 0 1 0-5 0 3 0 3 0-4 0 5 0 2 0-3-1-2 1 1-1 1 1 3-1 1 0-3 1 2 0 5 0-1 0-1-2 4 2-1 0 0-1 3 1 3 0-3 0 4 0-2 0-1 0 3 0 1-1 0 1-2 0 3-1 1 1 1 0 2 0-2-1 2 1 2-1 3 1-4 0 5 0-2-1 1 1 3 0-2 0 2-1 2-1-5 2 3 0 0-1 3 1 3 0 2-1-1 1 1 0 3 0-4-1 5 0 2 1-1 0 3 0 1 0-2 0 1 0 1 0-2 0 1 0 1 0 2-1-1 1 3 0-3-1 2 1 3 0 2 0-1 0-1 0 2 0 2 0-3 0 5 0 2 0-2 0 1 0-1 0 0-1-1 1 2-2-2 1 1 0 1 1 6-2-1 0 3-1-1-1 3 0 4 0 1-1 5-1-5 0-6 0 2 0 8-1-4 0-7 1 4-4 3 2-6-2 10 2-7-2 8 0-7-1 14 0-8-1 12-3 2 1-3 0-1-1-9-1-5-3 11 1 3 0-7-1 2 0 3-1-2-1 3-2 8-2 0 2-10 0 5-2 13-1-3-1-6 1 11-2-1 0-6-1 0-1-9-1 14-1-11 2 1-3 11 0-10 1 16-3-19 0 17-1-9 0 2-2 15 0-2-1 1-1-10 0 5-1 7-1 1 0 1-1 5 1-12-2 12 0-12-2 2 1 7 0 2-1-4 0 10-2-16 0 16 0 3-1-4 0-2-1-1 0-10-1 0-2 7 2 2-2-2-2-5 1 15 0-3-2-10-1 5 0 1-1 3 1 7-3 0 1 2-1-1-1-2 1 9-3-6 1 6-3-11 1 9-2 2 1-11 0 14-2-12 2 3-3-3 0 11 1-6-2 6 0-7 0-3-1 11-1 8-1-11 0 8-2 7-1-1 0-7 1 3-1 6-1 2 0-6-1 4-1-2 1-5-2-1 0 13 1 0-2-7-1 4 0 0-1 5 1-4-2-1-1 11 0-6-1 6 0-4 2-5-3 1 1 10-1-3 0 4-1-6 0 7-1 0 1 0-1-1-2-2-2 2 2-1-2 0 1-4-2 7 2-2-2 2-1-1 2 4-2-2 1-1-1 7-1 4 0-2 0-3-1 3 0-3-1 1-1 6 1-5-1 8 0 2 0-2-2 1-1 0 1 3 1-3 0 4-2-5 0 4-1 5-1-4 1 4-2 3 2 1-1-5 0 4 1 2-3-4-2 1 2 2 2-1-2 4 0-1-1 2 1-1 0 3 0 3-1-3-1 3 1-2 0 1 0 3-1-1 1 2 1 1-2-1-1-1 1 2 0 1-1 2 1-1 0 3-1 1 0 2 0-1-1 3 1-4 1 5-1-3 0 3-1 1 1-1-2 3 0-1 1 2-1 0 1 1 0 1 0 1-2 0 1 2-1 0 1-2-1 5 1-3 0 3 0-2-1 3-2 0 3 1-1-1-1 0-1 4 1 2 1 0-1-2 1 3 1 1-2-1 0-1-1 3 2 2 0-1-1 6-1-1 1 0 1 2-1 0-2 2 4-4-2-1-1 6 1 1 1-1-1 0-1-1 2 2-1 1 0-2-1 3 0 2 0 1 0 4 0-1 1 3 0-3 0 2-1 3 0-1-1-1 2 4 0-2-1 3 2 0-1 2-1-3 0 2 1 3-1-1 0 4-1-3 0 2 1 1 0-1 0 3 1-1-2-3 2 3-2 1 0 0 1 3 0 0-1-2 0 1 1-2-1 3 0 4 1-2-1 1 1 2 0 1-1-1-1 2 2 0-1 4-1 2 1-4 1 2-1 0 1 2-2 5 2-2 0 1-1-1 0-2 0 5 1-1-2 2 1-2 1 4-4-1 3-2 0 2-1 0 2 1-2 3 0 1 0-2 0 2 0-2-1 4-1-2 5 4-3-2 1 1-2 0 1 2 0 0 1 0-1 2 0 3-1 1 0 0 1-2 1 3-2 0 2 3-1 1 1-2 0 1 0 1-2 0 2 4 1-3-1 2 0-1 0 3 0 3-2 0 2 3-1-4-1-1 2 5 0-1-2 0 3 5-2 0 1 3-1-4 0 4 0 1 0-1 0-1 0 3 1-3-1 3 0 2-1-2 1 3 1-2-1 0 1 1-2 5 1-1 1 1 0 1-2 2 2 1 0-1-1 0 1 3-1-1 0-1-1 2 0 2 0 0 2 2-1 1 1-1-1 1 1 2 0"/>
<path fill="none" stroke="#2c4f9e" stroke-width="3.1" stroke-linejoin="round" d="M707,547l2 0 4-1-3 1 1 0 3 0 2 0-1-1-1 1 3 0 3 0-2 0 1 0-3-1 0 1 5 0-2 0 3-1-2 1-2 0 2-1 2 1 1 0 3 0 1 0 3 0-2 0 4 0-2 0-2 0 3-1 3 1-2 0 4 0-1 0-1 0 4-2-3 2 1 0 2-2 2 0-2 2 1 0 4 0-2 0 4 0-1 0 2 0-1 0 3-1-1 1 3 0-2-2 3 2-1 0 2 0 1 0-3 0 4 0-3 0 4 0-2-1 5 1 1 0-2 0 2 0 1 0 1 0-3 0 2 0 3 0 2 0 2 0-4 0 3 0-2 0 5 0-1 0 1 0-1 0 3 0 3-1 0 1 2-1 2 1-4 0 1 0 3-1-1 1 1 0 1-1-1 1 4 0 1-1-2 1 4 0-3 0 4 0-4-1 2 1 1 0 5 0-2 0 2 0-2-1 2 1-3-1 2 1-1 0 5 0 1-1 1 0-1 1 1 0 1 0 2-1 4 1-3-1 0-1 1 0-2 0-1-1 5 2-5-1 3-3 2 2 1 1-1-2 3-1 4 0-9 0 14-1 2 0-7-2 9 0-8 2 7-2 6-2-13 0 9 0-9-1-3-2 4 0-7-1-3-1 9 2 5-1 5-1-8-2 12 1-3-1-8-1-2-1 10 1 5-4-1 1-4-1-4 0 1-1 11-2 1 2 8-1-6 0-1-1 0-1-5-1 14-1-16 0 6 0-8 0 4-2 1 0 7 0 7-2-14-1 9 0 6 0-4-1 3 0-5-2 7 1-5-2 8 0-8 2 2-5 6 2-4-1-5 0 2 0 7-2 6 0-5 0 7 0-7-1 6 0 4 0-1 0-2-2 1 0 3-1-8 1 10-2 1 0 3 2-6-2 0-2 5 1 5 0-2 0 4-2 1 0-2 0-9-1 7 1 0-1 5-1-4 1 0-2-2-1-1 1 10-1-4 1-7-1 3 0 7-2 3 1-5-2 5 1-5-2 6 1 7-1-2 0-2 0 1-1-6 0 4-3-3 0 0-1 4 2-3 0 1 0 6-2-5 0 0-1-1 0 9 2-6-2 0-2 8 1 2-1 2 1-2-2-2 0-2 0 2-1 5 1-4-1 5 0-3-1-3 0 5 2 2-2 5 0-4-2 1 2 0-2-1-1 5 0 4-1-6 1 3 0 5-2-1 1 2 0-4 0 1-1-2-1-1 0 5 0-4-1 5 0-1 0 1 0 3-1-1 2-1-1 2-2 3 1-1 0 1-1 1 0-4 0 0-1 1 0 5 1-4-2 1 0 8 1-3-1 4 1-6 0 3 0-1-2 3-1-4 2 6-1-3-1 5 0-4 1 4 0 0-2 3 0 4 0-3 0 2-1 2 1-1-1 4 0-3 0-1 2 5-3-3 1 2-1 0 1 4-1 1 0 1 0-1 1-3-3 6 1-1-1 2 2-1-2 0-1 1 1-1 0 3-1 2 1 0-1 2 0-1 0 3 0-2 0 1-2 3 2-2 0 0-1 3 0 1 0-1 2 0-2 3 0 2 1 1-1-5-1 2 0 2 2 4 0-4-1 2-1 2 1-1 0 3 1-5-2 3 1-2 1 0-1 6-1-3 0 4-1 1 1-1 0 1-1 5 0 1 1-1-1 1 2 3-1 1 0 0-1-3 0 2 0-1 2 0-2 1-1 3 0-3 1 5-1-1 1 1 0 2-1 1 1-2 0 5-1-1 0 1-2-1 3 4-1-1-1 1 1 2 0-2 1-2-2 4 2-1-1 1 1 2-2-2 0 0 2 4 0-4-1 4 0 1 1 0-1-1-1 2 0 3 1-1-1 1 1 1-1-1 1 5-1 1 1-2-2 1-1-1 3 2-1 5-1-1 1 3 0-3-2 2 3 5-1 0-1-3 1 1-1 1 1 1-2 1 3-2-4 2 1 1 0 1 1 0 1-1 0 3 0 0 1 1-2-2 1 1-1 2-1 0 2 5-2-2 2 2-1-1 1 4-1 0 1-2-1 3 1 0-1-3 0 2 0 1-1-1 1 1 0 2 0 2-1 1 1 2 0 0-1 1 0 0 2 0-1 4 1 2 0-1-2 0 1 1 1-1-1 4-1-2-1 0 1 2 0-2-1 2 1 2 1-3 0 2-2 2 0 1 0-1 0 3-1 0 1 3 1-1 0 1 0 0 1 2-1-1-1 2-1 1 1 1 2-3 0 0-1 4 0 1 0-3 0 6-1-2 0 1 0 1 1 1-1 2 1-1 0"/>
<path fill="none" stroke="#2c4f9e" stroke-width="3.1" stroke-linejoin="round" d="M710,547l-2 0 5 0 0-1 1 0-1 1 1 0 2 0 1-1 4 1 0-1 0 1 2 0-2 0 3 0-2 0 4 0 0-1 0 1-4 0 1-1 0 1-1 0 5 0-1 0 1 0 3 0 2 0-3 0 1 0 2 0 3 0 2 0 1-1-1 1-2 0 4 0-3 0-1 0 1 0 2 0 6-1-1 1-2 0 4 0-3 0 1-1 4 1-1-1 0 1 4 0-3 0 1 0 3 0 3-1-1 1 3-1-2 1 1-1 0 1 3 0 3-1-2 1 0-2 3 2-2 0 2 0 4 0-3 0 3 0-2 0 5 0-1 0-2 0 1-1 2 0-2 1 5 0-3 0 1 0 1 0 1 0 3 0 0-2 2 2-1 0 2 0 1 0-2 0 2 0 3 0-3 0 3-1-2 0 4 1 1-1 0-1 0 2 0-2 0-1 5 1 0 1-1-1 3 0-2-1 2 0 2-1 5 1-5 0 7-2-7-2-2 1 8-1-7 0 12 0-1-1-15-1 10-1-5-2 5 0 6 2 2-2-8-1-3 0 20-1-6-1-12 0 9-1 14-2-9 0 12-1-9-1 7-2-4 2-4-3 3 0-3 0-4-1 10 0 0-2-14-1 9-1-3 0 9 0-12 0 6-2 7 0 5-1-7-2 14-2-1 0-6 1-7-3 14 0-9 1 9-1-12-1-3 0 1-2 3 1-1 0 5-2 2-1-7 0 14-1-2-2-5 0 1 0 3 0 19-1-10-1 2-1-1-1 7 1-1-2-14-1 3 0-7-1 16 1 0-1-9-3 11 1-4-1 1 0 0 1 6-3 4 0-15 0 16-3-5 0-6 1 5-1 9 0 1-2-12 2 18-3-1-1-20 0 8-2-3 0 12 0-4-1 3-1 3 0-13-1 4-1 5 0-2-3 6 1 1-1-5 0 0-1-3 0 14-1-8-1-1-1 4-2-9 0 10 0 6-1 4-1-17-1 8 1-4 0 4 0 2-1 4-3 6 2-9-3 2 0 5-1-8 2 9-2-3-2 2 1 11-2-4 0 3 0 3-1 2 0 1-1 1 1-4-2 6-1 3-1-7 1 3 0-7-2 10 2-10-2 2 2 7-2-6-3 10 3-8-3 8 1-3 0 6-1-8 0 9-1-5-1-1 0 7 0-4-2-1 0 4 1 2-1-3 0-2-2-1 1 7 0 2-1-6 0 6 1-5 0 5-2-2 0-2 0 5 0-5 0 3-1 1 0 2 0 3-1-2-1 6 1-4-1 0-1 5 1 2 0-3-1 6-1-3-1 4 1-3-1-3 0 4-1 1 3 3-2-2 0 1 0 0 2-1-2 2 0 1-1 1 1 2-2-3 2 1-1 0-1 4 1 2-1-2 0 2-2 2 1-1 1-2-1 2-1-1 0 4 0-3 0 3 0 3 0 0-1-1 1 4 1 0-1 1 0-2-1 2 1 2 1-1-1 1-1 2 0-3 0 1-1 0 1 3-2 2 0 1 0-2 1 2 0-1-1 0 1 3-1 1 0-2 1 5 1-4-2 0-1 1 1 3-1 3 1-2 0 3-1 0 1 1-1 1-1 0 1 2 0 1-1 0 1-2 0 2-1 2 0-1 1 4-1 1 1-1 0 2-2 1 3-1-1 2-1-1 1 4-1-3 0 4 1-1-1 1 0 2 1 1 0-3-1 3 0 2 1-4 0 3 0 1 1 3-2-2 0 2-1-3 2 2-2 4 1-3 0 0-1 5 1-1-1 2 1 0-1 1-1-2 1 1 1 2-1 2 1 0-1-1 1 3-2-4 2 4 0 2-2 2 2 1 0-1-1 2 0 0-1-1 1 3 0 2 0-1 0-1-1 1 1 2-1-2 1 3 0 1-1 3 2-4-2 5 1-5 1 5-2-1-1 2 1 2 0 1 2 2-3-2 1 1 1 1-1 1 0-2 1 3-1-4 1 1-2 2 2 0-1 0 1 1-1 2 1-1 0-1 0 1-1 1 0 2 0 3 0-1-1-1 2 4-1-1 1 3 0-1 1 2-2 2 0 2 1-2-2 1 0 3 2-2 0 4-1-1 0 3 0-1 0 1 0 3-1-1 2-2-1 3 0 1 0 0 2 0-2 1-2 1 1 1 1 1-1 1 2-3 0 3-1 0 2 2-2 1 0-1 0-1 0 4-1-2 0 4 1 2 0-4 1 2-1-1 0 2 1 1-1-1-1 1 0 5 1-1 1 0-1-2 0 4-1 0 1 0-1 1 0 0 2-2-2"/>
<path fill="none" stroke="#2c4f9e" stroke-width="3.1" stroke-linejoin="round" d="M709,547l2 0-1-1 1 1 2-1-1 1-1 0 6 0-2 0-1 0 5 0-3-1 3 0-3 0 0 1 5 0-1 0-4 0 1 0 1 0 7 0 0-1-2 1 4 0-2 0 2 0-2 0 3 0 2 0 0-1 3 1-4 0 6 0-1 0 2 0-2 0 3-1 2 0 0 1-2 0 4 0 1 0-2 0 3-1-2-1 3 1-2 0 1 1 3 0-4 0 2 0 4-2-2 1-3 0 2 1 2 0-1 0 2 0 1 0 4 0 1 0 2 0-2-1 3 1-2 0 4-1 1 1-1 0-2 0 1-1-1 1 3 0-3 0 5 0 1 0-5 0 5-1-3 1 5 0-4 0 1 0 2-1 0 1 5-1-2 1 1 0 4 0 4 0-1 0-1 0-1 0 4 0-1 0 2-2-1 2 4 0 2 0-5-1 3 1-1-1-1 1 5 0-1 0 3-1-3 1-1 0 2 0 3-1-2 1 4 0 4 0-1 0-2 0 2 0 1 0-2 0 1 0 3 0-3 0 4 0 3 0-3 0 2-1 0 1-1 0 5 0-3 0 3-1 2 1-3 0 4-2 0 1 2-1-4 1 2-2 6 0-6 0 0-1 0 1 4 1-1-2-1-1 8 0 2 0-5 0 1-1 11 0-1 0-13-2 1 0-2-1 8 1-3-1 5 0 4 1-1-2 2-1-7-1 8 1 2-2-11 1 16-1 1-2-11 0 11 0-9-1 2 0 2 0-5-1 6 0 1-1 3-1 7-2 2 1-8 0 2-3 2 1-1 0-11-1 4-1 4 0 2-2 1 1-4 0 0-2 2 0-2-1 3 0 1-1 13 0-10-1 5 1 0-3 7-1-8 2 1-2 4 1-1-1-8-2 7 0-8 1 12-3 4 1-11 3 11-3-2-2-1 1 0-2 6 1-4-1-1-1 8 1-7 0 0-1-2-1 4-1 1 1-6-1 4 3 4-2 1-1 4-2-5 2 4-1 2 1-1-2 9-2 0 2-8-1 6 0 0-1-9 1 11-2 1 0-8 1 9-3-6 0 5 0 4-1-2 1 7 0-4-2 4 1 3-1 2 1-1 0-1-1 0-3-1 2-1-2-5 0 1 1 1-1-2 0 6-1 2 0-3-1 1-1 3 1-5-1 1-1 0 3 4-3 5 1-4-1-3 0 6-1-5-1 11 1-5 0 2-2-3 0 2 0 4-1-1 2 2-2-3 0 3 0 3-1-2 1-1 1 0-1 6-3-3 0 1 0 5 1 1-1-2 1-2-1-2-1 6 0-1 1 1-2-1-1 0 1 0-2 2 2-3-1 4 0 2-1-5 0 0 1 6 0 3-2 1-1-2 1 3 1 0-1-3 0-1 0 0-2 0 1 3 0 1 0 3 0 1-2-4 0 5 0-4 1 5-1-3 0 4-1-3 0 1-1 0 1 6-1-3 2 0-2-1 1 6 0 0-1 2-1-2-1 5 1-4 0 4 1-2-2 3-1-5 1 4 0-2-1 5 1-4-1 2 0 4 0-4 0 2-1 0 1 6-1-3 0 1 0 2-1 3 2 0-1-2 0 1-1-1 1 0-2 0 1 0-1 3 1-1 0 5-1-4 0 4-1-4 1 5 0 0 2-1-3 3 0-1 0 3 0 1 1-1-1 2 1 0-1 2 0-2-1 4 1-3-3 3 3 1 0 2-2 2 0-2 0 4 0-4 2 2 0 2-3-1 1-1 1 4-1-1 1 3 0-2-1 1-1 0 3 0-3 4 0 0 1 0-1 5 0-1 0-2 2 3-2 0 1 3 0 1 0 0-1-3 0 1 0 4-1-2-1 0 1 0 1 1 0 2-1-3 1 3 0-1-1 0-1 4 1-3 1 4 0-1-2-2 2 1 1 1-1 1-1 1-1-1 2 3-1 1-1 5 0 0 1-1-1 4-1-3 1 4 0-4-1 4 1-2 0 2 0 2 0 1 2-4-1 2-1 1-1 0-1 0 1 5 0 1 1-1 1 1-2 0 3-2-4 0 2 5-1 1 0-1-1-1 1 1 0-2 0 7 2-4-1 4 0-1-1 2 0-2 1 3-2 0 1 1 0-2 0 1-1 3 0-3 1-1 0 5 0-1-2 1 3 4-1-3-1 1 0 1 0-3 1 4-1 1 0 1 2 2-3-1 0 2 1-1 0 3 1-2-1 1 0 3 1-2 0 3 0-2-1 3 1 0-1-3 1 6 0-3-2 4 1-2 1 2 0 2-1-3 1 0-1 5 0-3-1 2 2 0-1 1 0 2 0"/>
<path fill="none" stroke="#2c4f9e" stroke-width="3.1" stroke-linejoin="round" d="M708,547l3 0-2 0 2 0-2 0 4 0 1 0-1 0-1 0 3 0 1-1-2 1 2 0 3 0 2 0-3 0 2 0 2-2 2 1 1 0-1 1 1 0-2 0 4 0 1 0 1 0-4 0 2-1 2 1 1 0 2-1 2 1 1 0-3 0 4 0 2 0-1 0 3 0-2 0 5 0-4 0 2 0 1 0-1 0 1 0 3 0-4-1 2 1 0-1 1 1 3 0-3-1 4 1 1 0 1 0 2-2 3 2-2 0 1-1 1 1-3 0 3 0-2-1 3 1 1 0 3-1 1 0-3 1 4 0-1 0 1 0 1 0 1 0-3 0 4-1-2 1 1 0-2 0 4 0 0-1-1 1 3 0 2 0-5 0 2 0 3-1 1 0-3 1 1-2 4 2-1-1 0 1 4-1 1 1 1 0-3 0 1 0 4 0-1 0 1 0 3-1-3 1 3 0-3 0 1 0 2 0 3 0 1 0-3 0 2-1-1 1 2 0 2-1-3 0 1 1 1-1 2 0 1 0 3 0 4 0 0 1-1-1-2-1-1-1 4 0 3 1-2 0 1-2-4 1 7-2-3 2-2-2 12-1-7 0-10-2 1 3 12-3 3 0-14 0 5-1-2 0 1 0 10 0-8-1 13-2-9-1 3 1-3-1 3 1-3-3 7 2 5-1-4-2-5 1 6-1 1 0 5-1-9 0 2-1 9 0 1 0-2 0 0-1 1-1 1 2 4-3-1 2 1-2 5 0-7 0 3-1 2 1-2-1-1-1 2 1 3-1-2-2 2 1-4 0 7-1-5 0 7 0 1-1 1-1-1 1-1 0 2 0-3-1 6-1-6-1 3 2 1-1 4 0 1-1-4-1 7 1-9-1 4 0 4 0-5-1 4 0-3-1 3 0-6 0 7 1 4-2-2 0 5-1-2 0 1 1-3-1 5 1-5-1 5 0-4-1 3 1-4-2 1 2 5-1-2-1 3-3 2 4-2-2 5-1-1 1-1 1-1-1 2-1 3 0 1 0 3 1-6 1 1-4 5 3 1-2-4 0 1 0 4 0 1 0 2-1-1 1-2-1 0-2 1 2 0-2 2 1-1-1 4 0-4-1 2 1 1 1-2-1 2-2 4 2-4-2 4 2-1-1 2-2 3 1 0 1 1 1 2-2-2 0 2-1-2 2 4-1-1-1 2 0-4 2 1-3 2 1 3 0 1 1 2 0-2-3 0 2-2-2 1 1 3-1-2 1 2-2 4 3 0-2-2-1 4 2 3 0-1-2 2 0 0 1-3-2 2 1-2-1 3 1 3 0-3-1 2 1 2-2-1 1 2 1-1 0 3-2-1 1 3-1-4 0 1-1 3 1 2 0 3 0-2 0 1-2 2 2 2 0-3-1 2-1-4 0 5 2-4-2 3 0-1 0 5 0 1-1-2 3 2-3-2 0 2 1-1-1 3 0-2 0 3 0 2 0-3 0 5-2-3 2 1-1 4 1-4 0 1-1 2 0-2-1 3-1 4 3-1 0-1-2 2 0 1 0 1-1 4 1-1-1 2-1-2 1 1 0-4-1 3 2-1-2 1 1 2 1 3-1-1-1 3 1-3-1 3-1 3 0-2 3 2-2 2-1-2 0-1 0 0 2 2-1 1-2 3 0-1 1-2-1 4 2 1-3 3 2-2-2 2 0-1 2 0-1-1 0 6-1-4 0 2 1 2-1 1 0 0-1 0 2-1 0 0-1 3 1 1-1-3 0 4-1-4 0 7 1 2 0-3-2 3 1-2 1 1 0 4-1 1 0-2 0 3-1-3 2 0-2 6-1-2 1 0 1-1-1 4 2 0-2 0-1-1 2 3 0 2-1-2 1 0-2 4 2-1-2-1 3-1-2 3 0-1-1 1 0 3 1-4-1 4 1-3-1 6 1 0-1 1-1-1 1 2 1 1-1-1-1-1-1 0 2 3 1 0-1 2 0 2-2-3 1 0-1 4 0-1 1 3 0 0-1 1 1-1 0 3-1-1 1 2-1 1 2 0-2 2-1-3 2 0-1 0-2 5 1 0 3 0-3 1 1-1-1 0 1 4 0 1 0 0-1 0-1-2 0 0 1 1 1 4 0 3-1-3 0 4 1 1-1-1 1 1-1 2 0-1-1 0 1 4 0 1-1-5 1 3 1 2-2 1 3-3-2 4-1 3-1-2 3 0-2 0 2 3-3-2 2-1 0 4 0-4-1 0 1 4-2-1 1 1 1 0-2-1 2 1 0 3-2 3 1-4 0 6 0 2 1-4-2 1 1 0 1 2-1 2-1-1 0 3 1"/>
<path fill="none" stroke="#2c4f9e" stroke-width="3.1" stroke-linejoin="round" d="M709,547l-2 0 5 0-1 0 6-1-4 0 6 1-2 0 0-1-1 1 4-1 2 1-1 0 1 0 2 0-2-1 0 1 1 0 2 0 1 0-1 0 2 0 1 0 4 0-2 0 1-1 2 1 1 0 0-1 0 1 4 0 1 0 2 0 2 0-2-1 3 1-1 0 2 0 2 0-3 0 4 0 2 0 1 0-3 0 4 0 1 0 3 0 1 0-2 0 1 0 1 0 5 0-2 0 1 0-1 0 3 0-1 0 3 0 2 0-2 0 5 0 1-1-1 0 2 1 2 0-3 0 3 0-2 0 5 0 0-1-3 1 2 0 3 0-1-1 3 1-2-2 0 1 3 0-2 0 5 1 1-1 1 1 0-2-1 2-1-1 4 1 2-1 1-1 4 1-4 0 10 0-9-1 2 0 1-1 6-1-5-1 1-1-1 1 10 0-6-3 3-1 4 1-2-1 2 0 9-3-14 0 15 1 0-2-9 0 4-1-7-1 0-2 2 0 2-1-6-1 6 0 0-1 6-1 1-2-2 0-8 0 14-2-5-1 2-1-8 0 4-1 14-1-3-1 0-1 6-1-15 0 8-2-5-1 9 0-3-3 1 1 8-2-5 0-8-1 2-1 9-1 6 1-8-3 14 0-12 0 6-1 3-2-1 0 6 0 6-1-11 1 3-3 3 0 4-1-12 0 10-1 11-2-7 0 11-2-11 0 12 1-2-3-12 1 14-2-1-1 0 1 3-1-6 0 4-2 4 1-6-4 7 0-2-1 4 0 2-1-4 1-2-2-5-1 17-2-12 1 5-1 1-1-5-1-5 1 19-1 1-1-11-1 6-1 4 0 3-1-5-1 2-1 5 0-1-1-5 0 6 0-3-2 0 1 3-2-5 1 3-2-3 1 5 1-1-2 4-1-2 0 3-1 4 1-3-1 3 1 0-3-1 0 4 0 0 2-4-2 6 0 7-1-2 1 0-3-2 1 5 0-1 0-3-2 6 0 4 0-1-1-3 1 4 1-1-4 2 2-4-2 6 2-1-2 0-1-1 0 3 2 3-1 1 0-1-1-2-1 4 0 2 0-1-1-1 0 0 1 3 0 3-2-4-1 2 1 3 0 1 1-1-2 2 2 0-2 3 0 2 0 1 0-3-2-2 0 3 1 1-1-1 1 5-1-2 1 3 0 4-1-1-1-1 1 4 0-3-1 4-1 0 2 4-4 1 3-3 0 0-1 0 1 5-1 0 1 3-3-2 3 1-2 2 0-1-1 3 0 3 2 2-2-4 0 5 0-4 1 3-1 3 2-2-3 1 2-1-2 2 0 3-1 1 2-1-1 0 2 4-1-3-1 2-2 3 3 4-2-2 1 1 0 1-1-1 1-1 0 5 0-3 0 3-1 4 0 0 1 2 0-4 0 3 0 0-1 1-1 3 0 0 2 1 0 0-1 1 0 3-1 0 1-2 1 3-2 2 0-1 1 1 0-1 1 4-1-2 1 4-1-2 0 3-1-3 0 3 1 3 0-1-1 0-1 1 2 4-1 1 0-4 1 2-2 2 2 2-1-1 1 1-1 4 0-4-1 4 3 2-3-2 2 3 1-1-2-2 0 4-1-2 1 5 0 1 1-2 0 2 0 2 0-1-1-1-2 0 2 2-1-1 1 5-1-2 2 4-2-3 1 2 1 5 0-4-2 4 1-1 1-1 0 2-1 2 1-2-1 5-2 1 1 0 1 1-1 4 1 1 0-1-1-2 2 0-1 3-3-1 3 4-1 2 0 1 1-4 0 5-2-2 1 4 1 2 0-2-2 2 1 2-1-4 1 2 1 1 0 2-1 0 1 4-1-1 0 2-1-4 3 7-2 3 2-2-2 3 1 1-2 0 1 2-1 2 2-1-2 3 0-1 1-1 0 1 1 4-1-2 2 1-3-2 1 2 2 1-1-1-1 4-1 0 1 0-1 0 1 3 1 0-1 2-2 1 1-1 2 1 0 0-2 0-1 6 3-2-2-1-1 0 1 4 0 1 1 1 0 2 1-3-2 5-1 2 3 0-3 3 1-1 0-4 1 4-1 1 0 0-1 2 1-4 0 4 0 0-1 5 0-2 0 0 2 1 0 6 0-3-3 5 2-1-1-3 1 4 0-1 0 4 0-1-1 0 1 0 1-1-1 4-1-1 0 2 2 0-2 3 0-3 1 2 0 3 0-1 0 2 0 3 0 0-4-2 5 3-1-2 0-1 0 1 1 4 0 0-1 1 1 2-2 0 1 1-1 3 1-1-1 6 0-4 1 2-1-2 1 2-1 3 1 2 0-1-2 1 4-1-4 3 2 3-1 2 2-3-2 3 0"/>
<path fill="none" stroke="#2c4f9e" stroke-width="3.1" stroke-linejoin="round" d="M708,547l3-1-2 1-1 0 6 0-1 0-1-1 2 1 1 0 1 0 4 0 1-1-1 1-1 0-1 0 4-1-2 1 4-1-3 1 2 0 1 0 4 0 2 0 2 0-3 0 3 0-4 0 2 0 3 0 3 0-3 0 2 0 2 0 0-1 4 1-2 0 1 0 0-1 0 1 3 0 1-1-1 1 3 0 1 0 2 0 3 0-1 0 1 0 2 0 0-1 3 1-3-1 1 1 2 0-2 0 5-1-2 1 4 0 0-1 0 1-1 0 3 0-1-1 3 0 0 1-2 0 3 0-3 0 3 0 2 0 1 0-1 0 3-1-3 1 4 0-1 0 2-1 3 1-1 0-1 0-1-1 6 1-2-1 2 1-1-1 2 0 1 0 0 1 3 0-1 0 2 0 2 0 2 0-2-1 1 1 2 0-3 0 2 0 3-1-1 1 3-1 2-1-2 2 2-1-2-1 4 1 2-2-1 0-1-1 1 1-5-2 7 0 3 0 0-1 7-1 6-1-16 1 9 0 0-2-4 0-3-1 7 0-6-1 2-1 6 0-6-1 3-1-2-1 17 0 1-2-8 0-2-1 8-2-6 2-2-1 9-2-1-1 6-1-14 1-1-1 11-1 0-2-9 1 2-1 9-2 10 1-3-1-12-3 9 1-6-3 16 2-6-1-8 2 10-4 5 1 3 0 6-2-5-1-9 1 3-3-2 0 5-1-3 0 11 1-8-1-5-2 9 1-5-2 7 0 3-1-6 1-6-1 11-1-1 0-6-1 13 0 0-1-7 0-2-3 4 3 8-2 2 0-7-2 2 0 5-2-2 0 3-1-6 0 2 0 10-1 5 0-6 0 3-2-1 1-6-1 3 0 9 1-2-3-9 0-2-1 7 0 6 0-4-1-1 1 6-2-6-2 1 0 2 1 1 0-1-3 0 1 9-1-2 2-5-1 13-3-5 1 9 0-1-1-4-1 0 1-2-2-3 2 8-1-3-1 1 1 2-1 9 0-9-2 8 0-8-1 2 0 6 1 1-1-6-1 6 1-1-1-1 0 0-1 2 0 5 1-3-1 3 0 0-2-3 1 3 0 4-2 0 1 0 2 1-2 2 0-3-1 5 0 1-2-1 1-2 0 3 1 3-3 0 1-3 0 3 1 1-3 2 0-1 0 3 1-3-1 3 1-1-1 4 1-1-2 0 3 2-2-1 0 4-3-1 1 2 1 1 1 0-2-1 1 3 0 0-1 2-1 2 1-1 0-2-1 0-1 4 0-2 0-1-1 6 2-1 0-2-2 3 1 2 0-2-1 3 2-2-2 3 1-1 0 3-2-1 2 2-1-1 0 5 0-1 0 1 1-1-1 4 0 1 0-2 0 1 0 4-1 2-1-4 1 5 0 1 0-1-2-3 2 6 1-4-2 3-1 1 2 3-2-4 3 1-2 4 0 1-1-3 2 2-2 3 0 0 1 1-1 4 1-3-2 0 2 5-1-1 3-1-3-1-1 2 2 0-1 2-1 1-1 1 2 2 0 1-1-3 0 2-1 5 2-2-2 1 2 2-1-1 1 3-1-3-1 3 1 3 0-2 0 3-1 0 1 3 0 1 0-1-1 2 1-2 0 3-1-3 0 4-1-2 0 3 1-1-1 1 1-1 0 2-1 4 1-2-2-1 5 5-3-1 0-1 0 5 0-2-1 2 0 1 0 2 1-2 0 2-1-1-1 1 2 2-2 0 3 2-2 1 2 2-1 3-3-3 3 3 0 0-2 3 0-2 2 1-1-3-1 4 0 1 0-1 0 3 2-3-2 4-2 0 3 3 0-1 0 1-2-2 2 0 1 6-2-4-1 2 1 0 1-1 0 2-2 5 2-2-1 2 0-2 0 3 1-2-1 5 1-1-2 1 0 2 1-1 1 6 0-1-2 2 1 0-1-2 2 0-2 6 1-2-1 4-1-3 2-1-1 3-1 1 1 1 1-2 0 1 0 0-1 3 1 0-2 2 0-3 4 5-4 1 1 1 2 0-2 0-1-1 1 6 0-2 1-2-2 4 2 1 0-3 0 1-1 4 0-1-1 2 1-1 1 3-3 0 2 3 1 1 0 1-1 1-1 0 2 2-1-5-1 3 1 2-2 0 1 0-1 3 2 0-1 2 1-1 0-1-1 1 2 4-1 0-1-1 1 4 1-2-2 2 1 3-1 3 1-2 0 3-2 0 2-5-1 3 0 3 0 2 0-3 0 3 1 1-1 1 0-3 0 2-1 3 1 2-1-1 2 2-1 2-1-1 2-1-1 1 2 4-3-3 1 2 1"/>
<path fill="none" stroke="#2c4f9e" stroke-width="3.1" stroke-linejoin="round" d="M708,547l2 0 3 0 1 0 2 0-3 0 5 0 1 0-3 0 4 0-1-1-2 1 5 0-2 0 1 0 2 0 1 0 1-1 2 1-3-1 5 1 1 0 2 0-3 0 5-1 1 1-2-1-2 1 1 0 2 0 5 0-1 0 3 0-3 0 3 0-3-1 2 1-2 0 4-1-2 0 4 1-3 0 4-2 1 2 2 0 3 0-2 0 3 0 2 0 0-1 2 0-1 0 0 1 2 0-2 0 3 0-2 0 3 0 3 0-2 0 3 0 3 0-2 0 3 0-3 0 3 0 3 0-3 0 3-1-3 0 5 1 2 0-3 0 4-1-1 1 1 0 2 0 1 0-2-1 3 1 2 0 2 0-2 0 4 0 2 0-1 0-2 0 3 0 2 0 2 0 1-1-1 0 2 1-3-1 2 1 0-1 4 1 1 0-3 0 4-2 1 2 2-1 1 1-2-1 2-1 1 0-3 0 2 0-2 0 9-3 0 3 1 0-2-2 2 0-2 0 5-1 5-1-9-1 8 0 1-1-1 0 3 0 7-1-5-2-5 0 7 1-2-2-6 0 12-1-4-1-1 0-7 0 12-1-7-1 0-1 7 0 0-1 12 0-15-2-6 0 5-1-1-1-2 1 13-3-13 1 6-1 10 0-4-2 5-1-1-1-6 0 1 1 6-1 4-2 3 0-2 0-6-1 4 0 3-1-2-2 6 1 1-2 3 0-7 1 8-2-5 1 7-1 3 1-5-2 6 1-1-1-1 1-2-2 6-1-2 0 6-2-2 2-1 1-3-1 3-2 5 0-3 0-3 0 2 0 4 1 2-2 2 0 0-2-1 2-3-2 6 1-1 0 0-1 5 0-2-2-4-1 3 0 3 0 5-1 2 1-3-1 2 0-2 1 4-2-2 1 2 0-2-2 0 1 1-1 1-1 4 2-1-3 3 1-1-1 1 1 5-1 2 0-1-1-3 0 5-1-4 1 0-3 6 0-3 1 3 3-1-2 0-2 5 1-6-1 2-2 4 2-2-1 2 0 3 0-3-1 5 0 1 0-4-2 5 1 1-1 0 2-2-3-1 1 2 0 4 0-3 0 4-1-1-1-1 0 7 2-1-1 2-1-3-1 3 0 2 0-2 0 4-1 3 0 2-1-1 1-1 0-3 1 4-2 2 0 3 0-1 0 3 1-1-1 2 0-1 0-2-1 2 0 3 0 1-1-2 0 3-1-3 0 6 1-2-1 1 0-1 2 1-2 2-2 0 1-1-1 3 1 0 1-1-2 4 1-1 1 5-1-2 0 1-1 0-1 2 3-2-3 2 0 1 1 4-1-1 2 1-1 3-1-4 1 5-1-2-2 1 2 2 0 2 0 1 0 1 0-2 0 5-1-4 0 2 1 5-1-3 1 1-1 4 2 1-2-3-1-1 0 1-1 2 0 4 0 1 0 3 1-4-1 1 2 4-2 2 2 0 1-1-3 1 1-1-1-3 0 1 0 3 0 2-1 1 2-2 1 1-3-1 2 2-1 1-1 4 1-3 0 2 0 6-1-3 1 5 0 1-2-2 0 1 0-1 2 0-2 3 1 1 0 2 0 1-1 1 0-2 1 1 0 2-1 1 0 2 1 0-2 0 1 1 0 1 0 1-1 1 2 5 0-1-2-2 2 1-1 1 0 2 1-1-1 3 1-2-1-1 0 4 1 0-1 1-1 2 1-1 1 0-2 2 1 2-1 1 1 2-1-1-1 1 2 1-2 1 1 1 0-3 0 5 0-2 1-1 0 4-1 2 1 1-1-3 1 2-2 1 0-1 0 2 2 0-1 4 0 1 1-1-1 3 0 3 2-2-4 5 2-3 0 4-1-4 1 6 0-2 1 1-2 1 1 1-1-1 1-1 0 5-1-1 0 2-1 2 1 0 1-2-3 1 1 2 1-3 2 5-1 0-1-2-1 4 2-1 1 0-2 3 1 2-1-1 0 3 1 0-2 0 1 2 1 2 0 2 0 2-2-1 1 4 0-3-1 0 1 1 0 5-1-1 2-1 0 2-2 3 2-4-1 5-1 2-1-2 2-1 0 3-1 1 0-4 1 0-2 1 1 0-1 2 1-1-1 1 0 3 2 3-2 0 1 2 3-1-3 1 1 4-1 1 0 1 1 3-1-4 1 4-1 3 0 1 1 0-1 0-1-3 1 1 0 5-2-3 2 2 0 2 0-3-1 4 1 0-1 0 2 4-1 1 0-2 0 3 0-1 0 3 1 1-1-1 1 1-2 2 2 1-1-2 0 4 1-3-1 7 1-2 0 3-2 0 1-1 0-2 0 4 1-1-1 4 1"/>
<polygon fill="#e42620" points="720,547.0 734,536 748,522 768,504 780,488 794,466 802,448 824,436 836,422 854,402 870,382 884,368 898,344 906,324 920,320 936,340 952,370 956,396 940,410 904,448 870,478 836,508 780,547.0"/>
<path fill="none" stroke="#e42620" stroke-width="2.6" stroke-linejoin="round" d="M710,547l-3 0 4 0-4 0 1 0 1 0 4-2-1 2 6-1-6 1-2 0 9-2-7 0 7 1 2 0 6 0-4 0-5-2 8-1 4-1-4 0-6 1 12 0-18-1 1 0 10-1-6 1 9-1-11 1 20-2-17 1 10-2-14-1 15 0-6 1-8-2 13 2-13-3 8 1 3-1 4 0 20 1 0-2-8 1-6-1 10-1-9 0 8 0-27 0 21-1-23-1 16-1-20 0 9 0 27 0-7-4-5 1 15-1 1-1-26-1 19 0-3-1-9-2 6 1 11 0 6-3-23-1 8 0 0 1 4-2-8 1 8-2-14 0 19 0-16 0 15-1-7-2 16 0 7 1-9-1 0-1-2-1 15-1-7 0-13-1 6 0 15-1-4 0 6-1-5 0 4 0-14 1-2-2 10-1 10-1 2 2-6-3-8 0 9 0-25 0 9-1 18 1-19-1 8-1 17 0-4-2-8-1-6 0 1-1 9 0-2-2-9 0 7-1 0 1-16-3 26 1-12-3 14 0-24-1 19 0-8-1 3-2 12-1-21-2 1 1 16-1-11 0 17-1 3-2-24 1 4-1 10-1-2 0 21-2-7-1 4 2 1-4 8 0 5-2-23 0-6 0-7-2 10-1-12 0 27-2-1 0-9 0 3-2 13 0-15-2 12-3 7 1-23-4 24-3-1-5-32-1 5-2 10-2 4-2-5 0 9-1 9-2 1 0-15-1 7 1-9 0 5-1-4 1 4-1 12-1-7 0 6 1 0-1-3-1 8 1 1-2 0-1-5 1 0 1 1 2-2-3 6 1-6-2 7 0-7 0 9 0-7 0 5-1 2 3 0-4-3 1 3 0-4-1 6 2 1-1 2 0 5-1-13 0-4 0 5-1 4 0-15 0 19-1 0 2-20-2 1 1 33-3-8 1-5-2 17 0-20-2 7 1 13-2-28 1 18 0 13-2-14-2-8 0 5 0 4-1 2-1 1-2-2 1-9 0 5-2-3 2 15-3 4 1 6-2-12 1-1-2-8 2 14-2 1 1 3-1-12-1 15 0-2 0 1 0 2 1 0-2-9-1 13 1-10 0 8-2 3 0-9 0 12-1-5 1 4-1-6 0-8-2 7 2 2-2 5 1-8-1-3 1 7-1 16 1-9-3-9 2-4-3 17 0-10-1 7 2 9-2-21 0 2-1-2-1 5-1 17-2 1-1-1 0 13-2-28-3 22-2-3-2 3-5 4-2 0-1 1-1-1-3 8-1-16 0 11-1-4 0-10-1-6-1 0 1 8-2-8 0 13-1-1 0-17 0 20 1-12-1-8-1 17-1-13-1 6-1 4 3-2-4 9 2-7 0-3-2-2-1 14 1-10-1 8 0 7-1-9 1-8-2 2 0 7 0-2 0 0-2 18-1-10 1 18-2-21 0 24-2-12 0 11 0-25-3 0 2 14-2-5-1 14-2-11-2-3 2 8-2 3-2-19 2 12-4-10-1 6 1 15-2-9-1 3-2 12-3 5 0-26-1 5-2 18-2-17-1-6-2 4-3 20-2 4-1-7-2 1-3 0-3 8 0-9-2 2-2-9-1-5-2 8 0-13-1 22-2 2 0 3-2-13-1-2-2 23-1 4-1-5-2-3-1-21-3 14-3 11-2-11-4 10-7-25-4 8-5-4-4 24-4-16 1-5-2 23-1-24 2 9-2 1-1 2 0 5-1-9 0 15 0-8 0 7-2-4 1-3-1 10 1-7 0 0-2-5 2 11-2-8 0 2 0-2 0 15-2-10 1 15 0-13-1-1-1 12 0 17 0-17-1-17-3 2-1 3-2 5 0-3-2 19-2-20-3 16-1-30-2 15-1-22-2 4-3 18 0 11-2-11-2-2-1 7 0 11-1-1-1-4 1-1-2 14-2-21-1 28 1-5-1-4-1-1-2-6 1 18-3-12 2-7-1-5-1 31 0-31-1 4-1 23 1-25-3 32 1-15-1 13-1-18-1-2 0 17-3-11 2 10-1-25 0 26-2-19 1 19-3-5-1-26 0 30-1 3-2-10-1 3 0-7-1-5 0-7-4 1 0 21 0 9-1-10 0 20-2-12-1-5-3-11 2-14-2 15 0 4-3-19 0-2 1 14-3 13-2-14-1 21 0 2-1-9-1 19-1 7 1-27-3 4-1 16 1-15-1 19-1-14-1 2 0 22-1-17 0-3-1-12-3 11 1 16 0 7 0-14-1-10-1 7 1 22-3-14 1 15-1-17-2-1 0-12 1 5-1 25-1-22 1 0-2 7-2 1 1-12 0 20 0-9-1-9-1 21-1-13-2 7 1-19 0 18-1 0-1-12 0-2 1 3-3 20 0-13 1 16-1-6 0-9-1 4-1-5 0 10-1-16 1 24-1-16-1 13 0-1 1-12-2 5 0 4-1-6 1 3-2-1 0 10-2 3 1-7 0 1-1 6 0 0-1 2 2-13-2 20 0-5 0 0-3-13 1 20 1-2-1-11-3 17 1-9-1 1 0-6 2 7-2-5-1 12 0-23 0 14-1-12-2 3 2 9-1 9 1 1-1 0-2-2 0 8 2 5-2-17 0 3-1 1 0 4 0 0-2 5 0-11-1 12-1-11 2 2-2 7 1 7-2 3 1-17-2 9 2 0-1-10-1 4-1-1-1 10-1 6 1-1 0-6 0-8-2 18 3-4-1 7-2 1-1-15-1 1 2-2-3 5 2 6-1-19-1 22 0-9 1 0-2 1 1 11-1-9-1 9-1-15 1 10 1 1-4 0 2 1-1 6 2 0-2-8-1 4 1 2-2-3 2 4-2-8 0 1 0 7 0 1 0 9 2-2-2-3-1-2-1 7 2 1 0-4-1-1 0 0 1-2-2-1-2 3 1 6 0-1-1 5 0-1 0-4 0 9 1-1 1 0-1-1-1 3 0 1 0-3-1 4 1-4 0 0-2 2 3 2-2 2 0-7 0 6-1-1 0 2-1-2 1-2-1 3 2 2-2-2-1 1 1-2 0 4 0 2 1 2-1-1-1-1-1-1 2 4-1-3 0 7 1-4 0 2-3 1 0 3 1 1 1 0-1 3-1-6 2 3-1 4 0-6-1 2 1-2 0 1 1 9-1-8 0 8-1 1 0-2 2-3-3 3 1 6 0 0-1-6 2 2-1 6 0-1-2 4 2-1 0-3-3-2 2-1 0 4-1-1 2-2-1 5 0-5 1 7-2 2 0 1 1 3-1-4 1 1-2 4 1-7-1 2 0 3 0 1 0-1 0-4 2 7-2-7 1 1-1 3 1 3 0 3-1-6 0 1 1-4-2 2 0 2 2 9-3-2 2 3 0-8-1 3 0-2 0 7-1-1 0-4 3 0-2 5 0-4 1 3-1 3-1 0 3 3-2-4 1-1-1 1-1 6 1-3 0 1 0 1-1 2 0-2 2 0-2 1 2 1-1 3 1 1-1-2 0-2 0 8-1 0-1-3 3 1-3 3 1 5 2-5-2 4 0-7 1 9 0-5-1 0-1-3 0-1 0 8 2-4-2 3 0 1 1 3-1-2-1-2 2 8-1-5 0 1 1 3-1-3 1 4 0-1-1 0-1 0 2-2 0 2-1 2 0 5 1-2 0 2 1-1-3 2 0-1 0 5 2-8-2 3 1 0-1-1 2 6-2 2 0 3 1-5-1-1-1 6 1-6 0 9 1-4 1-1-2 1 1 8-1-5-1-2 2-1-1 5 0-5 1 5-1 1 1-6 0 6 0-1-2 3 1 1 0-1 2 5-2 2 1-5-1-2 1 3-1-1 1 1 1 0-3 4 2-4 0 2-2-4 1 10 1-5-1 7 0-1 0 3 1 3-2 1 1 1 1-3-2-4 1 5-1-4 1-1 1 0 1 7-2-6 0 3 0 5-1-5 2 3 0-2-1 1-1-2 1-3 0-1 0 4 2"/>
<path fill="none" stroke="#e42620" stroke-width="2.6" stroke-linejoin="round" d="M707,547l4 0 2 0 1 0-1-1 3 0-2 1 1 0-1 0 4 0 2 0-1 0 2 0-1-1-4 1 2 0 6 0-3 0 1 0 4-2-3 1 8 1-7-1 5-2-5 2 2-2 0 1 5-3-2 1 2-1-6-1 2-1 3 0 1-1 5-1 2-1 5-1 2-1-1 1 10-1-20-3 8 1-3-2 14-1-3-1-7 0-1-1-11-3 8-1 14 1-14-1 1-2 10-1 2-2 12-1-11 0 1-2-14 1 22-1-10-2 5-2 5 0-14-2 21 2 3-2-22-1 14-1 3 0-2-2-11 0 5-2 7-2-5-1-1-1 20 0-3-1-10 0 11-1-15-2 7-1 4-2-11 1 13-2 9 0-20-1 8-1-5-1 16-2-9-1 7 0-16-1-1-2 20-1-2 0-8-2 14-1-23-1 16-1-13-1-2 0 3-2 3 0 13-3-5 0 9-1-9-1 10-2-11 0 16-1 0-2 2-1-18 0-1-1 21-2 5-2-1-1-17-1-5 1 21-2 2 0 0-2 10-3-20-1 6-1-9 0 5-1 3-1 23-2-16 0 1-2-6-2 9 1-10-1 6-1 6-2-9 1-2-1-2-1 18-1 2-1-10 1 8-3-13-1 12-1-8 1 19 0 2-4-3 2-1-2-8 1 9 1 1-3-3-2 6 1 1-2-1 0-3 1 0-1-6-1 1 0 1-2 4 1 6 0-2-2-5-2 7 1 9-1-5 0-6-1 4 2-1-2 10 1-3-2 3-1-3-1-1 0 1-1-6 0 16 0-8 1 3-2-10-1 2-1 18 0 3-1-10-1 3 0 9 0 0-2-14 0 13 0 8-1-12-2-2 1 1 0 17-2-1 0-12-1 4 0 8-3-12 1-8-2 11 0 2-1-12 0 18-3-20 0 20-1 1-2-11-1-6-2 2 0 20-1-25-3-1 0 6-1 21-2 9 0-15-1-4-2 14-3 13 1-22-2 16 0-21-3 1-3 6 0 17 0-17 0 8-3 6 0 3-3-17-2-2-1 18-1-13 0 4-3 15-1 5-1-9-2-7-3 8-1 5 1 6-4-14 2-4-2 15-2-4-2-2-4 13 0 6 0 0-4-13-1 14-2-3-1-3-2-3-3-6-1 9-2-21-4 24-1-13-2 6-1 4-7 2 0-1-3 13-3 12-1-2-2-9-2-8-3-3-4 24 0-3-4-11 0 1-2-6-2 10 1 8-3-13-4-3 2 14-4-7-1 4-3 11 1-2-4-3-1-4-1-6-2 6-1 4-2 3-1-16-1 16-2-7 0 3-1-12-2-2 0 8-1 14-2-10 1 0 1 5-2 1-1 1-1 7 1 6 0-13-1 11-1 1-1-2-2-4 2-1-2 0 1 3 0-1 0 2-1 4 1-2-1 0 1 3-1 3 1-1-1 1-1-1 0-1 1 1-1 2 0 1 0-1 0 7-2-3 3 1-1 2 0 2 0-2 0 3-1-1 0 3 1 1-1-4-2 3 2 2-2 1 2 1 0-2 0 1 0 4 1-4-1 3-2 4 0 1 1-3-2 5 2 0-1 2 1-3 0 5 0-2-2 2 2 1 1-3-1 4-1-4 0 2 0 3 1-4-2 7 1 1 0-3 0 2 1 0-2 2 1 2 0-3 1 4-1 1-1-1 2 0-2 4 1-1 0 1-2 2 2 2 0-1-1 1 2 2-2-1 0 1 1 0-1-1 0 5 0 2 2-3-2 5 0-1 0 0-1 2 2-1 0 2 0 0-1-1 0 2-1 2 1-2 1 0-2-1 0 4 1 1-1 2 1 2-2-1 0-1 1 4 0-1 0 2-2 3 2-3 0 5 1-1-1-1-1 1 0 2 1-2 0 1 0 2-1 2 0 4 0-5 3 2-2-1-2 2 2 1 0 2 0 3-1-5 0 1-1 4 0 2 2-1 1 2-3-1 1 3 1-3 0 4-1 1 0-1 0 1 1 1-1 0-1 5 1-1 0 2-2-3 1 4 0-3 0 2-1 6 2-1-1 2-1-3 0 1 1 3 1-1 0 2-2-1 0 0 2-1 0 2-1 0 1 4-1 5 1-7 0 4-1 3 0 0-1 2 0-2 0 4-1 0 3 1 0 1-2-4 0 3 2 4-2-2 2-2 0 3 0 0-4 0 3-1-1 2-1 4 0 0 1 4 0 1-1 0 1 1 0 0 1-3 0 1-1 6 0-3-1 2 2 1-1 1-1-4 0 3-2 0 4 2-2-1 0 3-1 2 1 1 0-4 2 0-3 2 1 2 0 1 0 1-1 1 1 6 1-2-1 1 0-2 0 3 0 0-1 0-2 1 2 4 2-2-1-1 0 0-2 1 2 5-2-3 0 5 1 3-2-2 3-1-1-2 1 1-1 3-1 6 0-7 2 6-2-4 2 4 1 3-2 1-1-2 0-1 0 4 1-4 1 2-1 1 0 2-1-1 0 1 0 4 1-2-1 4 1 0-2 3 1-2 0 2-1-1 1 6 0-1-1-3 0 1 1 1-1 3 0-1 0-1 1 2-1-2 0 6 0-2 0 3 1 1 1 1-1-3-1 6-1 0 2 0-1 0-1 0 1 2-1 1 1-1-2-1-1 1 2 0 1 3 1 2-2-3 1 6 1-3-1-1-1 4 1-2 1 1-3 3 0 0 3 1 0 1-2 3 0 1-1-1 1 1 2 2-3 2 1 0-2 0 1 1 1 2 0 2-1 2-2-3 3-1-1-1 0 3 1 2-1 2 1 1-1-2 0 4 0-2 0 3 0 3-1"/>
<path fill="none" stroke="#e42620" stroke-width="2.6" stroke-linejoin="round" d="M710,547l2 0 2-1-2 1 3 0-3 0 6 0 0-1-3 1 4-1-3 1 4 0 3 0 1 0 1 0-5 0 7 0-2-1-1 1 3 0 3 0 2-1 0 1-3 0 3 0-1 0 6-1-9 1 0-1 7-2 3 0-1 0 4 0-13-1 20-1-1-1-17-1 11 1-15-3 25 0-11 0 12-1-7-1 10-2 5-3-9 1 3-1 9-1-16-2-4 1 14-2 7-1-11 0-1 0-8-2-7-2 6 0 22-1-9-2-11 0 13-1 0-1 6 0-9-1 5 0-10-2-2-1 17 1-14-1 16-2-14-3 24 3-5-2-3-1 5-1-11 1 3-1 9-2 5 0-14-1 10-1 4 1 8-3-23-2 5 1 5-1 11-1-23-1 19-1 3-1-2-2 9 2-14-3 19 1 1-4-14 1 10 1-10-3 9 0 13-1-15-2 10-2 6 0-15-2 1-3-4 0 15 0-7-3 9 0-2-1 4-1 2-1 9-2-7 0-4-3 12-1-13-1-9-1 4-1-3-1 4-2 8 0-11 0 7-3 6 0-8 0 10-1-1-1-2-2-2-1 5 0-12-1 10 1-11-2 10-2 5 0 1-1-2 0 7-2 3 0 4-1 2 1-8 0-7-2 7-2 9-1-14 2 5-1-1-2 3-1 15-1-19-2 0 2 8-2-1-1 6-1-1 1 8-1 0-3-6 1-3 0 3-1 8-1 2-1 6 0-14-3 11 2-2-2-11 1 6-2 1 0 7-4-3 2 6 0-6-3 3 1 2 0-4-1-2-1 9 2-3-1 2-1 2-2 6-1 1 1-8 0-4-1-3-1 10-1 3-2 9 3 3-3-16 0 11-1 5 0-7-2-9 1 11-1 7-1-10-1 10-1 7 2-16-2 10 0 3-3 9 0-13-1 3 0 6 0-5-3-11-2 19 1 0-2-1-1 6-1 0-3-4-2 9 0-10-1 14-2-15-2 14-1 4-1-17-1 13-2-15-2 4-2 4 0 9-2 6-1-9 0-4-2 13-1-4-2 6-1 7 1-8-2-8-1 6 0 3-1-1-1 1-2-10-1 2 0 7-1-2 1 1 0 4-2-3-1 7 0-7-4 5 2 0-1 5-1 6-1-11-2 6 0 0-1 7-2-8 1-7-1-7-1 4-1 12-3-14-1 3 0 25-2-23-2 25-1-25-1 4-1-1-2 12-3-1-2-1-3-6 0 13-2 7-1-17-2 22-3-7 1-4-3 9 0-2-1-2-2 17-1-22-2 16 0-15-2 18 0 7-1-3-1 8-2-19 1 17-3 2-3-10 2-2 0-13-1 3-1 9-2 2 2-2-1 4-1-7-2 8 2-8-1 6-2-1 0-1 1-1-1 10 0-4 2 5-2-2-2 5 0-2 1 4-2-5 0 5-2 3 3-6 0 7-2 0 1-2 0-1-1 5 1-2-2-1 1 6 1-4-1 5-2-2 1-1 1-1-1 3 0 6-1 1 0-1-1 1-1 1 0-1 3 4-4-1 1-2 1 2-2 1 1 3 0-3 0 5-2 3 0-5 2 6 0-2-3 0 1 3 0-1-1-2 2 2-1 0-1 4-1 1 0-1 0 2 2-3-3 0 1 6 0-1 1-3-2 1 0 3 1 1-2 4 1 0-1-4 0 3 0 1-2 1 1 2 0 2 1-2 0 5 0-2-1-3 2 1-2 6-1-1 2 2 0-2-3 6 2-3 1 1-2 0 1 3-3 2 1-4 1 2 0 5-1-4 0 1 2 2-2 3-1 1 2 1-1-1 0 1 0 4 0 3 0-2-1-3 0 3 1 0-2-1 3 6-2-4 1 3-1 4 0 0-1-1 0 0 1 5 0-3-3 1 1-1 0 5 1-3 0 3-1 1 0-1 1 0-2 4 0-2 1 1 1 3-3 0 2 1 0 1 0-1 0 2 1 3-2-2-1 4 2-1-1 2 0-2 1 2-1 0-1-5 2 5-2 3 0-1 1 2 0 0-1 5 0 2 0-2 2-1-2 3 2 0-3 0 1-3 0 3 1 4-1-2 0 5-1-1 1-2-1 2 0 2-1 4 1-3 1 2 0 0-1 5 1-4-2 2 1-2 0 4-1 1 1 1 0-3-1 1 2 2-1 2-1 2-1-3 1 4 1-2 0 5 0 2-1-5 0 5 1 2-2 1 2 1 0-2-1-1 0 2 0-1-2-1 2 5 0 3 1-1-3-1 2 0-1 2 1 4 0-4 0 3 0 2 0 2-1 1 0-1 1-3-1 5 0-3 2 5-2-4 1 0-1 0-1 6 3-4-2 4-1 3 1 3 1-1-3-3 3 6-2-3-1 4 3-3-2 5 1-1-1 2 1-1 1 2-1 0-1 0 1-2-1 2-1 1 0 2 2 2 0 1-1-4 1 4 0 1 0-2-2 3 1-1 2 5-1 1 0-2-1-1 0 2 0 3 1-2 1-1-3 3 1 4 2 2-2-4 0 2 0 6 0-3-1 0 2 4-2 3 1 1 0-3-1 1 1 3-2-5 3 5-1 2 0 1-1-1 0 0 1 2 0 2 0 1 1-2-2 2-2 4 3-5 1 6-1-4-1 3 1 2-2-1 2 3-3-3 2 1 1 6 0-4 1 3 0-2-2 6 0-5 0 2-1 2 3-2-2 1 0 6 0-4 1 4 0 2 0-1 0-2-2 2 1 3 1-2-1 1 2 0-3 4 0-1 2 3-1 0 1-1-1 5-2 0 2-3 1 1 0 0-1 4 0 2-1 3 1"/>
<path fill="none" stroke="#e42620" stroke-width="2.6" stroke-linejoin="round" d="M708,547l3 0-2 0 5 0 1 0 2 0 1 0-1 0 3 0-2 0-1 0 2 0-3-2 5 2 2 0 1 0-3 0 2 0-1 0 2-1 2 1 5 0-1 0-5-1 1 1 4 0 3 0-2 0-1 0 2 0 5 0-1 0 1 0-7-1 10-1-3-1-12-1 14-1 9 2 2-1-3-4-7 1 6 0 3-1 5-2-5 0 1 1 1-2 5-4-14 2-9-2 12-1 1-1 12-2-17-1 21 0-20-2 19 0 0-1-6 0 10-1-2-1-4 0 7-4-13 0-8 0 13 1 4-2-11-1 18-1 1 0-9-1-3 0 15-1 1-2-1-1-11 0 12-1 4 0 0-2-7 0 12-1-21 1-1-3 21 0-11-1-7-1 7 1 19-3-16-1-2-1 10 1 9 1-13-3 23-2-18-1 7 0 6 0-2 0-2 0-9-3 7-2 13 0-22-2 22-1-3 0-2-1-11-2-2-1 1-1 6-1 11 0 5-4-5 1-3-2 12-2-12 1-2-1 12-3 8-3-11 2-2-2 0-1 1-2-6-1 5 0-5-1 5-2 9 0-6-3-1 1 20-3-9 1 6 1 9-3-17-1 20 0-22-1 2-2 7-2-9-1 19 1-23 0 13-1-3-1 4-1-4-1 10-3 0 1-8 1-1-3-4-1 13-1 9-1-9-2 8 1-4-1 13-1-6 1-12-2 20-1-5 0-1-2 7-1-14 2 17-1-10 0 11 0-2-3-6 2 6-3 0-1-11 0 8 1-3-2 6-1 10-1-3 0-9 2 15-2-3-1-6-1 1 1-2-2 1-1 6 1 2 0 3-1-4-1 8 0-4-3-12 1 6 0 5-3 2 1 6-1-1 1 6-2-8 0 7-1-8-1-2 0 18-1-18-1 24 0-4-1 6-2-9 0-7-3 9 0-8 0-2-1-3-2 24-1 0-3-22 0-1-2 6-2 4 0 2-2-2 0-8-1-4-2 18-2-7-1-12-1 2-1 25-1-8-2-6 0 7 1-6-2 20-2-22-1 17 0-7-1 17 0 2-2-8-1-17 1 17-1 4-2 4-2-14 1 21-1-4-1-10 0 4-1 2-1-10-1 9 0 12-1 1 0-14-2 3-1-5-1-4-1 21-1-3 0-7 0-3-1 21-1-18 0-3-4 5 1-4-2 14-1-5 0 13-2-6-1 10-2-13-1 10-2-9 0 6-3 0-1-14-1 10-1 12-2-9-1-11-2 8-1 15 0-7-3-6-1 14-1-3-1-5-1 4 0-9-2 17-2-6-1 4-1 5 0 15-1-16-1-10-2 6-1-8-1 16 0-17-3 0 1 21-2-7-2-10 1 3-2 12-1 4 0-12 0 0-1 8 1-3-3 5 1 0-1 8 0-5-1 10 1-8-1 7 0-4 1 5 0-6-1 3-1-3 1 6 0-2-2-1 1 5-2-3 0 5 1 1 0 1-2-3 0 6 0 2 1 0-2 1 1-3-1 4 0 1-1-2-1 5 2 0-1 2 0 0-1 0 2 3-2 0-1 1 2-1-1-1 0 1 0 2-1 5-1 1 2-2 0 4-2-2 1-3-1 5 1 1-1-2 0 1 0 4 1 1-2 1-1-4 0 5 1 0-2-2 3-1-2 4-1-2 2 7-1-3-1 2 1 1 1 1-1-1 0 5-3-2 2-3 0 1 1 2-3 0 1 4-1 2-1-1 2 4-1-4 0 4 0 3-1-4 2 0-1 3-1 3 1 0-1 0 1 0-3 5 0-4 1 7 0-1 0 4-1-1 0 3 0-4 0 2-1-4 0 3 0 2 1 0-1 4 1-1 0 0-1-1 0 5-1-2 0 2-1 3 1-2 0 7 1 1 0-1-1 1-1-1 0-5 3 5-4-2 0 4 0 1 0-2 0-1 0 2 1-1-1 4 0 1 0-1 1 0-1 3 0 2-1 3 2-4 0 6-1 1 0 0-1 1 1-1 0 1-1-5 0 7-1-4 0 1 0 4 0 0 1 1 0 2 0-3 0 2-2 5 2-5-2 1 1 5 1 5 1-4 0 1-2 2-1 3 1 0 1-1-2 0 1 1 1 2 1 2-3-1 1 1 1 0-2-4 0 3 0 2 1-1-1 4 1-2 0 5-1-2 1 0-1 6 2 1-3-1 0 2 2 2-1-4 0 1 0 0-1 2 0 2 2 1-1-1 0 1-1 6 1-5-1 8 2-5-2 6 1-4-2 2 2-1 0 1-2 3 1-1 0 1 0 2 1 1-3-3 2 6 1-2-2 3 1 1-1 2 3-5-2 3-1 0 1 5 0-4 0 1 0 3-1-1 0 3 0 0-1 2 4 2-4 2 0 0 1 3-1-4 0 3 1 0-1-3 0 6 2 1-1-1 2 2-2-2 0 2 0-2-1 6 0 1 0 1 1-2 1 3 0-5-3 6 2 0-1 0-1 4 0 1 1-4 2 5 0-3-2 0 1 3-3 1 3-1-1 5 1-3 0-1-1 7-1-1 1-1 0 4 1-4 0 3 0 1-1-1 0 4 0 0-1 1 2 4-1 0 1 1 0 0-1-1 1 0-1 0-1 0 2 2-1-2 0 1 0 4 0-1 2 4-3 1 0-3 0 4 1 2 0-4 0 0 1 2-2 2 1-2 0 4 0 2-1 3 1-6 1 4-1 4 1-1-2 2 1 2-1 0-1 4 1-6 3 2-2 1 1 5-2-4 2 3-1 2-1 0 1 2-1 4-1-3 3 1-2-3 1 0-2 5 1-3 1 2-1 4-1 1 3-2-1 1-1 1 1-1-1 5 1-2-1"/>
<path fill="none" stroke="#e42620" stroke-width="2.6" stroke-linejoin="round" d="M709,547l-1 0-1-1 1 1 4 0 2 0-1 0-2 0 4 0 4-1 1 1-4 0 3-1-2 0 5 1 1 0 1 0-5 0 5-1 1 1-2-1 1 0 1 1 1 0 1 0 4 0-3 0 1 0 1 0-3 0 1 0 2-1 5 1-5 0 2 0 2 0 1 0 1-1 0-1 7-1 0 2-2-2 3 0-2-3 9 1-12 1 11-2-10-1 12-1-11 0-11-1 15 0 3-2 12 0 8 0-4-1 4-1-8-2-15-2 0 1 15 0-14-2 18-2-13 0 15-1-13-1-3 0 7 0 9-2 10 1 1-1-11-2 7 1-11-3 2 0 4-4 11 1 1 0-15-1 2 0 11-1 2-1-17 0 3-1 1 0 7 0-1-1-4-2 9 0-2-2-9 3 8-3-2-1-4 0 13-1 8 1-5-2 7-2-10 0 21 2-11-2 4-3-12 0 6 1 16-3-21 2 4-2 13 0-20-1 11-1 1-2 4-2-2 2-5-3 8 1-4-2-14-1 7-1 20 0-16-1 7 0-4-2 14 0 7-1-19-1 2-1 20-2-10-1-16 1 17-2-2 0-7-2 6 0-8-1 5-1 7-1-3-1-6-2 20-1-13-2 10-1-3 1 12-2-23 1-1-3 12 0-4-2 14 0-16-1 25 1-21-3 0-1 15 0-12-1 0-1-5-1 15-3 7 1 4-2-8-2-15 0 1-1 23 0-17-2 12 0-9-2 18 1 4-4-19 2 17-3-7 1-16-1 6 0-2-1 6 0 15-1-5-1-5-1 6-1-12 1 15-1-6-1 1 1-10-2 6-2 11 2 3-2-8-1 1 1 3 0-9-1 5 0 0-1 6-1-4-1-2 2 11-2-10 0 5-1 1 0-1 0 10-2-10 1 13-1-10 0 2 1 2-4 5 2-6-3 4 1-1-1 0-1 8 0 2 1 4-1 1 0 2-2-10-1 14 1 1-1 2-1 3-1-16 0 3-1 16-1-9 0 9 0 1 0-7-2 1 0-6-1-4 0-3-1-1-1 16-1-7 1-1-3 1 1-8 0 6-1 5-3 11 1-15-1 3-2-6-1 24-2 0 1-5 0-19-2 6-1 2-2 5 0-4 0 0 1 12-4 8-1 1 0-20-1 10-1 8 2-7-3 11 0-14-1 16 0-3-3 3-1 2 1-13-2 3-1 14 1-13 0 18-2-10 0 8 0-16-3 10 0 8 1-21-3 3-1 2 1 22 0-8-1 12-2-15 0 8 0 3-3-17 0 13 1-8-3 10 0-9 1 7-3 7 1 0-2-15 0 4-1 10-2-4-1 9 0-15-1 9-1 10 0-7-2 13 1 1-2-15-3 16 0-11 1 6-3 8-1-16 0 11-2-6-1 5-1-14-1 6-1 8-2-6 0 13 0-20-1 7-2 17 0 1-1-19-1 19 1-14-4-4 3 19-4 2 1-1-2 5-1-16 0 3-2-5 0 16-1-13-3 12 0 7 0-25-1 21-1-20-1 22 0-5-2-6 1 7-1 10 0-14-1 6 0-14 0 9-3-4 1-1-2 2-2 5 1-3 1 15-3-3 0-6 0 12 0-6-1 4-1-1 0 7-2-7 3 5 0 1-3-3 1 5 0-2 1-1-2 3 0 1-1 1 0 1 0-2 0 2 0 1-1 0 1 1 0-5-2 8 1 0-2-3 1 4 0-1-1 2 1 5 0-4-2 0-1 5 2-2 1 4-1 0-1-2 1 0-2 2 0 1-1-2 0 2 0-1 1 3-1-2 0 5 0-1 0 2 0-2-1 3-1-2 2 5-2 1 2-6-2 8 0 0 1 0-2-3 2 2-1 4 1-5-1 7 0-5 0 5-1-2 1 2 1 5-1-3 0 1 0 2-1 2-1 1 1-4-1 3 0-1-1-1 2 3-2 1 0 0 1 1-1 4 1-1-2 0 1 2-1-4 0 5 0-3 0 3 0-2 0 3 1-2-2 3 2 2-1 2 0-2 2 5-1-2 0 1-2 1 1 1 0 1-1-2 1 5-1-5-1 6 0-2 1 1-1 1 2 3-2-4 0 3 0-2 1 2 1 2-3-2 0 5 2-2-1 3-1 4 2-2-3 4 1 1 0-4 0 1 0 5 0-2-1 0 2 4-3 1 1-1 0-5 1 2 0 2-1 0 1 1 0 1-1 2 0-1 1 3 0-2-1 3 1 2-2-1 1 2 0-3 0 6 0 3-1-3 1 3-2-1 1-1 0 7 1-1-1 0-1-1 1 4 0-1-2 0 2 4-1-5 1 2 0-1-1 1 1 1 0 3 0 1-1 2-2-3 3 3-1-2-1 1 1 3-1 1 0-3 0 1-1 3 1-1 1-1-2 3 2 2-2 1 2-4-2 6 2 1-1-1 1-2 0 5-2 2 1 1-1-2 1-1 0 5-1-2-1 0 2-1-1 6-1-2 1-2-1 2 0 0-1 5 2-2-1-1 0 6 0-5-1 3 2 0-2-1 1 3 1-1-1-1 1 5 0 1 0 1-1-1 0 6 1-1-1-2 1 3-3-4 2 5-1-2 1 6-1-2-1 1 2-2 0 3-1 2 1 1 0 1-1-1 1-1-1 1-2 3 1-2 0 1 1 4 0-2 0 0 2 0-2 6 0-2 1 1-2 2 1-3 1 3-1-1-2 2 1-1 2 1-2 0 1-2-1 2 1 4-1 1 1-1-1-1 1 4-1-2 1 1-1-1 2 3 0-5-1 6 1 1-2 1 1 2-2-1 0 2 2 4 0-3-2 1 1 4 1-1 1 2 0 1-2 2-1-1 0 0 1"/>
<path fill="none" stroke="#e42620" stroke-width="2.6" stroke-linejoin="round" d="M710,547l-3 0 6-1-1 1-1-1 5 0 0 1-3 0 4-1-1 1 1 0 3 0-5-1 2 1 6 0-2 0 3 0 2 0-1 0 3 0-2 0 3 0 1-1-1 1-1 0 3 0-1 0 4-1-1 1 1 0-2-1 3 1 3 0-2-2 0 2 5 0-3-1 5 1-2 0-2 0 2-1 5 0 2 0 4-1-5-1 1 0-5 0-3-1 9-2-1 1 2 1 5-2-11-2 2 1-1-3 6-1 3 0 5 0-2-3-5 1-5-3 8 0 2 1-2-3 0 1 13-3-16-1 18 0-4 0-13-1 4-1 6 0-5-1 10 0 3-1 2-1 2 0-5-2 9 0 2 0 1 0 6-2-10-1 12 0-8-1 1 0 0-1-1-2 4 1-5 0-1-3-9 2 0-1 15-1 2 0-1-2 7-2 4 0-7-1 8 0 2-1-6 0-7 0 0-2 9 0-6-1-6-3 9 1 12-1 7-2-12 0-17 0 21-3-15 1 16-3-4 1-5-1 2 0-7 0 6-3 7-1-9-1 12 0-9-1 2-1 4-3 10 0 0-2-5-1-8 1 17-3-17 1 15-2 6-1-17-1 19-2-19 0 13-3 4-1-4 2 14-3 2-2-10-1 6-1 7 0-12-1-1-2-2-3 12 0 7 1-20-2 19 1-4-4 7 0-5 1-7-2-7 1 5-1-5-2 17-1-6 0 7 0 1-2-4-2 10 3 0-3-5 0-4 0-4-1 3-1-6 0 1-1 8 0-1-2 2 0-2-1 13 0-8 2 10-2-9-2-3 3 8-4-4 1 13-3-9 1 6-2-7 1 10-2-7 1-8-1-1-1 10 0 4-1-11 0 14-1 0-1-11 0 8-1 10 0-4-2-6 0-3 0-2-1 14-1 1-1-11-1 2-1 9 2-10-2 19-1 2 0-12 0 15-1-14-1 13-1-3 0-9 0 14-1-14 0 7-1 12-2-9-2-8 1-1 0 8-1 5 0-9 0 13-2-9-1 17-2 2 1 1-2-13-1 14 0-6-1-11-1 12 0-4 0 18-2 1 0-7-1-8-2 9 0-1-1-5-2-9 1 3-1 5-2 1-1-2 0 0-1 3-1 3 0 5-2 0 2-7-4-6-1 3 1 12-1-17-1 24-1-9-1 1-1-3 0-2-1 9 0 13-1 4-2-5 0-6-1 5-2-2 0 4-1 5 1-13-1 12-3-6 2 9-3 1-1 4 1 2-1 5 0-13-2 1-2 6 1 2 0-5-1 6 1-9-2-5-2 15 0-14-1 15 0 3 0-15-2 10 0-5 0 9-1-9-2-5 1 14-1 5-2-8-1-6 1 13 0 3-1 7 0 3-1-16-1 10-1-1-1 2 0-2 0-4 0 9 0-5-1 1 2 4-4 0 1 3 0-3 0 4 0 2-2-1 2-4-3 1-1 6 0-1 2-3-1 1-1 7 1 4 0 1-2-7 1 5-3-3 1-1 1 6 0 3-2 3 0-5 0 1 0-1-1 2 0-1-1 4 1-5-1 5 0 5 0-2 0 1-2 0 1 3-2-2 2 6-2 0 2-1-1 2-1 2-1-2-1 2 1 1 0 3-1 0 1-1 0 0-1 3-1 2 1-5 0 0-1 6-2-1 1 3 0-2 1 3-1-1-2 1 2-2 0 2-1 1 0 2 1 2-3-1 2 3 0 1 0 0-1-2-2 3 0-2 1 4-1-4 1 3 0-2 0 4-1-1 0 1 0 2 1 3 0 2 0 2-2-1-1 6 0-3 3 5-2-1 0-1-1 3 1 1-2-7 1 6 0 0-1-3-1 3 3 0-2-2-1 6 0-4 0 2 0 1-1 2-1-1 3 0-2 2-1 1-1 5 3-2-3 3 2-2 0-2-1 4 0 3 0-1-1 3 0 0-1-3 2 6-1-1-1 3 3 1-2 2-1-2 1 5-2-3 2 1 0 1 0-2-1 6-2-2 1 2 1 1-1-3 0 4 1-3-1 5 0 1 1-3-2 1 2 2-1 4-1-3 0 3 2 0-2 3 1-2-1 3-1-3 1 5 0 1 0-4 0 4 1 0-1-1 1 0-2 4 0-3 1-1 0 2-1 3 0-2 0 4 0-2-1 0 2 4-1 2-1 0-1-1 1 5 0 1 0-2 2 5-2-5 2 5-2-4-1 4 1 3 1 1-2-1 1 1-1-3 1 4 0 1 1 0-1 4 1 3-1 1-1-2 0 2-1-2 1-2 0 3 0 1 2-2-2 3 1-4 0 5-1 3 1-3 0 3 0-4-1 3 0-1-1 5 1-2 0 5 0-1-1 4 0 3 0-5 1 6-2-2 1-2 0 5 0-3 0 5-2 0 2 3-1 0 1 1-1-1 1 2-1-1 0 2 1 2-1-3 1 0-1 5 2-3-2 2 0-2 1 4 0-1 1 0-3 5 2 2 0-3-1 1 0 1 0-1-1 4 2 2-1 1 0-1-1-3-1 2 0 4 1-3 1 3 0 4 1 0-2 1-1-4 0 1 1 4-1 1 0 3 3-3-3 3 2 2 0-2-1 1-1-1 0 4 1-4 0 2 1 2-1 2 1 1-2 3 1-1 0 1-1-3 1 0-1 6 0 1 1 1 1-1 0 1-2 4 1-3 0 3 0 3 0-1-1 1 1 3-1-1 2 2-2-2 0 4 0 0-1 2 2-5-1 2-1 6 1-3-1 1 2 0-1 3 0-3 1 0-1 4 0 3 0-2 2 4-2 2-1-1 1 2 1-1 0 5-1-1 0-2 0 4 1"/>
<path fill="none" stroke="#e42620" stroke-width="2.6" stroke-linejoin="round" d="M707,547l2 0 5 0-1 0-2-1 4 1-2 0 1 0 6 0 1 0-6-2 3 2 2-1-2 1 2 0 2 0-2 0 1 0 8 0 1-1-2 1 5 0 2-1-2 1 1 0-1-1 2 1 1 0-3-1 1-1 2 2 2 0-2 0-2 0 2 0 1 0 3 0-5 0 6 0 1-1-3 1 2 0 3-1 0 1 1 0 4-2-3 0 2 1-4-2 5 2 1-2-6 0-2 0 18-2-10 0 7-3-11 1 24-1-20-1 8 1 0-3-11 2 7-4 10 0-11-1 26-2-24 0-6-1 10-2 8 1 1 2-11-4 7 0 0-1 7 0 4-1-2 0-9 0 10-1 6 0-12-2 6-1 3 1 2-2-2 0 5-1-7-1 12-1 2 0-6 0 7-1-1-1-15-1 8 1 5-1-7 0 8-1 7-2-5-1 7 1-14-1 1-1 8-1 18-2-14 1 18-1-7-2-1-1-2 1-16-1 16-1-6-1 11-1-15-1-5 1 14-3 8 0-6-2 10-1 4-1-12-1-8 0 18-1-19-1 19 0-8-1-1 0 10-2-7-1 4 0-3-2 8 0 0-1 1-2-19-1 1-2 12 1 5 0-4-1-7-1 14-1-8-1 14-1 5 0-15-2 10 0-7-2 9 0-13-2-8 0 13-2 17 0-10-2 1 0 4-1 3-2 5 0 1-2-3-1-11 0 18-2 3-2-11-1 2-1-8-1 9-1 3-1 13-1-19-1-2-3-6 0 13 0-6 0 15-3-10 1 14-2-13-1 10-1 1 2-6-2 13-1-16 1 6-3-2 1-1-1 10 0 3 0-6-2 7 0-12 0 3-3 7 1 7 2-9-2 3 0 1-2 7-1 0 1 1-2-5 1 5 0-2-5 5 3-4 0 11 0-7-1 11 1-3-2-6 0 3 0 0-1 4-1-7 0 9-1 3 0 5 0-12 0 3 0-1-3 7 1-8-3 12 3-6-2-10-1 9 1 4-2-6 0 10-2-5 2 0-1 1 0 6-1 5-1-15-2 1 1 10 0-4-1 1 1-3-1 10-4 0 2 1-1-3-2 2 1 8 0-8-1-9-2 21-1-13 2 17-1-2-1-3-1 6-1-8-1 6-1 8 0-13-2-6 0 2 0 18-4-15 0-8 0 1-2 9-3 17 0-15-2-4-2 17 1-16-1 15-1-7 0 4-1-15-1 5 0 9-1 15-1 0-1-1 0-17-1 15-1 3 0-12-2 6 1-5 0 12-3-12 1 3-1 7 0-1-2-1 0-5 0 1-1 10 1 4-1-15 0 4-2 1 0 12-1 4-1-4-1-5 1 10 1-7-2-2-1 9 1 2-1-1-1 0-1 3-1 2 0 0 2 5-1-7-1 2 1 4-1 3-2-3 0-1 0 2 0-3 0 3-1 1 1 9-1-6-1 2 1-2-3 0 3-3-1 4-2 5 0 1-1-2 0 5 0 4-2-8 2 6-1-3 1 0-2 0 1-4-1 0-1 7 0-5-2 1 0 8 1-3 0 4-1 1 1 3-2-4 1 4 0 0-1-1 1 5-2 0-1-2 1 1 0 3-1-1 0-3 0 1 1 7 0-3-1 2-1-2 0 1-1-1-1 6 0-1 0 1-2 5 0-3 1 2 0 1-1 0 1 6-2-3 1 1 0 2 1 2-1 1 0-5-1 5-2-1 1 1 1 2-2-4-1 5 1 1-1-3 0 2 1 5 0-3-1-1 1 3 0 0-1 2 0 1-2 2 1-3-1 3 2 5-2-1 1 0-1 1-1-4 0 5 1-2 0-1 0 4-2-3 0 5 2-2-2 4 0-2 1 5-2-5 2 3-2 3 1-2-2 5 2 0-1 0-1 2 2-1-1-1-1 5-1-3 0 4 1-3-2 3 2 4-2-3 1 3-2-2 1 5 1-3-1 5 0-1 1 3-1-2 1 1-2-2 1 4 0 2-2 1 0-3 2 2 0 4-2-1 0 3 1-2-1 1 0 1 0 1-1 4 1-2 1 2-1 3 0-4-2 0 2 6 0 0-1-3 1 7 0-1-1-2 0 0 1 0-1 4 0-1 0 2-1-2 2 2-2 4 0-1 1 4-2-3 0 2 1-1 1 2 0 4-1 3-1-5 0 4 1-4-1 4 0 3 0 0 1 0-2 3 0-1 1 1 1 0-3 1 2-1 0 3-1-3 0 4 1 2-1-1-1-2 1 7 2-5-2 3 1 0-1 2 1 1-2-3 1 2-2 0 2 2-1-2 0 4 0-3 0 3 2 2-1 5-2-5 0 6 3-4-1 3 0 3-1-4 0 2 1 4-1 0 1 0-2-2-1 5 1-2 2 2-1-2 0 5-1 2 2-1-3-2 1 6 0-4 2 3-2 0-2 2 3-5 0 4 0-1-1 6 1-3-2 5 2-1-2 5 1-4-1 4 0-2 2 4-2-3 1-1-2 1 1 1 1 1-1 4 1 1 0-2-1 4 0-5 0 5-1-3 1 3 1 2-1-1 0 5 0-3 0 1 1 4-1 1 2-1-2 1 0-2 0 5 0-4 0 1 0 2 0-2-1 2 1 5-2-2 2 2 1 4-1 0 1-1-1 1 1-3-2 5 2 2-1-1-2 4 3 0-1-4 0 7 0-1 0 2-1-4 3 1-2 2-2 3 0-2 0 4 2 1-2 1 0-4 1 2 0 3-1-3 1 4 0-2 1-3-1 6 1 1-2-2 1 3 1-3-1 4 0 1 1 2-1-1-1 3 1 3 0 3 0-1 0 1 0-1 2 4-2-3 0"/>
<path fill="none" stroke="#e42620" stroke-width="2.6" stroke-linejoin="round" d="M707,547l5 0-1 0 1 0 2 0-3 0 1-1 6 1-3 0-1 0 6-2-2 2-1-2 2 1 2 1-2 0 3 0-3 0 7 0 0-1-4 1 5 0 1 0 1 0-3 0 0-1 7 1-2-1 0 1 4 0 0-2-3 2 4 0 3 0 1-2 0 2-5 0 1 0 6-1 2 1-4-1 3 1-1 0 7 0-2 0-1 0-1 0 1 0 1 0 2-1-2 1 8 0-6-2 1 0 2 1-7-2-1-1 8 0 5-3 5 0 6-1-14 0-7 0 12-3 9 1-9-1 3 0-5-1 5-2-2-2 17 0-14 0 7-2-6 0 12-1-13-2 8 1 6-2 5 1-1-3 2 1-1-1-12 0 2-2 3 0 2-1 14 0-3 0-6-1 0-1 7-2-16 0 7-1 6 0-3 0-1-1 3-2 9 1 7-2-1 1-13-1 3-1 9-1-2-1-3 1-16-3 20 2 1-1-9-2 1-1 2 0 2-2 4-1 2 1-13-3 3 0 7-1-4 0-2-1 8-1 8-1 8-1-16-2 9-1 6 0-6-1 3 0 4-2-6 0 15-1-3 0 2-3-2 0 6-1-20-2 4 1 24-1 0-1-24-2 24 0 4 0-12-2 13-1-2 0-9 0-4-1 7-2 7 0 1-1-5-2-15-2 18 0 2 0-7-2-11-2-1 1 3-2 14-2-7 2 4-4 10-1-9-1 15 0-14-1 9-2-9-2 12 2-10-4 14 0-6 0 5-1-2-1-5-1-11 0 15-2 6 0-1-1-6 0 1-1 8 0 6-1-9 0 3 0 5-2-3 0 6 0-3-1 9 0 1-1-2 0-11 0 2 0 0-1 6-1 1 0-9-1 13-1 0 1 4-2-7 0 4 0 10-2-7 1-9-1 13 0-5-1-5 0 11-1-2-1 6 0 2-1 2 1 3-1-8-2 10 1-16-3-2 0 6-1-3 0-2 0 2 1 0-3 13 1-3-1 3 0 9-3-1 2-2-3-6 1 13 1-7-2-4-1 8-1-1 0-5-1-5-3 1 1 6-1 4 2-12 0 15-4-1 0 1-1-2 0-7-1 5 0 4-3 5 2 5-1-16 1 14-4 1 0 11-1-15 0 14-2-1 0-15 0 5-1 14-2 4 0-15-1 1 0 8-1 1 0 5-1-8-2 13-2-6 1 5-2-9 2 12-1-11-2 7-1-6 1-1-2 11 0-1-1 2 0-1-1 5-1 4 1-8 0 0-1-2 0 6 0 7-2-2-1-1-1 1 1 5-1-5 1-5-2 2-1 2 1-1-1 6 0-6 0 5-3-2 1 3-2-2 1 8 0-4-1 0 1-3-2 4 0 1 2-4-1 10-3 2 1-8 0-1-1 2 0 2 0 4-1 1-1-1-1-1 1 8-1-6 0 5-1 2 1 1 0-1-1 4-1-6-1-1 0 8 0 4 1-6-2 3 0-1 0 0-1 3 1-2-1 0-1 5 0 0 1-2-1 7-1 1 1-8-2 5 0-3 0 8 2-5-2 0-2 4 1-1-2 2 1 4-1-3 1 4-1 1-1-2 1 4-2 0 1-2-1 0 2 7 0-6-2 5 0 3-1-2 0 1 0-4-1 1 0 2 0 6 0 1 0 0 1 0-2-1-1-2 0 2 0 2-1 7 0-1 1 0-2 1 1 2-1-5 0 1 0 5-1-3 0 1 2 2-1 1-1 2 0-6-1 3-1 4 3 1-2-2-1 4 0 1-2 2 2-2-1 1-1 1 1 4-2-2 2 4-1-3 1 5-2-3 0 3 1 0-1 1 0 1 1-1-2 1 0 4 1-1-1 3 1-5-2 4 2 2-1 2-3-2 2 4 1-3-1 5 1 1-1-3-1 1 1 0 1 2-2 6 0-4 0 5 0 1 1 1-1 2-2-2 1 0-1-1 0 3 1-1 0 4-1 1 0 2 0-3 1 2-1-1 0 1 1 1-2 1 2-2-2 4 0-1 0 2 1-1-2 1 0 1 1 4-1-1 0 4-2 0 2-2 0 4 0-3-1 3-2 1 2 2 0 1 0 0-1 2 0-1 2 1-1 5-1-5 2 3-2-3 0 5-2 2 2-3-1 0 1 1 1 7 0-2-2-2-1 5 0-5 1 6 0-5 1 3-1 2-1 3 0-1 1-3 0 4-1 4 0 0-1-2 3 1-2 3 0 0 1 1-1-3-1 4-1-3 1 4 0-1 0 4 0 2 2-1-2-5 0 4 2 3-3-1 3 5-2-2 0 2-1 0 1 2 0-3 0 1 1 2-2-1 0-2 1 7 0-3 0-3 0 6 0 0-1 5 0 1 2 0-2-2 1-1-1 5-1 0 1 1 1-1-1-1 1 5-2-2 0 4 0-2 1 4 0 2-1-1 1 0-1 1-1 1 2-3-1 2 0 2 0 0-1 4 0-3-1 1 2 2-1 1 0 3 1 1-2 1 1-2 0 2 0 1 1 2-1 2 1-2 0 4-2-3 1-1 1 6 0-1 0-1 0 3-1-1 0-2-1 4 2 0-2-3 1 5 0-3 0 7-1 0 1-1 0 1 0-1-1 2 0 3 2-2-1 1-1 2-1 2 1 1-1 0 1 3 1 1-1 0 1-3-1 4 0-2 1 5 0-4-1 5 0 3 0-1 0 2-1 1 2-2-1 5 0-1-1-3 0 4 0 3 2 0-2 1 1-4 0 5 0-2 0 3 0 1 0-1 0 1-1 5 1-1 0 0-1 1 0 2 1-3-1 4 1 1 0-1 0-1-1 4 2-1-2 1 0"/>
<path fill="none" stroke="#e42620" stroke-width="2.6" stroke-linejoin="round" d="M710,547l1 0 2 0 1 0-1 0 2-1 0 1 4 0-5 0 2 0 4 0-3 0 1 0 2 0 7-2 0 1-3 1 2 0-2 0 4 0 1-1 1 0-3 1 2 0 4 0 1 0-4-1 3 1 1-1-4 1 7 0 1-1-2 1 2 0 3 0 0-1 1 0-1 1-2 0 4-1-3 1 5 0 0-1 2 0-1 1 1 0-1 0 4 0-1 0-2-1 3 1 5-1-5 1 2 0 1 0-2-3 2 3 2-2-4-1 6 0 11-1-9 0 13 1-13-3-3 1 10-1 2-2-7 0 5 0 3-1-10-1 2-2 21 1 2-3-15 0 7 0 2-1 3-2-2-1-6 2-6-2 9 0-7-2 13-1-1 2-3-3 0 1 17-1-12 0-7 0 8-1 2 0-4-3 3 1-5-2 11 0 2 0-10-3-2 0 11 1 6-2-5-2-5 1 11 0-12 0 7-2 5 0-10 0-2-2-4 0 6-1 5-3-7 3-2-2 14 0 0-2-2 2-1-2 12-1 3-3-9 1 6 0-9-2 10-1-2-1 9 0-2 1-2-2-16-1-4 0 25-1 2-1 0-1-8-1-8 0 9-2 14 1 5 0 5-1-12-2 7-1-6-1-4 1 4-4 9-1-4 1-3-1 10-1-2 0-11-2 2 2 20-2-20-2 1 1 3-3-4 0-2-1 9-1-1-2-4 0 2 1 15-1 2-2 4-2 6 0-4-1-15-1 3-1 17 0-12-1 11-2-4-1-9-1 17-1-18 2 19-3-2-1 6-1-8-1 9 0-4-2 2 0-2 1 1-2-8-2 16-2-5 1 2-1-7 0-6-1-1-2 19 1-21-1 3-1 13-1 7 0-15-3 11 0-5 1-3-3 9 1 6-2-4 1 1-2-10 1 7-2 1 1 3 0 4-1-1 0 0-2 9-1 0-1-6 1 2-1 2-2-3 2 5-1-5-1-5 2 13-3-6 1 4-3 0 2-1-2-2 0 8 2-2-3 2 0 1-2 6 2-8-2 8 0-9-1-1 0 10-1-3-1 2 1 2-3-2 1 3 0 3-1 4 1-5-2 5-1 0-2 6 0-13 1 1-1 4-2 4 1-10-1 12 1-3-1-4-2 3-1 5-2 7 3-5-3-6 0 7 0-2-2 9 1-2 0-12-1 5-1 5-2 7 2-6 0 2-1 6-2-9 0 5 0 13-1-13-1 10 0 0-1-6 0 2-2-4 0 5-1 5 1-3-1-4-1 2-1 10 0-2 0 5-2-5 1 3 0-7-1-4-2 9 0-5 0 3 1 7-1 8-1-9 0 10-2-12 1 7-2 3 0 2 0-8 0 11 0 0-1 4-1-10-1 3 0 7 2 2-1 3-2-7-1 5 1 0-2-1 1-8-1 9 0-3 0-1-3 4 2-3-1 5-1 4 0-6 1 3-1 0-1 3-1 6 3 0-4-2 2 2-1 4 0-4 0 4-1-2-1 2 1 1-1 2-1-3 0 4 2 0-2 1 0 0-1 4 1 4-2-5 2-4-2 5 0 0-2-3 2 0-2 0-1 4 1 6 0 0 1-1-2-1 1-1-3 4 1-3-1 1 3 1-1-1 0 5-3 2 0-5 0 3 1-4-1 5 0 2-2 0 1 5-2 2 0-1 1-5-1 2 0 6-1 0 1 1-2-1 0-2 1 3 0 4 1-3-2 0 2 4-3 0-1 4 4 4-3 1-1-1 0-2-2 5 1-4 1 4 0-2-1 2-1-1 1 4 0-2-2-2 2 3 0 4-1-5 0 1 1 1-1 1-2 5 0-5 0 6 1-2 1 6-2-6-2 2 2 3-1-2 1 3-1 1 1 1-2 3 0 0-1 2 2 1-1 1 1 2 1-5-1 1-1 4 0-3 0 3-1 6 1-5-3 1 2 2 1 0-1 4 0 2 0-3 0 5-2-4 1 5-1-3 1 2 0 3 0-1-1 0-1-1 0-2 2 4-1-4 1 7-3 0 1 1 1 0-1-1 2 3-2 2 3-3-3 5-1-5 1 4-2-2 1 4 0 3-1 1 1-2-1 2 0 1 2-1-1 1 0 4-1-4 0 3 0 1-1-1 1 4 0-3 0 4-2-2 2-1 0 3-1 1 0 2 0-1 0 1 0 3 0 0-1 2 1 1 0-2-1 3 1 3 0-4-2 3 1 6 0-1 0 1-2 2 2-2-1 3 1 1 1-1-2 1 1 1-1 4 0-6 0 5 0 2 1-3-3 4 1 2 0-4 0 3 0-3 1 6-2-3 3 5-2 0-1-3 2 1 1 6-2 1 0-2 1 2-2-4 1 2-1 0 1 2 0 2 1-2-2 7 1-3-1 2 2 1-1 1-1 3 1 3 0-4-1 2 1-3-2 4 1 1 0-3-1 4-1 0 1-1 0 4 1 0-1 2 1-4-1 1 0 4 0-2 0 2 0 2 0 1 2 0-1 1 1 3-2 0 1-2-2 2 2 1-2 3 0-2 0 4 2-1-1-1 0 3 0-1 1 1-2 2 0-1 0 2 2 3-2 3 2 0-2-5 3 2-2 3-1-1-1 3 1 0 2 0-3 1 1 1 1 4 0-3-1 3-2 0 1 2 1-1-1 1 0-4 1 3-1 1 1 3 0 1 0 2-2 2 3 1-2-3 2-1 0 3-2 4 0 1 0-4 0 6 2-3-1 2-1 2 2 1-3-2 1 1-1 4 2-3 1 0-1 7-1 2 1-4 0-1 0 2-1 2 0 3 0-2 0 4 1-1 0 1-2 2 2 1-1"/>
<path fill="none" stroke="#e42620" stroke-width="2.6" stroke-linejoin="round" d="M709,546l1 1 2 0 1 0-1 0 5 0-5 0 2 0 3 0 3 0-4 0 4 0 2 0-1 0 1 0 2 0 3 0-2 0 1 0-3-1 7 1-1 0 1 0-3 0 4-1 2 1-2 0 5 0-5 0 3 0 2 0 2-1 1 1-1 0 3 0-3 0 4 0-4 0 0-1 0 1 1-2 5 2 1 0 5 0 2-1-2 1-2 0 2 0-2 0 1 0 3 0 2 0 2 0-1 0 5-1-1 1 2 0 2 0-2-1 5 1-6-1-1 0 3-1-2 1 7-2 12 2-4-2-1-2-1 0 14-1 0 1-1-3-8 0 2 0 3-2 8-2-9 2-17-2 7-2-5 0 3-1-5 0 8 1-1-3 7 0-1 0-3 0 2-1-6-1 14 0-1-1-2-1-2-1 7 0 1 0-1 1-1-2 8 0-11-1 6-2 2 1-14-2 19 0-10-1 3 1 4-2-2-1 3-2-6 2 16 0-9-2 9-2-12 1 17-2-9 1 11-1-8-1 20-1-8-2-4 2 7-3 8 3-16-3 0 1 4-1 7-3-9 1-4-1 9-1-7-1 10 0 8-1-1 0-10-2 13-1-8-1 5 1-8-2 2 0-5-1 9-2-6 2 4-1-8-1-4-2-1 0 7-1 7 0 16-3 7 0-19-2 5 2-4-2 15-1-12-1 9 0-5-2 0-1-2-1-2-2 3 2-8-2 13-1 4 0-10-1 16 1-4-1 4-1-4-4-4 2 14-1-8-1 2 1-3-2 11-2 6 0-18-1 11-3 2 1-1 0 2-2 5 1 6-1-24-2-3-3 12 1-3-3 18 1-5 1-13-1 16-2-6-3 12 1-12 0 12-2-8 0 0-1-1-2 1 2-1-3 9 2 6-3-7 0-1 0-1-1 4 0 3 0-5 0-2 0 0-3 10 0-11 0 11 0-2-2 1 1-2-1 15 0-4 0-8-2-1 0 10 0-6-2 6 0-8 0 13-1 3 0-9-2 4 0-7 1 14-1-6 0 8-2-3-1-6-1 0 1 2 1 1-3 10 0-1 0 5 0-4-1-7-1 9-1-3 0 10 0-5-2-9-1 4 1 8-1 1-1 5-1-6-1 2-1 4 2-2-3-2 1 2 0 1-2-4-1-3 2 12-1-7-2 5 0-7 1 1-2 6 2 5-2-10 0 3-2 2 0 3 0 10-1-5 1-1-2-6 0 10-1 4 1-5-2-1 2 3 0-3-1 1-1 0-1 11 0-9-2 8 2-3-1-4-2 8 0-3-1 4 2-4-1 8-1 1 0-7-1 2-1 5 2-6-2 1-1 1-1 4 1 2 0 0-1 3-1-5 0 6-1-2 2 3-1-1 0-4-2 0 1 11 0-11 0 10-3-2 1-2 0 2-1 2 1 2-2 3 1 2 0 0-1 5 0-5-2 1 1-5-2 4 0 2 1-1 1 3 0 3-3-6 0 8 0-8-1 5 0 7 0-2 0 0-1 6 0-9-2 3 1-1 0 1-1 5 0-1 1 5-1 1 0 0-2 5 0 2 0-3 0-6 0 1-1 6 0-5-1 3 0 11-1-8 2 5-3 2 1-3-1-4 1 0-1 8-1-1-1 0 2 0-2 4 1-1-2 0 1 3 0 2-2-4 1 7-1-5 1 1-1 5-1-1 2-3-3 8-1-2 2 0-1-4 0 1 0 6 0-4-2 1 0 4-1-3 0 4 0-3 1-1 0 1-2 5 0 1-1 0 1-3-1 5-1-1 1 4 1-3-1 0-2 2 1 1-1 1 0 5-1-5 1 8-1-2 0 1 0 3 0-2-1 2-1 1 0 1 1-2-2 1 1 3 1 2-1-2-2 1 1 2 1-2-1 6 0 2-1-4 0 3-1-1 0-1 1 3-1 2-1-1 1 1 0-3 0 3-2 0 3 3-3 1 3 1-2-2 2 4-4 3 1 1 0-2-1-1 2-1 1 2-3 1 1 4-1-1 0-1-2 4 3 1-2 4 2-4-2 0 1 1-1 6 1-4-2 2 3 3-3-3 0 0 1 5-1-3 0 0 1 3-3 5 1-2 0-2 0 1-1-2 1 2 1 1 1 1-2 5-1-1 2 2-1 3-2-3 2 3-3 1 0-1 2-2 0 3-1 3 1-3-1 1-1 4 0-2 1 4 0-4 0 6 0-1-1 2-1 1 0 3 0-2 0-1 1 1 0 5 1-3-1 1-1 3 0 0 2 2-1 4-3 0 2-2 1 1-1 0-2-1 0 1 0 0 1 3 0 1-1-3 1 7 0 1 1-3 0 2-2 1 1 0 1 3 0 0-1 1 1 5-1-2-1-2 1 4-1 0 2 1-2 2 0-5 0 1 0 3 0 1 2-1-1 3-2 3 1 3-1 0 1 1 0-2-2 3 3-2-1 1 1-1 0 2-1-2 0 3-2 1 1 1 0 0 1 3-1-1-1 1 1 6 1-3-2 4 2 1-1-3 0 6 0-3 0 3-1 2 1-1-1-1 0 4 1 1 0-3 1 3-1 1-1-1 3 0-2-2-1 2 1 3-1 3 1 0-1 3 0 1 0-1 2-4-1 6-2-3 0 3 2 1 0 2 0-1-1 3 1-3-2-1 1 7 1-2-2-1 2 1 0 5-2 1 0 1 1-4 2 5-1-3-2 5 1 0 1-2-1 0 1 4 0 1 0-1 0-3-2 7 1 1 0-2 0 1 0-2 1-1-2 2 1 4-1 2 0-3 1 5 0-1-1-4 0 3 1"/>
<path fill="none" stroke="#e42620" stroke-width="2.6" stroke-linejoin="round" d="M710,546l0 1 4-1-4 1 2 0 2 0 2 0 2 0-1 0-3-1 7 1 0-1-3 1 2 0 3 0-2 0-1 0 6 0 1 0-3 0-1 0 4-1 2 0-4 1 1-1 0 1 3 0-2-1 3 1-1 0 2 0 3 0 4-1-2 1-3 0 5-1-4 1 6 0-3-1 0 1 3 0 2 0-1 0-3 0 6 0 1-1-2 0 1 1 2 0 1 0-2 0 4 0 1 0-2 0 7 0-4 0 2 0 2 0 3 0 2 0 2-1-1 1 1 0-2 0 1 0 2 0-1 0 3 0-2 0 5 0-1 0 3 0-1 0 4 0-2 0 2 0-2 0 1 0 1 0 2 0 3 0-5-1-3 1 6 0-9-3 10 1 4 0 7-1-15 0 16-2-10 0-4-1 17-1-18 0-1 0 11-3 4 1 2-1-7 1 15-1-15-2 3-1-3 1 26-2-8 0-6 0 11-1-10-1 6-1-8 1 11-2-10 0 16 0-7-1-4 0 13-1-5 0 2 0-8-1 7-2-6 1 5-1 7 0-13 1 9-3-3-1-1 3 7-3-10 0-1 1 10-2-1-1-7 0 12 1-4-3-9-1 8 2-3-3 2 1 12-1-10 0 16 0-2-2-14 1 1-1 4-2 4 1-3-2-1-1 14 0-2 0 1-1-6 0 0-3 2 2 8-1-6-3-9 1 5 0 7 0 3-3-7 2 12 0-6-3-4 0 4 0 6 0 1-1-9-2 9 0 7-1-6 0 9-1 5-1-5-1-2 1 0-1 0-1 0 2-2-4 9 0-17 1 2-2 12 0 4-2-8 0 16-2-12 1-3-1 15-2 0 1-7-2 2 0 2 0 3-3 4 0-9 0 2-1-1-1 8 2-12-3 5 0-3 0 16-1-13-3-1 3 6-1 7-1-12-1 10 0-9-1 15-1-8-2 8 1-11-2 9 0 0-1 6-1 6 0 7-1-17 0 2-1 14-1-17 0 3-2 8 1 6 0-11-2 9 1-4-2 10-1-8 1-3-2-10 2 9-4 6 1 8-3-12 2 16 0-10-2 2-1-4 0-6-1 5 1 11-1-7 0 6-1-7-1 5-1-1 0 4-2-5 1 16-2 1 0-8 0-4-1 13 0-9 0 7-3 4 3 3-1 0-1 4-1-15 1 1 0 15-3-13 1 2-1 1-2 3 2 3-2-12 0 7-1 5-1 6-2-7 3 7-2 0-1-8-1 11 1-2-1-1 0-5 0 8-1-4-2-7 0 4 1 0-1 10-1 1 0-6 0 15-1-3-1 0-1 1-1-9 0 2 0 8 2-2-4 3 2 4 0-8-1-3-1 8 1-6-1 1-1 11-1 3-2-11 0 5 0 0-1 4 0 9-1-4 0-5-2 5 2-3-3 2 1-4 1 2-1-1 0 1-1-3 0 0 1 7-3-1 1 9-1-13 1 9-3-2-1 0 1 7 0-6-1 9-2-8 2 8-1-1-1 1 0 3 0-2-1-2 0 8 0-2 0 2 1-3-2 4 0 0-1-2 0-5-1 3 2 7-1-3 0 7-2-3 1 2 0 2-1-3 0-1-1 5 1 3-1 0 1-3 0 3-2 4-1-1 0-2 1 3 1-2-3 0 1 6 0-4-1 3 1-1 0 4-1-4 1 5-1-2 0 5 0-2 0-2 0 1 0 1-2 5 1 0-1 1 0 1 0 2 1-5-2 3 0 1 0 2 0 1 0-3-1 4 1-4 0 7 0-1 0-2 0 2 0-1 0 4-1 2 1 1-1-4-2 7 2-1 0-1-2-2 1 1 0 5-1 3 0-1 0-5-1 5 1-1 0 1-1 4 0-1-1 1 0 0 1-2 0 2 0 1-1-1 0 6 2-1-2-1 0 1 0-2 1 4 0 2-1-2 0 6 0 0 1-4-2 5 2 2-2-5-1 0 1 1 1 3-2 0 1 1 1 2 0 5-2-1 2 2-3-1 1-5 0 5 1-4-1 3-1 0-1 5-1-3 1 1 0-1 0 1 0 3-1 3 1 2 0-1-1 2 1-1 2 2-2 1 0 1-1 3 0-4 0 1 1 1-2 2 1 1-2 2 1-2 0 1 2 0-3 2 4-1-3 4 1 1-2-2 1 4-1 1 2 2-1 0-1-2-1 3 0-2 1-2 0 2-1 1 0 1-1 4 1-1 1 0-1 3 0-4 0 4-2 0-1 3 1-1 1-1-2 2 0 1 0 1 0 3-1-2 2 4-2 0 2-2-2 5-1-1 3-2-2 6-1-1-1 0 2 5-1-2 1 1-2 0 1 2 0-5-2 3 1 0-1 5-1 1-1-5 1 1 1 5-1 2 0 3 0-1 0 0-1-1 0 1 1 0-1 0 1 4-1 0-2-1 0 1 1 2 0 2 0-4 0 2 0 3 0-2 0 5 1-4-1 7-2-4 1 0-1 4 1-4-1 4 1 2 0-2 0 2-1-3 0 2-1 0 1 4-1-1 1 1 0 4-2-2 1-3 0 6 0-3 1 4-1-2 0 3-1 1 1-2-1 2 0 3 0 3 0-3-1 2 0 0 2-1-3 3 1 4 1-5-1 3 0 3-1-4 1 6 1-3-1 4-1-2 1 2 0-4 0 4-1 1-1-2 1 3 1 3 0 1-1 2-1-4 2 0-1-1 0 5 1-2-2 4 2-3-1 4-1 1 1 2 0 2 0-1 1 3 0 2-2-3 0 5 1 0-1-2 0 4 0-4 1 5 0 1-2-4 1-3 1 8-1-2 0 3 1-4-3"/>
<path fill="none" stroke="#e42620" stroke-width="2.6" stroke-linejoin="round" d="M710,547l-2 0 2 0 1-2-3 2 2 0 2-1 0 1-2 0 3-1-1 0 1-1-2 2 5 0 1-1 3 0-4 1 4 0-1 0 3-2-1 1 1-1 1 2-2 0-1 0 5-1 2 1-1 0 1-1-1 1-3 0 1 0 0-1 1 0 2 1-1 0 3 0-1 0 1-1-1 0 2 1 2 0-1 0 2 0 1 0 3 0 0-1-1 0 0 1 3 0-6 0 4 0 3 0 1 0-1-2-4 2 2-3-1 2-4 0 13-2-8 1 3 0 14-1-5 1 7 0 0-1-11-1 12-3-11 2-1-1 2 0-10-2 1 0 7 0 14-2-2 1 2-1-8 1-6-2 12 0 1-1 11 0-2-2-2 0 1-2-7 1-5 0 18-2 1-1-8-1-13-1 21 0-7 0-14 1 26-3-19 1 2-2 15 0-7-1-10 1 18-1-14-2 12-2-5 3-1 0-12-1 3-3 4 1 6-1-5 0-5-2 8 1 1-1 4 1-10 0 4 0 2-1-12-3 8 2-3-2-1 1 9-1 6-3-6 2-3-1 10-2 2 1-4 1 4-1 8-3 3 2-12 0 9-1-9-2 7 0-1 0-4 0-12-2 15 0-3 0 6-2-8 1-3 0 11 0 5-3-3 0-16 0 1 0 11-1-3 0 11-1-3 1 4-1-7 0 13-2-11 0 10-1 5-1-8 1 6-1 2 1-6-3-9 0 14-2-3 1 2 0-2-2-2 0 4 0-2-2-6-2 3 1 10-1 7 0-5-1-15 1 10-2 2-1-13-1 5-1 13 0-14-1 12-1-19-1 7 0 15 0-5 0 6-2 10-2-13 2 7-2-6 0-5-2 14-1-8 1 1-3 1 0-5-1 8 0-12-2 15-1 5-2-6-1 2 0-2-1-5 1 10-3-7-2 3 0-5 0 7 0-6-2-2-1 15-1 4-2 6-1-15-1 7-1-11 1 9-1 15-1 0-1-15 1 13-1 3-2-4 1-6-1 14-1-11 1 8-2 4 0-4 0-1 0 2 0 1-1-1 0-7-1-2-1 4-1-3 0-6-1-2 2 16-1-14-2 8 0-3 1-7-1 5 2 8-2-2 0 5-2-4 1 5-1-9 0 6-1 8 0-2-1-5 1 10 0-4-1-6 0 7 0 1-1-6-1 8-1-4 2 9-1-15 1 12-2-4-1-6 1 1 0 10 0-3-2-2 0 11 0-11-2 1 0 5 0-9 0-2-1 1 1 10 0-1-2 8 1-7-2 4 1 6-2 3 1-1 0 2-1-3 1-9-1-2-1 15 1-2-1 0-1-1 1-3-2 10 0-3-1-8 0 8 0 2-2-3 1-3-1-1 0 9 0-8-1 12-1-9 0 5 0-6-1-5 0 10 0-2 0-5-1 15 0-9 0-5-2 9-1 5 2 3-2-6 1 4 0 0-1 5 1-9-2 12-1-3 0-7 0 10 1 1-2 7-1-9 0 2-1 3-1-11-1 2 0-4-1 11 2 7-1-2-1 7 0-11-1 9-2 0 2 4-1-1-2-13 0-5-1 7 0 10-1-9-2 3 1-15-2 8 0 8-2-11 0 10-2-11 1 15-1-17-1 14 0 10-1-15-1 1-2 15 1-7-2 13 0-18-2-4 1 7-1-7 1 0-3 9 0-2-1 13-2-7 2 0-2 7 0 2 0-16-3 14 0 4 1-13-3 12 1-1-1-3-1 10-1-8 1-3-1-4 0 14-3-12 0-1-2 13 2-4-2 8 1-12-3 2 2-1-2 1-1 14-1-14 1 10-2-9 1-1-2 9 0-4 1 12-2-8 1 7 0-12-3-4 1 6 1 17-3 4 0 1-1-8-1 8 0-5 0-11-2-2-1 4 2 4-1 2 0 5-2 4-1-1 1-1 0-3-2 5 0-4 2 5-4-19 0-2 1 13-2-2 0 0-2-7 1 17-1 6 1 0-2-3 0-9 0 0-1-1 0 14 0-17-1 4-2 11 0-1 2 4-3-7 1-3-2-1 1-1 0 8-3-9 0 3 0-1-1 7 0-6-2 6 2 6-1-4-1 1 0-8 0 14-2-6-1 4 1-9-1 7 0 17-1-8 0-9 1 4-1 6-1 4-2-8 1 4-2-1 1 3-1 1 1-13 1 17-1-9 0 2-1-2-1 9 0-1 0 1-3-2 2 3-1-3-1 6 1-1 0 1-1 0 1-3-1 2 0-2 2 6-2-1 1 0-2-2 1 2 0 2 0 1-1-1 0-1-1 4 1-2-1 2 1 3-1-1-1-1 1 2-1 1 2-2 0 2-1 3-1 1 1-1-1 4 1 1-1-3 0-2 1 3-1-3 0 1 0 0-1 5 0-4 0 4 0-5 1 4-3 2 1-1 2 1-2 2 1 0-1 0 1-2-2 4 0 0 1 0 1-2-1 6-1-1 1 2-1 1 0-3 0 5 1-6 0 4-1 1-1 1 1-3-1 4 2-1-1-1-1 4 0 1 0-5 1 5 1 1 0 0-1-3-1 3 2-2-2 2 1 5 0-1-2-3 1 1 1-1-3 5 1 1 1-3-2 1 3-2-2-1 1 2-2 3 1 4 1 1-1-2 1-4-1 5 1 1-2 3 0-3 2-1-1 2 1 2-1 1-1 1 0-3 0 3 0-2 1 2 0 3 1 0-2-1 1-1-1 7 2-3-1-1-2 5 1 1 0-2 0-2-1 6 1-3 1 4 0-3-2-1 1 0-1 1 2-1 0 2-1 1 1-1-1 2 1 4-1-5 1 4-1 2 0 2 0"/>
<path fill="none" stroke="#e42620" stroke-width="2.6" stroke-linejoin="round" d="M711,546l-4 1 4-1 2 1-2 0 2 0 2 0-1 0 0-1 5 1-1 0-3 0-1-1 4 1-4 0 6 0-3 0 3 0 3-1-3 1 4-1 0 1-2 0 2-1-4 1 5-1-1 1-2 0 2 0 2 0 5 0-2 0 2-1-2 1 1 0 3-1 0 1-6 0 7 0-4 0 4-1 0 1 6 0-2 0-2 0-1 0 1-1 2 1 4 0-2 0-3-1 4 1 5-2-3 1-2 0 1 1 6 0 1 0 0-1-1 1 2-1-3 1 2 0 4 0 0-1-2 1-1 0 2-1 4 1-3 0 3 0 4 0-3-1 1 0-2 1 6 0-3 0 3-1 0 1 2 0-1 0 4 0-3 0-1 0 3 0 1-1-4 0 4 0-1 0 5-3-6 2 5 0-5 0-4-1 2 2 5-2-11 0 7 0 9-2-14 0 3-1 13-1-9 1 9-2-2 0-7-1 5 0 8-1-1 1-6-2 8 0-3-1 13-1-5 0 8 0-2-2 7 1-8 0-11-2 12 2 0-3 4 1-11-1-6-1-2-1 7 0 4-1 8 1-6 1 6-1-5 0-9-1 11-1 1 0-3 0 0-1 2 0 10-3-4 1 4 0-16-1 8 0 5 0-1-1-1 0 6 1-3-1-3-1 9 1 5-1-2-2 3 1-14-1 1-1-1 1 2-3-2 2 10-1-7-1 8-1 6-1-15 1 1-1 12 1-13-1 1-2 6 0 8 0-12 0 6 0-1-3 9 2-8-2 3 0 9 0-4 1 1-2 5-1 5 0 2 0-13-2 6 1-4-1 11-1-4-1-8 1-2 0-1-1 1-1 11 1-5-1 3-2 1 1-3-2-6 1 14 0 1-3 0 2-5-2 11 0-4-3 5 1-6-2-4 0 15 1-13 0 8-3 3 1-13-1 4-1 11 0 1 0-2-1-11 0 12-2 2 1 4 1 5-3-5 1 1-2 3 0 6-1-8-1-8-1 0-1-6-1 0-1 18 2-7-1 7-1-10-1 19 1-14-1-6 0 14 0-2-2 14 0-19-2 7 2-5-2 11-1-1 2-2-3-7 0 5 0-3 0-11 0 22-1-4-3-3 1-9 0 13-1 0-1-10-1 14 0-3 0 1 0-8-2-5 1 6-1-10-2 16 0 2-2-9 1 4-1-12 0 28-1-16-1 25-1-15 0-3-1 2-1-4 1 10-2-2-1 7 0 4 0-9-2 10-1-7 1-9 1 9-1 4-2 0 1-2-1 6 0 1 0-7-1 6 0-4 0 4-2-5 0 3-2-6 2 15-1-11-1 6 0-1 0-12-2 16 1-7 0 7-1-16-2 6 0 8 1 1-1 5 1-2-3 2 1 0-1-14 0 11-1 4 1-10-2 10 0-3 0 9-2-4-1 5 1-7-1 7 2-3-2 1-1 2 0-6 0 14 0-3-1 1 1-12-2 4 1 7-1-4 0-4-2 5 1-1-2-2 1-2 0 2-1 2 0-2 0 7-3-11 3 13-2-9-2-1 1 11 0 1 0-5 0 13-1-6 1 3 0-3-1 4 0 3-2 2 1-1-2-11 0 17-1-3 1 7-1-8 0 4-3-3 0-2 2 4-2 2 0 5-1-9 0-9-2 11 1 6-1-4 2 6-3-9 0 12 0 2 0-3-2-9 1-5 0 10-1-3 0 14-1 1-2-4 1 3 0-4-1-2-1-17 0 12 0 5-1-11-1 4 0 10-1-16 0 4-2 18-1-7 2 2-2 1-1-11 3 5-3-7 1 19-2-11 0 10 1-4-4 12 1-9 1 6-2-8-1 9 0 1 1-11-2 7 0-3 0 2 0-1-1 3 0-8 0 14-1 1 0-2-1 4-2-1-2-11 2 11 2 2-1 7-3-10 0 12 0 3 0 2-1-4 0-11 0 11 2-5-3 1 1-4-2-1-1 6 0 4 2-3-2-3 1 4-2 7 0-5-1-4 1 11-1-11-1 1-2 9 2-3 0 10 1-9-1 0 1 0-2-2 0 7-1 3 2-2-1-3-2-3 0 7 0-7 0 2-1 4 0 3 2-2-2-1-2 5 2 1-2-5 2 4 0-4-1 4 0 1 0 2-1-4 1 6 0 0-3-4 2 6 0-7-1 5 1-2-1 0-2 0 1 4-1-6 2 3-1 2 0-1-1 0 1 0-1 1-1 2 1-3 0 4 0 3 0 0-2 3 2-1-2 2 0-1 0 5 1-3-1 4 0-5 0 3-1-3 1-1-1 4-1 3 1 1 0-2-1 4 0-3 0-2 2 3-3 3 1-1 0-2-1 5 0-2 0 1 1 0-1-3-1 2 1 1-1-1-1 4 1-2 0 4-2-1 0 2 0 4 0-2 1 5 0-2 0 2 1 0-1 1-2-1 0-1 0 2 0 3-1-1 1 1 1 1-1 0 1 0-3 1 2-4-2 4 0 2 2 1-1-4 0 4-1-2-1 5 1-4 1 5-1-2 0-1 0 6 0-1 0-5-1 3-1 0 1-1 0 2 1 3-2-2 0 2 0 0 1 4 0 1 0 2 0 0-1 1 0 1-3-1 3 0-1-1 1-1-1 4 1-2-2 2-1-2 2-1 0 5-1-1 1 1 0-2-1 5 0-3 0 4 1-4-1 5 1-2-1 2 1-1-1 4 0 1 1-1-2-4 1 3 0 4 0 1 1-2-1 1 0 0 1 4-2-4 0 4 1 1 0 1 0-1 0 4 1-3-1 2 1-3-2 2 1 1 1"/>
<path fill="none" stroke="#e42620" stroke-width="2.6" stroke-linejoin="round" d="M708,546l2 1 1-2 2 1-2 0 1 1 2 0 1-1-7 1 3 0 4 0-2 0-1 0 5 0 1 0 1 0-3 0 2 0-2 0 3 0 2 0-1 0 3 0-2 0-1 0 1 0 4 0-2-1 1 1 4-1-1 1-3 0 4 0-4 0 1-1 7 1-3-1 4 1-3 0-1 0 4 0-2 0 1 0 1-2-3 2 5 0 0-1-1 1 1 0 2 0-3 0 6-1-1 1 2 0-1 0 2 0-2 0-2 0 5-1-3 0 3 1-4-1 1 1 1-1 6 1-6 0 2 0 0-2 2 0-4-1-1 2 10 0-5-2 8 0-1-1 4 0 10 1-8-2 8-2-8 1 7 0-16 0 4-1 12-1-12 1 13-1-17 0 8 0 5-3-7 1-14 1 6-3-1-1 0 1 0-2 11 0-7 1 3-2 6-1 8 0-12 0 14-2 3-1 6 1-18-2-1 1 9-2 8 0 6 0-9 0 5 0-4-2 9-1-12 0 2 1-3-2 2 1 5-1 3-2-8 0 3 1-8 0 5 0-1-1 4 1-6-1 4-1-6-2 5 0 2 0 14 0-9 0-1-1 1 0 5 0-12-1 16-1-12 0 16 0-6 0-1-2-11 1 0-2 3 1-7-1 16 0-6 0 10-1-4-1-3 2 5-2-9-2 14 1-12-1 12-1-1 1 1 0-10-3 9 1 3 0-5-1 16 0-3 0-11-1 8 0-5-2 12 0-21-1 6 1 8-2-10-1 17 2-14-2 2-1 3 1-13-1 16-1 7 0-1-2-7 1-3-1 6-1-7 0 6 0-2-1 16 0-16-1 13-2 1 0-8 0 0-2 3 1 3-1-3 0 3-2 4 0 14 0-11-1-7-1 18 0-13-2 6 2-1-3-11 0 2 0 14-1-4-1-1-2-2 0 5 1 4-1-4-1 2-2-9 1 21-1-23-1 7 0-15 0 5-2 7 0 13-1 0-1-8-2-11 1 2 0 5-2-3 0 6-2 10 1 4-4 8 2-19-1 22-1-2 1-19-2 2-1-3 0-6 0 12-2 10 1-20 1 22-4-3 0-11-1-7 1 6-1 11 0-11-2 5 1-5 0-5-1 7 1-1-2 1-3 0 1 5-1-8 1 5 1-2-2 1 0 2-1-1 1 9-3-2 1 3-1 4-1 0 1 9 0 7-2-5 0-14 1 14-1 3 1-15-1 5-1-9 0 7 0 9 0 3-1-13-2 8 1 3 0-10 0 2 0-4-3-2 1 16 0-1 0-13 0 10-2 2 2 4-2-7 0-4 0 13 0-1 0 0-2 3-1-8 1 3-1 9 0-12-2 4 0 6 0-10 1 6-3 0 2-3-2 14-2-13 2 14 0-3-1-4 1 6-3-6 0-5 1 7-2-1 0-7-1-1 1 12 0-3-2 10 0-3 0-11 0 13-1-9 1 9-2-4-1 5 2-7-2-6 1 6-2 13 1-9-2 10 0-7-1-1 1 2-1-3 1 1-3 2 1 13-1-16 0 9 0 6 0-5-2-3 1-1 0 8-2-1 2 3-1-7-1-2-1 6 0-6-1-4 1 6-1 6-1-9-2 16-1-4 2 14-1-7-1-9 0-5 0 1-1 1 0 0-2 0 2 9-2-8 0 10 0-4 0 0-1-6-1 13-1-21-1 22 1-4-2-10 0 7-1 5 1-12 0-5-1 23 0 5-1-7-3 9 0-14 0-1 1 14-3 3 1-17-2 16 2 2-1-12-2 5 1-3-1 4-2 9 1-4-1-10 0 14 0-5-1-6-1 15-1-4 0-2 0-3 0-6 0 13-2-18 0 1 1 4-1 7 0-7-3-1-1-3 0 6 1-7 1 7-2-2-2 14 1-3 0 10-1-16-3 8 1-4 0 2 0-3 0 9-2-2 2 4-2 6 0-11-1-3-1-6 1 1-2 18 2-18-3 24-1-1 2-11-1 8-2 2 0-2 2 5-1-2-2-14-1 12 0-13 0 14-1-3 1 0-1-4-1 5 0 11-1-19-1 4 1 11 0-2-3 5-1 7 0-1 0 10 1-18-1-7 0 5-2-5 0 9 0 5-1 7 0-5-2-11 0-1 0 11-2-5 1 1 0 14-1-12 0 5-1-5 3 2-3-7 0 2 0 7-2 7 0-4 0-6-1 3 0 3 0-1 2-2-1 2-1-2 1-1-3 11 2-6 0 6 0 0-1-7-1 2 0 2 0-4 0 6-1-1 1 4 1-5-1 5-2 3 2-1 0-1-1 0-1 1 1-1 0-3-1 1 1 4-2 3 0-4 1-5-2 3 0 1 1 4 1 1-1-2-1 2 1-3 0-1-1 2-1 2 0 3 0 2-1-1 1-1-1 1 0-1 1 2-2 3 0 3 2-2-1 3 0-3-1 2 0-3 1 5-2 1 1-1-1-2 0-2-1 5 0-3 1 6-2-3 1 4 0-1-2 2 1 0 1 0-1 0-1-3 2 4 0 0-2-3 0 4 1 2-2-2 1 3 1-3 1 3-3-2 0 6 2-1-1 1-1-3 1 1 1 2-2 2-1 2 1 2 1-1-1-2 0 2-1 2 1-5-2 2 1 3 1 1 0-1 0-2 0 1 0 0-1 1-1 3 0 1 1 1 1-2-2 5 1 1 1 0-2-4 1 2-2 3 0 1 2 2-1-2-1 3 0-4 2-1-3 2 2 2 0 2-1-2 2 2-1 0-1-2 3 1-2 0-1 3 1-4 0 1 0 3-2 1 2-1-1-3 1 8 1-4 1 1-2"/>
<path fill="none" stroke="#e42620" stroke-width="2.6" stroke-linejoin="round" d="M710,547l-3 0 3 0 1-1 0 1 3 0-2 0-1-1 2 1 3 0-1-1 0-1-2 2 2 0 2 0-2-1 2 0-1 1 1 0-2 0 6-1-3 1-1-1 2 1 5 0-1 0 1 0-2 0 0-1-2 0 3 1 2-1-3 1 4 0-2 0 1 0 2-1-1 0 0 1 1 0 4 0-5 0 5-1-6 0-1-1 13 1-9-2-1 0 8-1 6-1-8 1-5-2 8 1-3 0-6-1 9-1-5-1 1 2 0 1-10-2-8-1 27 0-9-1-10 0 10-3-9-1 9 2 11-1-8-2 14 0-16 1 14-2-8 1 7-2-14-1 1 2 17-1-4-1 7-2-20 0 11 0-10-1 30-2-13 1 3-2-5 1 11 0-2-1-2 0-10-3 16 1-5-1 7 1-8-3-8 0 22-1-5 0 5 0 0-2-7 1-14-2-5 0 18-1-18 0 9 1 16-3 1 2-4 0 0-2 0 1-6-1-4-1 3 0 7-1-6-1 2 0 11-2-8 0 4 1 5 0 2-2 9 0-23 0 6-2 11 0-16 1 2-1-3-1 18-2-23 1 13-1 5 1 8 0-14-2 20-1-2 0 2 0-13 0-8-3 2 0 11 1-7-1 2 0 7-1-4 0 3-2-6 0 1-1 2 0-5-2-16 0 24 0-1 1 11-2 3 0 0-2-2-1-11 2-7-1 9 0-4-2 11-2-6 0-2 0 14-1 7 0-1-2-1-1-8 0-8 0-1-1 3-1-9-1-9-2 9 0 21-3 1 1-4-1-17-1 6-3 12 0-18 0 3-2 21-1-24-1 14-1 7 1-3-3-9-1 10-1-15-3 6 0 6 0 9 0 0-3-8 0 17-1-22-1 4 0 1-1-7-3 1 1-7-1 12 0 8-1 1 0-4 0 9-3 4 0-3 1 1-1-5 0 12-1-12 0 13-2-9 2-12-3 1 1 11 0-1-1 13 0-8 1-2-1 0-1-2 0-4-1 17-1-7-1 1 1-3-2-5 0 2 1 11-1 2 1 0-2 2 1-2 0-4 0 3-2-8 1 12-1-4 0-5-1 3 1 0-3 9 1-5 0 4 0 0 1-9-1 8-1 3 0 0 1 3-2-3 1-3 1 0-3-7 1 4 0 7-2-6 1 7-1-7 0 7 0 3 0-1-2-11 2 3-2-2 0-1 0 6 0 4-1 4 1-6-3-1 1 2 0-5 0 3-2 10 2 7-2-13-1 1 0 10-1-13 1 11-2-4 1 8-1-10 1 10-1-13 0 1-1 9-1 4-1 0 1 7-2-2 2-10-2 13 0-18-1 2 0 16-1-12 0 5-1-10 0 3-1 17 0 1-1-7 0-17-2 17-1-12 1 21 0-2-1-9-1 6 0 5-1-11 1 20-2 2 0-14-2 4 0 0-2-2-1 12 1-13-1-2 0 16-2-8 0 9 0-10 0-4-1 7-1-4 0 13-1 2-1-7-4-21 3 5-2 6 0 12 1-1-2-10 0-6-2 5-2 11 1 2 0-8-1 9 0-8 0 2-2-14 1 4-1 19-2-1 1-17-3 14 1-6 1 14-1-18-1 11-1-9 0-4-1 3 0-2-1 3-1 7-1 10-2-6 2 8 0-1-1-13-2 3 1 12-1 8-1-2 3-9-3-1-1-1 1-3-1 9-1 15 0-10-1-5 0-4-2 20 2-13-2-3-1-11-1 2 0-7 0 7 1 13-1-13-2 10-1 3 0 5-1-9 0-3-3 13 0 1 0 18 0-4-1-6-2 14 1-20-1 21 1-10-1-8-2-1-2 6 1-2 0-19 0 3-1 18-1-4 0-1-2-3-2 11 1 1-3 3 1-18 0-4-2 16-2-2-1-3-1 0-3 9 1-15 0 22-1-8-3 10-2-24 0 12-1-10 0 12-4-7 1-5 0 12-4-8-1 22-1-14-1-9 0 12-1 3-3-6-1 3-1 8-2 6-1-22-1 5-2 19-1-8-1 8-2 1 0-13-1 16-2 0-2-20-4 15 0-18-1 15-2-17 0 1-2 22-1-16-1-7 0-3-3 27 0-4-1 3-1 1-2-10 0 13 0-1 0 2-2-10 1-9-1 15-2-2-1-5 1 15-2-6 1 15-1-19 0 14-1-20-1 4-1 5-1 15-2-1 0-3 1 5 1-11-3-5 0-5 0 10-1 8 0-6-1-7 1 1-1-4 0 7 0-1 0 5-2 1 0-2-1-1 1 6-1 2 0-2-1 5 1-9-1 5-1 3 1-6 0 6-1 1 1-2-1 5 0 2 1-3 0 3-2-4 2-2-3 0 1 4 0-1-1 3 2-3-4 0 2 4 0-2 0 1 0-2-1 1 1 4 0-3-2-1 1 6 0-3 0 3-3 1 3 0-1 2 1-1-1 0-1-2 0 6-1-3 1 5-1-4 0 3 1-1 0-1-2 1 0-1-1 2 1 3 0 0 1 1-2-5 2 4-2 2 2-4-1 3-2 1 2-2 1 4-2-2-1-1 1 4 0 2 0 0 1 2-3-2 1 0 1-4-1 2 0 4 0 1 2-4-2 6-1-3 2-1-1 6 1-6-2 5 0-5 0 7 1-3 1-2-3 2 2 5 0-4 1 2-3-3 2 0-2 4 1-2-1 1 1 1-1 2 1 1-1 1 2-1-2-2 1 2 0 2-1-2 0 6-1-5 0 5 0 1 1 1-1-2 1 2-1 0 1 0 1 2-1-2 0-1 0 0 2-2-3 6 1-3 0 1-1 3 1 0 1 1 0 3-2-1 0-2 0 1 0 1 1"/>
<path fill="none" stroke="#e42620" stroke-width="2.6" stroke-linejoin="round" d="M711,547l-1 0-1-1 2 1 0-1 6 1-3-1 2 1 0-1-1 0 4 1-4 0 3 0-2 0 3 0 4-1-3 1 3 0 4 0 1 0-1 0-1-1 0 1 4 0-2 0 5 0-4 0 4 0 2 0-3-1-2 1 4 0 2-1-2 1-1 0 4-1-2 1 4-1 2 1-1-1-1 0-1 0-1 0-1 0 10 0 4-2 5-1-17 0 14-1-15 0 1-2-6 1 21 0-8 0 10-3-5-1-7 0 5-1 2-2-5 1-2-3 16 1-10 0 6 0 11-3-4 0-8-2-3-1 10-1 0 2 16-1-14-1-3-2 9 0-13-1 5 0-7 0 11-3-3 1 3 0 8-2-5 1 1-1 7-3-7 1 1 2-8-3 7-1-6 0 4-1 7 1-9-2 12-2 1 0-7 0 11-1-10 1-2-3 13-1-5 2 7-1 4 0-16-2 13 1-1-3 3 2 1-3-6 0 9 1-7-3 4 1 6 0-13-3 21 1-11-1 1-1-2-1 9 0 1-2 1 1-11-1 17-1 7-2-12 1 13-3-11-1 4 1-23-1-5-1-1 0 21-1-17-2 6 0-4-2 18 0 5 0-4-2-13 0 25-1-12-2-6 0 18-2 9 0-17-1 5 0-2-3 3 0 14 0-5-4 2 0-7 1-2-3 9-1-3-3-10 0-3-1 22-1-21-1 9-1 1 0-2-1 9-1 6-2-7-1-6 0-9-2 16 0-10-1 11-1 8 1-4-1-12-2 6 0 7-1-16-2 13 0 1 0-11 0 11-2 11 1-4-2-10 1 10-1 1 1 2-2 1 0-7-2 6 2 6-3-11 1 7-2 3 0 1 1 4-1 0-1-4 0 4-1-3-1 3 1-9 0 13-1-5-1 7 0-6 0 5 0 5-1-6-1-4 0 5-1-4 0 8 0-4-2 2-1-1 1-8 1 9-2-5-1 17-2-2 1 4 0-4-1-8 0 13-1 1-1 3-1-7 0 0 1 1-2-6-2 1 1 2 2 5-3-9 0 3-1-1 1 1-1 3 1-3-1 9 1-4-3 16 0 1 0-7-2 6 0-1 0-4-2 5 0-3-1 7-1-16 2 7-1 9-1-13 0-3-1 19 0-18 0 10-2-10 0 4-1 10-3 3 1-18-3 2 1 7-1 6 0 4-1-18 0 8-2-7-2 20-1-9-2 5 1 5-2-14-1 1-1 19-2-8-2 17-1 1 1 0-3-12 0 20 0-11-2-2 0-13-1 22-1-24-1 20-1-8-1 23 1-19-1 6 1 12-3-10-2 2 1-5-1 1-1-10 0 18-1 7 2-21-4 3-2 1 1-1-1 11 0-10-1 5 0 8-1-11 0-2-2 11-1 1 0-3 0-2 1 0-3 7 2 11 0-13-2 4-2 9 1-7 0 3-1 3-2 1 0-6-1 12 2 3-3-1 0-2-1-6 0 1-1 6 1-6-2-5 1 12-1 1 0-8 1 0-3 11 1-10-2 10 1 3 0-12 0 2-3-1 0 0 2 3-2 8-1-6 0 3-2 0 2 3-4 6 2-1 0-4-1 9 0-7-1 5 0-7-1 8 0 1 0 3 0 1 0-9-1 12 1-8-2-2 1 4-2 0 1 0-2-1 0 6-1-2 2-5-2 5 0 1-1 1 1-3-3 2 1 6 0-5-1-7 0 2-1 2 1-2-2 4 1 1-1 6-1 4 2-2 0-4-1 2-1 3 0 7 0-4 1 4-3-3 0 1 3 4-3-3 0 4 1 3-2 2-1-6 1-1 0 3 0 4 0-2-1 4 0-6-1 7 1-4-1-1 1 3-1 2 1-1-1 2 0 2 0-3-1 6 0-1 1 0-1-1 2 2 0 2-1-3 0 3-1-1 0 5 0 1 0 1-1-1 0-1 1 3-2-1 0 1 1 3-2 0 2-4-1 2 2 0-2 4-1 0 2-1 0-1-1 3-1 1 0 1 1 3 0-4-1 3 1-1-1-1 0 0 1 1-3 3 3 5 0 0-2-1 1-4-1 3-2 5 3 1-2-2 1 0-1 4 0 1 1-5 0 5 1-4-1 1-1 2-1-1 1 2 1 1-1 2 0 3 2 0-3 2 0-2 0 0 2 3 0 0-1-2-2-1 1 6 1-2-1 4 0 1-1-2 1 1 0 3-1-2 0 5 1-3-1 2-2-2 1 6 0-6 1 5 0-4-1 3 2 5 0-1-1 1 1 0-2 2 0-2 0 2 0 3-1 1-1 1 2 0-1-2 0 2 1-4-1 2 1 2-1 4 1-5 0 4-1 0-1 4 3-1-2-2 0 6 1 2 0 2-1-5-1 1 1 4-1-1 0-2 1 2 0-2 1 6-2-2 0 0-1 3 0 1 0-1 1 3 1-2-2 3 1-1 0 1 0-3 0 2 1 2-2 2 0-1 0 0 1 4-2 0 2 4 0-4-1 2-1 2 2 0-1 2 2 3-2 1 0-4-2 1 1 2 0 0 2 2 0-2-1 5-1 2-1-5 2 4 0-3-2 2 0-2 1 3-1 4-1-5-1 0 3 3-1 1 0 3 2 0-2-1 2 6-1-1-2 2 1-3 1 1-2 1 0-3 1 5 2-5-3 4 0 1 0-3 0 2 0 2 0-2 0-1 1 7-1-1 1 0-1 4 0 0-1-1 0-1 1 0-1 6 1 0-1-1 2-2-1 4 0 3-1 0 1-2 0 2 0-4 0 3 1 3-3-3 2 2-1-2 0 6-1-4 2 3 0-1 0"/>
<path fill="none" stroke="#e42620" stroke-width="2.6" stroke-linejoin="round" d="M712,547l-3 0 2 0 0-1-2 1 2 0 1 0 7 0-1 0-4 0 3-1-3 0 2 1 3 0-1 0 3 0-5-1 5 1-1 0 2 0 2-1-3 0 0 1 6 0-1 0-3 0 4 0 1 0-2 0 3 0-5 0 4 0-4 0 6 0 1-1-2 0 3 1 1 0-1 0 4-1 0 1-2-2 5 1-3 1 1 0 1 0 2 0-2 0 1 0 4 0-5 0 1 0 2 0 1 0 3 0-3 0 3 0 2 0-1-1 2 1 4 0-2 0-3 0 4 0 2 0-2 0-2-1 7 1-3-2-3 1 1 0-1-1 8 1 2 0-8-1 2-2 7 2 0-1-9 0 5-1 5-1-18-1 7 0-7-2 10 0 11 2-2-2 3-1 7-1-20 0 10-2-12 1 22-1 5-1-1 0 1 0-3 0 6-1 0-1-20-2 20 0-15-1-2-2 14 1 2 0-12-3 4 2 0-1 8 0 2 0 1 0-14-1 2 1 14-2-5-1-6 1 14-2 3 0-7-1 6 1-7 0-2-2 2-1 7 0-1-2-6 1 8-1-15-1 5 1 8-2-9 1 2-2-1 0 7 0-3-2 4 2-4-3-2 1 3-1 2 1 8 0-12-2 8-1 4 0-5 0-3-1-7-2 17 0-6 0-4-1 1 0-3-1 1 1 8-1-6-1 14 0 3-2-2 1-4-1 7-1 0-1 13-1-6 0 1 0-9-1 3-2 18 0-3 0-3 0-8-2-12-1 13 0-10 0 14-2 11 1-18-2 21 2-17-2 1-1-7-1 10-1-4 0 10 0-4-2-9 0 11 0 11-2-17 0 13 0-7-2-3 1 3-3 9 2 2-1-6-2 12-3-11 1 3 1 15-2-7-1-7-1 6 0-14 0 12-1 6-1-11-3 19 2-19 0 12-2-4 0 15-2-21 0-3-1 24-1 3 0-25-1 11-1-9 0 16-1-7-1-5-1 14-1-11-1 2-1 8 1-16 0 6-2 14-1-15 0 4-1 1 0-4 1 3-2 1 0 7-2-3-1 6 0 8-1-12 1 8-1 9 0-3-1-3-2-6 1-1-2 12 0-2 0-6-1 0 3-2-2 2 0 11-2-10 0 2-2 0 1-4 0-2-2 8 1 1-1 10 0-9-1 6-1-1 0 2 0 14 0-5-1-10-1 12 0-16 0 15-1 0-2-9 2 0-2 13-1-2 2 1-1-12 0 13-2-8-1-4-1 3 2 10-1-10-1 0-1-3 0 1 0 13 0-8-1 15-1-11 0-1-1 10 0-9-2-1 1 14 1 1-2-15 1 4-2 4 0 3-2-3 2 5-1 10 0-5-3-2 1 3-2-5 0 3 1-9-2 12 0-1 0-4 0-1 1-5-3 18 1-8 0-4-2 2-1 14 0 0-1-4 0-6-1 3 0 1 0 18 0-3-2-1 0-16 0 10-2 9 0-6 2 1-2-11 1-5-3 15 1-11-1 5 0-1-2 0 1 11-1-6-1 9-1 10 1-9-2 5 1 2-1-4 0-12 1 8-3-1 2 3-2 2-1-2 1 5-3-3 0-9 2 15 0-5-2-6-2 10 1-2-2 1-2 0 2 5 0-2-2 3 1 4-1 1 0 4 0 3-1-7 0-10-2-1 1 13-1 4-2-14 1 0 1 13-2-12-1 10 0-1-1-5-1 9 0-8 0 1-1 1 1-2 0 2-3-5 0 8-1 6 3-7-3 4-1 11 2-3-1-13-1 3 1 15-1-11-1 3-2 4-1 3 2-18 0 16 0 2 0-16-3 0-1 3 0 12 0-3 1 1-2 8-1-11 0 4 0-2-1 11 1-14-1 8-1 1 0-8 0 15 0-11 0 11-2-8 0 14-1-6-1-3 1 8-1-2-1-7 3 5-1 3-2-9 1 7-1 2-1-6-1 3 0 12 1-7-2 11 0-2-2-10 1 3 2 3-4 0 1-2-1 2-1 11 0-2 1-9 0 7-1 2 0-6-1 4 0-1 0-1 1 6-1 1-1-1-1-5 1 8 0 0-2-4 1 5-1-5 0 5 1-2-2 3 0 4 1-6 0 2 1 1-2-1 0 8 0-5-1 4 0-1 0-1-1 2 2-2-1-1-1 5 0 1 0-6 0 4 0 5 0-1-1-1 2-3-1 2 0 3 0 2-1-6-1 4 1-3-1 0 1 6-1-2 1 0-3 1 2 5 2 2-4-2 2 2 0-3 0 5-1-2 1 3 1 2-3 2 2-2-2-3-1 0 1 3 0-1-1 1 1-1-2 2 2 1-1 5 0-2 1 2 1-4 0 4-3 2 2 1-3-4 2 3 0 0 1 3-2-4 1 4-3-1 2-4 0 3 2 3-4-1 1 5 0-4 0 5 1-2-3 0 1 2-1 2 2 2 0-3-2 0 1 3 0 0 1-4 0 4-1-1 0 5-1 1 1-3 1 2-1 2-2-1 1 2 0-3 1 5 0-4-2 3 2-3 0 2-1 4 0 2 0-3 0-1 0 5-2-5 2 1 0 5-1 2 1-3-1 5-1-3 2-1 0 2 0 0-2 7 1 0-2-2 2 2-1 0 1-1-1 0-1-1 2 5 0-2 1 3 0-1-3 3 2-3-2 1 0 3 2 2-1-3 0 4-1-4 0 2 0 2-1-3 2 6-1 0-1-1 0 0 2-1-1 1 1 4-1-4 1 7-2-1 0-4 1 6 0-3-1 4 0-2 1 5 0-4-1-1 1 4 3 1-3 1-1-2 2 2 1-5-3 2 0 3 2 0-1 5 0-4 0"/>
<path fill="none" stroke="#e42620" stroke-width="2.6" stroke-linejoin="round" d="M708,547l-1 0 1 0 1 0 4 0-2 0 1 0 4 0-3 0 4 0 3 0-1 0-3 0 3 0 0-1 3 1-2 0 5 0 2-1-5 1 5 0-4 0 4 0-3-1 1 1 3 0 2-1-4 0-2 1-1 0 3 0 0-2 3 2 2 0 1 0-2 0 5 0-2 0 4 0 1-1-5 1 5 0 2 0-4 0 6 0-3 0-1 0 1 0 6 0-5 0 1 0 5 0-4 0-1-1 3 1-2 0 1 0 5 0-4 0 4 0-2 0 1 0 3 0-1 0 2 0 2 0-1 0 3 0-2 0-3 0 7 0-1-1-1 0 5 0 1-1-2 2 1 0 2 0-3 0 1-1 2 0 3 1-4 0 7-3-11 3 8-2 0-1 9 0-12 1 6-2 9-1 7 0-2-2-13 0 7-2-11 1 7 0 16-1-19 1 7-2-9-2 20-1-4-1 0 1 4-1-8 0-11 0 8-1-5 0 7-1-4 0 10-1-3 2 5-4 8 0-16 0 10 2 3-2 8-2-2 2-12-2-2-1 17 0-13 1 7-1-4 0-5-2 16 0-9 0-8-1 16-2-3 2 0-2-7 1 10-1 5 0-8 0 7 0 0-2-10-2 13 2-1-2-15 0 10-2 9 2-15-1 0-1 8 2 4-2-6-1-4 0 8-1-1-1 1 0-9 0-1 1 5-3 11-1-11 1 2-1 2 0 6-1 8-1-12 1 12-1-1-1-1 1 5-1-6-1 7-1-12-2 11 0 6 0-18 0 16 1-13-1 5-2 12-3-9 2 4 1 11-2-5-1 5 0 2-1-5 1 7-4-5 2-2 0-4-2-3 1-4-1 3-1 19-2-13-1-3 0 17-1-2 0-7 1 2 0 3-2 4 0-13-3 14 1-5-1 15-1-24 0 4-1-9 0 12 0 3-2 7-1-14 1 17-2 3 2-11-2 4 0 1 0-4-1 7-2 13-1-17 0 17-1-7-1-4 0-7-1 4 2-2-2 6 0 12-1-1-1-6-1-12-1 11 0-8 0 4-1 2 0 0-1-1-2 5 1 3 0 11-2-13 1 22-2-7-2-16 2 1-4 1 1 8-1 0 2-7-3 8 0-4-2 3-1 0 3 1-4-11 1 4-1 2-1 9 1 9-2 1 0 5-1-6-2 2 1-17 0 14-3 2 2-5-1-13-1 3-1 1 2-4-3 12 1 4 0-6 0 7-2-4 0 3-1 5-2-2 3-1-1-2-1-1-1-2 0-1 0 11 0 1-1 4-1-8 0 5 0 2 0-2 0-7-1-1 0 10 0 3-2-9 0 10 1-3-2 9 1 4-1-9 1-1-1 2-1 3 1-5-2 4 0 7-1 7-2-9 3-6-1 4 0 2 0-9-3 18-1-2 1 4 0-1-2-9 1 6 0 6-1 2-4-1 2-7 0 3 0-3-1 13-1-9 0-2 0 8 0 2-1 1-3 1 1 1 0-3 0-2 0 3-1 3 0-8-2 12 2-2 0-10-2 14 0-10-1 8 1-11 0 10-2-10 0 8-1-3 1-2-3 1 2-6-1 5 1 8 0-8-1 8 0 4 0-5-1-1-2-1 0 11-1-8 2 8-2 1 0 1-2-2 1-1 0-4 0 0 1-1-2-2 0 14 0-3-2-7 2 0-1 12-1-7-1 9 1-2-1-6 0 2-1 9 0 2 0-6-1 4 1-4 0 8-2-3 1-1-1 1-2-3 3 5-2-7-1 12 1-6-1 1-1-6 2 7-1 3-1 1 0-4 0 2-1 3-1-1 1 3 0 3-3-7 0 5 1-2 0-3-1-1 0 4-1 0-2-1 3-2-2 7 0-2-1-4 0 7-1-1 1 8-1-7 1 3-1 5 0-2 0-2 0 1-1-1 0 8 0-11-1 0-1 3 0 0-2 11 3-7-2-1 1 1-1 8-1 2 2-5-1 1-1 1 0 4 0-5 0 6-1-7 0 6-1 2 1 3-1-9 1 3-2 4-1-4 0 6 0-9 1 5-1 2 0 1-1-1 1 2-1 5-1-3 2 0-1 1 0-2-1 1 1 5-2-2 0 8 1-1-2 2 1-2 0-4 0-1-2 9 1-5-1 2 0 0 2 1-2-3-1 4 1 4-1-1-1-2 2 7-1-4 0 2 0 2-2 3 2-6 0 2-1 0-2 5 1-2 1-3-1 0 1 2-2-1 1 3 1 2-3 2 0-2 0 1-1 2-1 0 1 1 2-3-3 1 0 5 0 0 1 1 0 0 1-1-1 4 1-1-1-1-1 2 0 3 1 1 1-5-2 5 1 0-1-4-2 1 2 3 0-2 0 4 0-2 0 3 1-2-1 1-1 3-1 2 1 1 0-2-1 0-1-1 0 1 2 6-1-1 1-2 0 4-1 0 1 1-2 1 0-3 1 1 0 7-1-3 0-3-1 0 1 3-2 2 3-3-1 3 0 1-2 3 2 0-1-3 0 2 0 1-1-2-1 4 2-3-1 5 1 1-1-2-1 2 3-4-2 5 2-1 0 1-3-2 1 4-2 3 1-2-1 3 2-5-1 3 0 4 1-5-1 1 1 5-1-3 2 0-3 2 2 2-1 0-2 1 2 2 0-2 0 7 1 0-1-3 0-4 0 1-1-1 0 3 1 3 0 0-2 0 1 2-1 0 1 3 1-2-2 0 1 1 0 3-1 1 3-1-2 1 0 1 1 0-1-1 0 3 0-1 0-1-2 3 1 3 1-3-2 3 1 2 1 1-2-1 0-2 2 5-1-2-1-1 1 4 1"/>
<path fill="none" stroke="#e42620" stroke-width="2.6" stroke-linejoin="round" d="M712,547l0-1 1 1 1 0-1 0 1 0-2-1 3 1 6 0-3 0-1-1 1 1 3 0-1-1 2 0-3 1 3 0 2 0-4 0 4 0 1 0-1 0 2 0 5 0-8 0 7 0-3 0 4 0 2 0-4 0 2-1 4-1-3 1 2 0 1 0-4 0 9-3 0 2 1 1-7-2 14 0-12 0 11-3 8 1-20-1 6 1-4-2 7-1-4-1 9-2-2 2 7-3-14-1 0 2 5-3 17 0-20 0 22-2 0-1-15 0 0-1 16 0-3-2-5-1-2-1 7 0-11-1 13 0 4-1 4-1-15 0-9-1 15-2 6 1-1-1-9-1 1 0-5-1 11-1-1 0-14-2 20-1-13 0 6 0-6 0 7 1 7-3-6 1 8-1 0-1-4-1 8 1-8-2-9-1 3 1 16-3 8 2-17-1 10 0-6-2-3 0 17-3-4 1 0-3-10 2 15-1-14-1 1-2 10 2-1-2-4-1 3-1-10 0 6-2 2 0 3 0 0-1 9 0-2-1 5-2-8 0 0-1 14-1-5 0-10-2-8-1 16 2-6-4 12 0 9 2-20-2 5-1 3-2 2-1 17-2 4 0 0-1-10-1 9-1-12 1 0-2 4 1-14-4 17 0-2 0-13-3-8 1-1 0 9-4-13 1 15-1-8 0 11-3-10 1-6-2 20-1 0-2-6 1 14-2-13-1 7 0 10-2-5-1 3-1 5 1-8-2-9 0 0-4 13 0 2 0-6 0-3-1 12-3-3 2-3-2 19-2-7 1 0-3-6 1-1 0 20 1-4-4-19 1 11-2 0-1 6 1 2-1 4-1 1 1-6 0-1 0 2-2-9 1 2-3-3 1 11-2-6 0 1 1-2 0 5 0-4-2 3 0 6 0 6-2 0 1 0-1-9 1 9-1-4 0-4-1 11-1-11 0-2-1 11 1-4-1-2 0 8 0-4-2 3 0-6 0 3-1 8-1-7 1 12-1 3 0-6-1-5 1 8 0 4-1 8-4-17 3 7 0-7-2-4 0-2 0 20 0-4-2-20-1 16 0-5-1 5-1-11-1 8 0 4 1-5-1 16-1-5-3 4 1-11-3-3 0 11-2 3 0 6 0 2-2-4 1-5-2-2-1 4-1 6 0-2-1 5 0 2-2-12 0 6 0-10-1 3-2-4-1 29-1-6 2-13-2-5-1 11 0 11-1-16-2 17 0-11 0 6 0 0-3-9 0-2 0 19-2-2-2-1 1 4 0-3 0-5 0 11-2-5-2-17 1 8-1 2 0-8-1 17-1-13-1 2-1 10 1-2-2 8 1-15-1 11-1 5-2 4 0-7-2 11 1-5-1-3-2-8-1 26 1-22 0 9-1 0-3 19 1-12-3 13 1 5-2-20 0 15-1-8 0 0-2-3 0-10-1 5-1-2-2 21 1 2-4-10 0-8-1 0-1 3-2 3-2 14 2-8-3 2-1-17 1 14-2 7-1-4 0-1-2-6 1 7-3 6-1 2 0-15-1-2-1 20-1-1 2-10-3-2 1 6 0-8-1 4 0 6-2 4 1 3 0-5-1 10 1-8-3 7-1-5 0-5 0 16-1-11-1 9-1 4 1-9-1-5-1 6 1 0 1-3-1 3-1-1 0 1-1-5-1 13-2-2 3-5-2 4 0-2-1-2 1 5-1-1 1-2-3 8 1 1 1-8-2 8 1-1-2 2 1 8-1-9 1 6-3 2 1-4 1 2-1-5-1 12 0-7 0 3-1 7-1 1 1-6-1 5-1-1 0-1 0-3 0 2-1-1 1 5 0-4-1 10-1-7 1-1 0 5 1-1-3-2 1 2-1 4 0-3-2 0 2 1-1 3 0-2 0 8-1-7 0 5 0 4-1-6 1 2 0 4 0-4-2 7 1 0-2-1 2-5-2 1-1 3 3-2-2 4-2-1 1 3 0 0 1-2-1 1-2 8 3-3-1-3-1 2 1 1-2 1 1-1-1 3 2-1-3 1 2-2 0 4-2 4 0-2 1 3-1-1 0 2 0-3-1 2-1-1 1 1 0 4-2 0 2-1-2 2 0-2 2 2-2-1 2 2 0 0-2 4 1 0-2-1 0 5 0-4-2 0 3 3-1 2 0 1-1 0 2-4-2 3 0-1-1 1 1 7 0-4 1 5 0-2-2 0 1 2 1 4-1-2-1-2 0 5 1-2-3-3 2 1 0 4-1-3-1 6 1-4-1 2 1 0-1 2 0-3 0 1 0-1-1 3 2-2 0 1-3 2 2 4-1 3 1 0-1-4 1 1 0 4-1-2 0 3-1 0 1 2-1-1 0 1 1 2-1 5 0-3-1-1 1 3-1 3 1 0-1-4-1 4 0-1 2 2-2-2 0 3 2 1-1-2-1 3 1-3 0 4-2-1 0 5 1-2 0-3-1 5 1-2-2 4 1 1-1-1 0 3 1-1 0 4-1-2 1 1-1 4 1 0-1-1 1 0-1-1 1 4-1-3 0 1 0 5-2-4 2 5-1-3 1 5 0-2-1-4 0 7 0-1 1-1-1-1 1 2-1-1-1 6 1-3 1 0-2 4 0 0 2 0-1 5-1-3 0 2 2-3-3-1 0 0 1 3-1 4 0-2 1 1 2 4-2-2-1 3 0 1 1 2-1-3 0 3-1 1 3 0-2 1 1-1-1 0 1 3 0 2-3 1 2-4-2 0 2 0 1 4-1-3 0 6 0-2 0-4 0 2-2 6 2-4 0"/>
<path fill="none" stroke="#e42620" stroke-width="2.6" stroke-linejoin="round" d="M711,547l-2 0 1-1 1 1 3 0 1 0 1 0-2 0 2 0-4 0 4 0-2 0 4 0-1 0 1-1-1 1-1-1-1 1 2 0 1 0 0-1 3 1-1 0 2 0 3 0-3 0 5 0-1 0-1 0 2 0-4-1 2 1 2 0 2 0-4-1 6 1-2-1 2 0 3 1-1-1-3-1 0-1-3 0-7 0 5-2 4 1-5-2-6 0 5-1 2 1 17 0-4 1 6-3-10 0 8 0-11-2 7 0-7-2 1 0 21-1 8 0 4 0-3-1-15 1 9-1 4-2 4-1-24 1 6-2 13-1 3-1-1-1-9 1 7 0 0-3-7 1-11-2 5-1-6 1-2-2 19-1-10 0 21 1-9-1-9-1 3-1-7 0 4-1-6 0 7-1 1 0-1-1-10-1 4 0 13 0-9-2 5 0 4 0-10-2 18 2-11-2 1-1 16 0 6 0-21 0 11-1 0-1-14 0 13-1-10-1 9 1-3-3-4 0-10-2 3 2 11-1 8-1 11-1 5 0-23-1 4 1 21-1-12 0 0-2 4 1-6-1 1-2 16-1-2 0-7 0-1-3-10 2 25-1-1-2 11 1-25 0 24-3-21 2 15-2-1-2-14 0 16-1-10 0-2 1-7-3 4-2 3-1-4 0-9 0 22-2-22 0 15-1-4-2 5-1 9-1-8 1 3-1 5-2-5 0 11-2-15 0 15-4-10 0-2-1 3-1-11 1 10-2 7-1-18-1 18-2-16 0 11 0 0-1-8 0 10 0-18-1 15-1 3 0 4 0-4-2-4 0 1-1 14 0-16-1 1-1 10 0 5-1-13-1 21 1 5-1-16-1 20 1-21-1 20-2-12 1 3-2 0-1-9 1 15-1-13-1-2 1 13 0-11-3-7 2 17-1 5-1-14-3 7 2 5 0 2 0-9-2 1 0 11 0 1 0-3-1-6 0 6 0-3-3-4 2 18-1-9-1-2 1-6-2-2 0 11-1 7-1-8 0-3 1-3 0 15 0 3-2-14-1 11 0-7 0 18 0-4 0-2-2-5 0 10 0-8-2-4 1-6 0 1 0 8-1 2-1-9 0 6 0-6-3 9 1 4 1-5-1 6-2-2 0 0 1 2-1-1-2-1 0 12 1-10-1 3 0-2 0 7-2-1 0-5-1 7-1 3 1 1 0-9 0-4-3 10 1-3 1 3-2 3-1-10-1 11 0-11-1 6 1 8 0 1 1-3-3-2 1-7-3 11 2-16-1 16 0-15-1 15-1-3 0 0-2 10 3-9-3-4-1 14 2 0-1-4-1 1-2-1 0-1-1 17 0-12 0 8 0 6-1-8-1 1-1 9-1-19 1 4-2 15 1-16-2 5 0 15-2 2 1-13 0-4-3-7 0 4-1 8 1-10-1 17-1 1-1-3 1 2-3 13-1-13 1-2-2-1 1-2-3-4 0 13 0 6-2-15-1 6-1 12 1-23-1 14-1-20-1 11-1 1-3 16 1-22 1 4-2 10 0 9-1 0-1-17-2 16-1-4 0 6-1-15 0 16-1 11-2-13 0 4 0-12-2 9 0-9-1 5-1-3 1 11-2-9 0 6-1 7 0-7-2 2 0 9 0 1-2-15 0 19-2-19 2 14-2-19-1 6 0 14-2-17 0 1 0 13-3 3 0-10 0 18-1-12-1-9-1 19-2-7 0-14 0 22 0-11-3 1 0 13 1-18-4 17-1-1 1-13-3 2-3 8 0-16-3 21 0-19-1-1-3 6 1 23-4-7-1 2-1 2-1-14 0 17-3-1-1 7-2-19 0 10-1 1-1-9-1 9-1-4 1 10 0-1 0-3-1-1 0-5-1-2-1 8 1 1 0-4 0 2-2 1 0 7 1-7-1 6 0 1-1-3 0 3 0-2 0 3 0-4 0 6 1-2-2 5 0-5 0 6 0 3-1-5-1 5 2-2 0-5-3 3 0 2 1 1-1-4 2 5-2-4 0 0-1 8 1-6-1 6 1 0-1 4-3-10 2 1 0 2 1 0-1 0 1 6-2 3-1 2 2-6-1 9 0-1-1-1 0-5-1 4 0-5-1 10-1 1 1-6-1 1 1 6 0-4-1 7 1-10-1 8 0 0-2-3 2 1-1 6-2-5 2 2 0 2-1-4 0 2-2 3 0-2 0 0 1-1-1 7 1-4 1-1-2 2 0-2 0-2 0 4-2 0 2 2-2 3 0-2-2 3 2-1-1 2 0 1 1-1-1 1 1 0-1 2 0 0-2-3 3 2-1-1-1 3 0-3-1 5 1 2 0-3 0 4 0-5 0-1-1 4 0-2-1 1 2 1-1 4 0-3 0 3 2 0-2-1 0 3 1-1-2-2 0 3 0-1 0 5 0-3-1 0 2 3 0 0-2 3-1-1 0-2 1-2 0 2 2 3-3 2 0-3 1 5 0-3-1-1 0 5 1-3-2 3 1-4 0 3 0 4 0 2-1 0 1 1-1 1 0 1-1 1 0-2-1 5 2-6-2 1 0-1 1 4 1-2-1 0 1 3-1-1-1 4 0-4 2 1-1 4-1-3 1 5-1-2 0-1 0-1 0 0 1 4-1 3 1-2-2 0 2 3-1 1-1-1 0-3 2 1-1-2 0 6 0-5-1 8 0-3 0 0 1 1-2 6 2-5-2 3 0-2 0 1-1 4 3-4-1-1 0 4 0-2 0 5-1 0-1-2 1 1 1-1 0 2-1 3 0-2 0-1 0-1 0 2 0 2 1 1-2 3 1-4 1 4-1-3-1 3 1-2 0 3 0 3 0-1 1-5 1 3-1 5-1-5 0 4 0-2 1 2 0-1 1"/>
<path fill="none" stroke="#e42620" stroke-width="2.6" stroke-linejoin="round" d="M712,547l-1 0 1 0-1 0-3 0 5 0 1 0-3 0 1 0 3 0-3 0 3 0-4-1 3 1 1 0 4-1-3 1 5 0-6 0 1 0 3 0 5 0-3 0 3 0-1-1-1 0 3 1-4-1-1 1 3 0 1 0 3 0 2 0-5 0 2-1 2 1-2 0 1 0-1 0 3 0 1-1 1 1 1 0-4 0 4 0-2 0 3 0-1 0 3 0-5-1 6 1-1 0 4 0-5-1 2 1 4-2-6 1 4 1 3 0-4 0 5 0-2-1 1 1 4 0-4 0-1 0 4-1-1 0 4 1-5 0 5 0 1 0-5 0 4 0 2 0 3-1-1 1-1 0 3-2-6 2 5 0 3 0-3 0-3 0 3 0 2 0-1 0 0-1 2 1 1 0-3-1 2 1 5-1-7 1 1-1 4 0 7 0 3 0-7 0 3 0-3-2-13 1 3-1 14 0-9-1 10-2 0 2-8-2 6 1-5 0 1 0 1-3 23 1-19-2 16 1-6 0-17 0 23-2 2 0-9 2 7-5-4 1-10-1-1 0 9-1-13 0 11 0-16-1 13-1 4 0-14-1 5-1 5 0-2 0 11 0 5 1-4-2 5 0-15-1 13-2-9 2 1 0 5-1 4 0 6-2-8 0-7 1 11-1 3 0-1-2 3 0 2 1 1-1-5 0-2-1 14 1-10-1 6 1-17-2 17-2-3 3-13-2 3 0 12 0-8-2 15-1-11 1 1 1-1-1-5-1 7 1-2-1 4-2 10 1 1-1-11 0 11-2 5 1-9 1-7-2 5-1-5 0 18-1-4 1 1 0 2-2-2 1 7-1-18-1 10 0-8 0 6-1-9 0 22-2-14 0 1 1 4-1-2-1 7 0-9-1 0-1 0-1-4 2 10-2-3 1 10 0-7-3 8 2-5 0 1-2 6 0-2 1 7-3-15 1 18 0-1-1-15-1 16 1-12-3-3-1 10 1-2 1 5-1-2 0-8-1 5-1 2 0-8-2 6 0-2-1 9 0-5 0 5 0-14-1 13 0-1 1 0-2-15-1 6 1 2-2-3 0 3 0 16-1 8 0-3-1-9 0 8-1-18 0 23-1-12 0 3-1-12 1 0-4-1 1 5 0-3 0-5-3 11 2 2-1 1 0 7-2-1 2 10-2-5 0 6-1-7-2 5 1-12-1 14-1 8 1-20-1 8-1-6 0 5 0 7-1 6-4-3 2-10 0 4-1-2-1 11 0-7 0-13 0 23-1-8 0-3-1 7 0-7-2-5 1 12-2 0 3-9-3 6 0-3-1-12 0 13 1 4-2 5-2-19 1 12 0-6-1 13-1-13-1 13-1 6 1-13 0 4-1-2-1 13 0-4 0-15-1 14-1 3 0-9 1-6 0 20-1-12-2 7 0 2-1-4-1 1-1 12 1-16-1 7 1-7-2 2 0-5-1 20 0-6 0 9-1-10 1-5-2 0-2 15 2-6 1 9-1 1-2 1 2-4-2-4 0-5 0 0-2 6 3 0-2 10-2-7 1-1 0 2-2-6 0 5-1-7 2 2-2 6 1 1 0 4-1-8 0 7-1-1 1-4-2 3 1 1 0-5-2 8 2-6-3 1 0 5 0-9 1 4 0 4-2-12 0 1 0 12-2-9 0 8 1-4 1-2-1 1-2 12 1-2-2-6 1 1 1 10-1-4 1-1-2 9-1-8 1 1-1-3-1 9 1-5-1 10 0-4 0-7-2 2 0 10 0-14 0 2 0 11-1-4-1 1 0-4-1-1 0-4 1 5-1 10 0-1 0-4-3 10 2-13 0-2-1 8-1 5 1 1 0 0-1 3-1-2 1-9 0 11 0 4-1 4-1-14 1 7 0 5-1-5-1 5 0-3-2-7 0 4 0 7 2 8-3-11 0-4-1 2 0 4-1-2 0 6 2 7-3-17 0 5 0 7 0 10 0-14 0 12-3-3 1 9-1-18-2 17 1-16 1 7-1-19 0 6 0-10-3 4 0-1-1 22 0 0 1-9-1 3 0 21-2-11-2 8 2-3 0-19-1 23-1-14 0 4-1 23-1-25-1 7 0-4-2-3 0 12 0-15-1 14 0 2-1 1 0-26-1 20-2-19 0-7-1 24 0 1 2-4-3-4 0 4 1-12-2-1 1 18 0 4-1-2-1-13 0 10-1-8 0 12-1 6-1-9 1 13-1-7 0-1 0 3-2-1 0 2 2-4-3 2 1 0-1 0 1-2 0 1-1 2 0 1 0 5 1 0-2 4 1-7 0 4-1-5-1 5-1 0 1-1-1 8 1-1-1 2 2-4-1 7-2-5 1-1 1 3-1-5-2 9 1-1 1 1-2 2 2-10-3 2 0 7 0-7 1 3 0 1 1-3-2 1 1 6 0-6-3 6 1-1 0 5 0-5 0 2 0-2-1 6 0-3 0 2 1 1-2-3 0-3 2 4 0 4-3 1 2 3-1-2 0-1 0-1 0-1 0 2-1 3 0 1 0 2-1-5 1 2 1 2 0-2-3 4 1-2 0 2 0 1 1-2-3 5 3-3-4 2 1-1 1 0 2-2-2 3 0 2 1-1-1 1 0-1 0 0-1 2 0-2 1 3-1 4-1-3 1-2 0 2 0 2 0-2 1 0-2 0 1 1-1 4 0 0 2 1-2 2 2-3-4 2 1-1 2 2-1 2-1 1 1-2-1 3-1 0 2-3-1-2-1 3 1 5 0-2 1 0-1 0 1 2-1-5 1 6 0-1-1 3 1 2-1 1 1 0 1-3-2 4 0-4-1"/>
</g><rect x="353.6" y="21.9" width="302.29999999999995" height="251.99999999999997" fill="none" stroke="#2b2b2b" stroke-width="1.3"/>
<line x1="362.90" y1="21.9" x2="362.90" y2="28.9" stroke="#2b2b2b" stroke-width="1.1"/>
<line x1="362.90" y1="273.9" x2="362.90" y2="266.9" stroke="#2b2b2b" stroke-width="1.1"/>
<line x1="392.30" y1="21.9" x2="392.30" y2="25.9" stroke="#2b2b2b" stroke-width="1.1"/>
<line x1="392.30" y1="273.9" x2="392.30" y2="269.9" stroke="#2b2b2b" stroke-width="1.1"/>
<line x1="421.70" y1="21.9" x2="421.70" y2="28.9" stroke="#2b2b2b" stroke-width="1.1"/>
<line x1="421.70" y1="273.9" x2="421.70" y2="266.9" stroke="#2b2b2b" stroke-width="1.1"/>
<line x1="451.10" y1="21.9" x2="451.10" y2="25.9" stroke="#2b2b2b" stroke-width="1.1"/>
<line x1="451.10" y1="273.9" x2="451.10" y2="269.9" stroke="#2b2b2b" stroke-width="1.1"/>
<line x1="480.50" y1="21.9" x2="480.50" y2="28.9" stroke="#2b2b2b" stroke-width="1.1"/>
<line x1="480.50" y1="273.9" x2="480.50" y2="266.9" stroke="#2b2b2b" stroke-width="1.1"/>
<line x1="509.90" y1="21.9" x2="509.90" y2="25.9" stroke="#2b2b2b" stroke-width="1.1"/>
<line x1="509.90" y1="273.9" x2="509.90" y2="269.9" stroke="#2b2b2b" stroke-width="1.1"/>
<line x1="539.30" y1="21.9" x2="539.30" y2="28.9" stroke="#2b2b2b" stroke-width="1.1"/>
<line x1="539.30" y1="273.9" x2="539.30" y2="266.9" stroke="#2b2b2b" stroke-width="1.1"/>
<line x1="568.70" y1="21.9" x2="568.70" y2="25.9" stroke="#2b2b2b" stroke-width="1.1"/>
<line x1="568.70" y1="273.9" x2="568.70" y2="269.9" stroke="#2b2b2b" stroke-width="1.1"/>
<line x1="598.10" y1="21.9" x2="598.10" y2="28.9" stroke="#2b2b2b" stroke-width="1.1"/>
<line x1="598.10" y1="273.9" x2="598.10" y2="266.9" stroke="#2b2b2b" stroke-width="1.1"/>
<line x1="627.50" y1="21.9" x2="627.50" y2="25.9" stroke="#2b2b2b" stroke-width="1.1"/>
<line x1="627.50" y1="273.9" x2="627.50" y2="269.9" stroke="#2b2b2b" stroke-width="1.1"/>
<line x1="353.6" y1="252.59" x2="357.6" y2="252.59" stroke="#2b2b2b" stroke-width="1.1"/>
<line x1="353.6" y1="231.58" x2="360.6" y2="231.58" stroke="#2b2b2b" stroke-width="1.1"/>
<line x1="353.6" y1="210.57" x2="357.6" y2="210.57" stroke="#2b2b2b" stroke-width="1.1"/>
<line x1="353.6" y1="189.56" x2="360.6" y2="189.56" stroke="#2b2b2b" stroke-width="1.1"/>
<line x1="353.6" y1="168.55" x2="357.6" y2="168.55" stroke="#2b2b2b" stroke-width="1.1"/>
<line x1="353.6" y1="147.54" x2="360.6" y2="147.54" stroke="#2b2b2b" stroke-width="1.1"/>
<line x1="353.6" y1="126.53" x2="357.6" y2="126.53" stroke="#2b2b2b" stroke-width="1.1"/>
<line x1="353.6" y1="105.52" x2="360.6" y2="105.52" stroke="#2b2b2b" stroke-width="1.1"/>
<line x1="353.6" y1="84.51" x2="357.6" y2="84.51" stroke="#2b2b2b" stroke-width="1.1"/>
<line x1="353.6" y1="63.50" x2="360.6" y2="63.50" stroke="#2b2b2b" stroke-width="1.1"/>
<line x1="353.6" y1="42.49" x2="357.6" y2="42.49" stroke="#2b2b2b" stroke-width="1.1"/>
<text x="0" y="9.6" font-size="13" font-weight="bold" fill="#111" text-anchor="start" >A</text>
<text x="320.5" y="9.8" font-size="13" font-weight="bold" fill="#111" text-anchor="start" >B</text>
<text x="61" y="10.4" font-size="11.2" font-weight="normal" fill="#1a1a1a" text-anchor="start" textLength="68" lengthAdjust="spacingAndGlyphs" stroke="#222" stroke-width="0.22" >CeSAS-6<tspan font-size="8" dy="2.5">N</tspan><tspan dy="-2.5"> WT</tspan></text>
<text x="186.2" y="10.4" font-size="11.2" font-weight="normal" fill="#1a1a1a" text-anchor="start" textLength="100" lengthAdjust="spacingAndGlyphs" stroke="#222" stroke-width="0.22" >CeSAS-6<tspan font-size="8" dy="2.5">N</tspan><tspan dy="-2.5"> Δ103-130</tspan></text>
<text x="0.6" y="22.5" font-size="11.2" font-weight="normal" fill="#1a1a1a" text-anchor="start" textLength="69" lengthAdjust="spacingAndGlyphs" stroke="#222" stroke-width="0.22" >Starting point</text>
<text x="0.6" y="35.6" font-size="11.2" font-weight="normal" fill="#1a1a1a" text-anchor="start" textLength="27.8" lengthAdjust="spacingAndGlyphs" stroke="#222" stroke-width="0.22" >(0 ns)</text>
<text x="0.3" y="139.9" font-size="11.2" font-weight="normal" fill="#1a1a1a" text-anchor="start" textLength="30" lengthAdjust="spacingAndGlyphs" stroke="#222" stroke-width="0.22" >7.5 ns</text>
<text x="0.5" y="232" font-size="11.2" font-weight="normal" fill="#1a1a1a" text-anchor="start" textLength="26.6" lengthAdjust="spacingAndGlyphs" stroke="#222" stroke-width="0.22" >10 ns</text>
<text x="0.5" y="321.8" font-size="11.2" font-weight="normal" fill="#1a1a1a" text-anchor="start" textLength="26.4" lengthAdjust="spacingAndGlyphs" stroke="#222" stroke-width="0.22" >15 ns</text>
<line x1="366" y1="40.3" x2="381.7" y2="40.3" stroke="#2c4f9e" stroke-width="2"/>
<line x1="366" y1="51.2" x2="381.7" y2="51.2" stroke="#e42620" stroke-width="2"/>
<text x="384.3" y="43.7" font-size="8.4" font-weight="normal" fill="#1a1a1a" text-anchor="start" textLength="81" lengthAdjust="spacingAndGlyphs" stroke="#222" stroke-width="0.22" >CeSAS-6<tspan font-size="6.2" dy="2">N</tspan><tspan dy="-2"> Δ103-130</tspan></text>
<text x="384.3" y="54.0" font-size="8.4" font-weight="normal" fill="#1a1a1a" text-anchor="start" textLength="54" lengthAdjust="spacingAndGlyphs" stroke="#222" stroke-width="0.22" >CeSAS-6<tspan font-size="6.2" dy="2">N</tspan><tspan dy="-2"> WT</tspan></text>
<text x="351" y="277.8" font-size="9" font-weight="normal" fill="#1a1a1a" text-anchor="end" stroke="#222" stroke-width="0.22" >0</text>
<text x="351" y="193.76" font-size="9" font-weight="normal" fill="#1a1a1a" text-anchor="end" stroke="#222" stroke-width="0.22" >200</text>
<text x="351" y="109.72000000000001" font-size="9" font-weight="normal" fill="#1a1a1a" text-anchor="end" stroke="#222" stroke-width="0.22" >400</text>
<text x="351" y="25.680000000000017" font-size="9" font-weight="normal" fill="#1a1a1a" text-anchor="end" stroke="#222" stroke-width="0.22" >600</text>
<text x="362.9" y="284.7" font-size="9" font-weight="normal" fill="#1a1a1a" text-anchor="middle" stroke="#222" stroke-width="0.22" >0</text>
<text x="480.5" y="284.7" font-size="9" font-weight="normal" fill="#1a1a1a" text-anchor="middle" stroke="#222" stroke-width="0.22" >1</text>
<text x="598.0999999999999" y="284.7" font-size="9" font-weight="normal" fill="#1a1a1a" text-anchor="middle" stroke="#222" stroke-width="0.22" >2</text>
<text x="458.5" y="297.3" font-size="12.3" font-weight="normal" fill="#1a1a1a" text-anchor="start" textLength="106" lengthAdjust="spacingAndGlyphs" stroke="#222" stroke-width="0.22" >Distance pulled (nm)</text>
<text x="0" y="0" font-size="12.3" font-weight="normal" fill="#1a1a1a" text-anchor="start" textLength="111" lengthAdjust="spacingAndGlyphs" stroke="#222" stroke-width="0.22" transform="translate(331.2,202.5) rotate(-90)">Work applied (kJ/mol)</text>
</svg>
</body></html>
